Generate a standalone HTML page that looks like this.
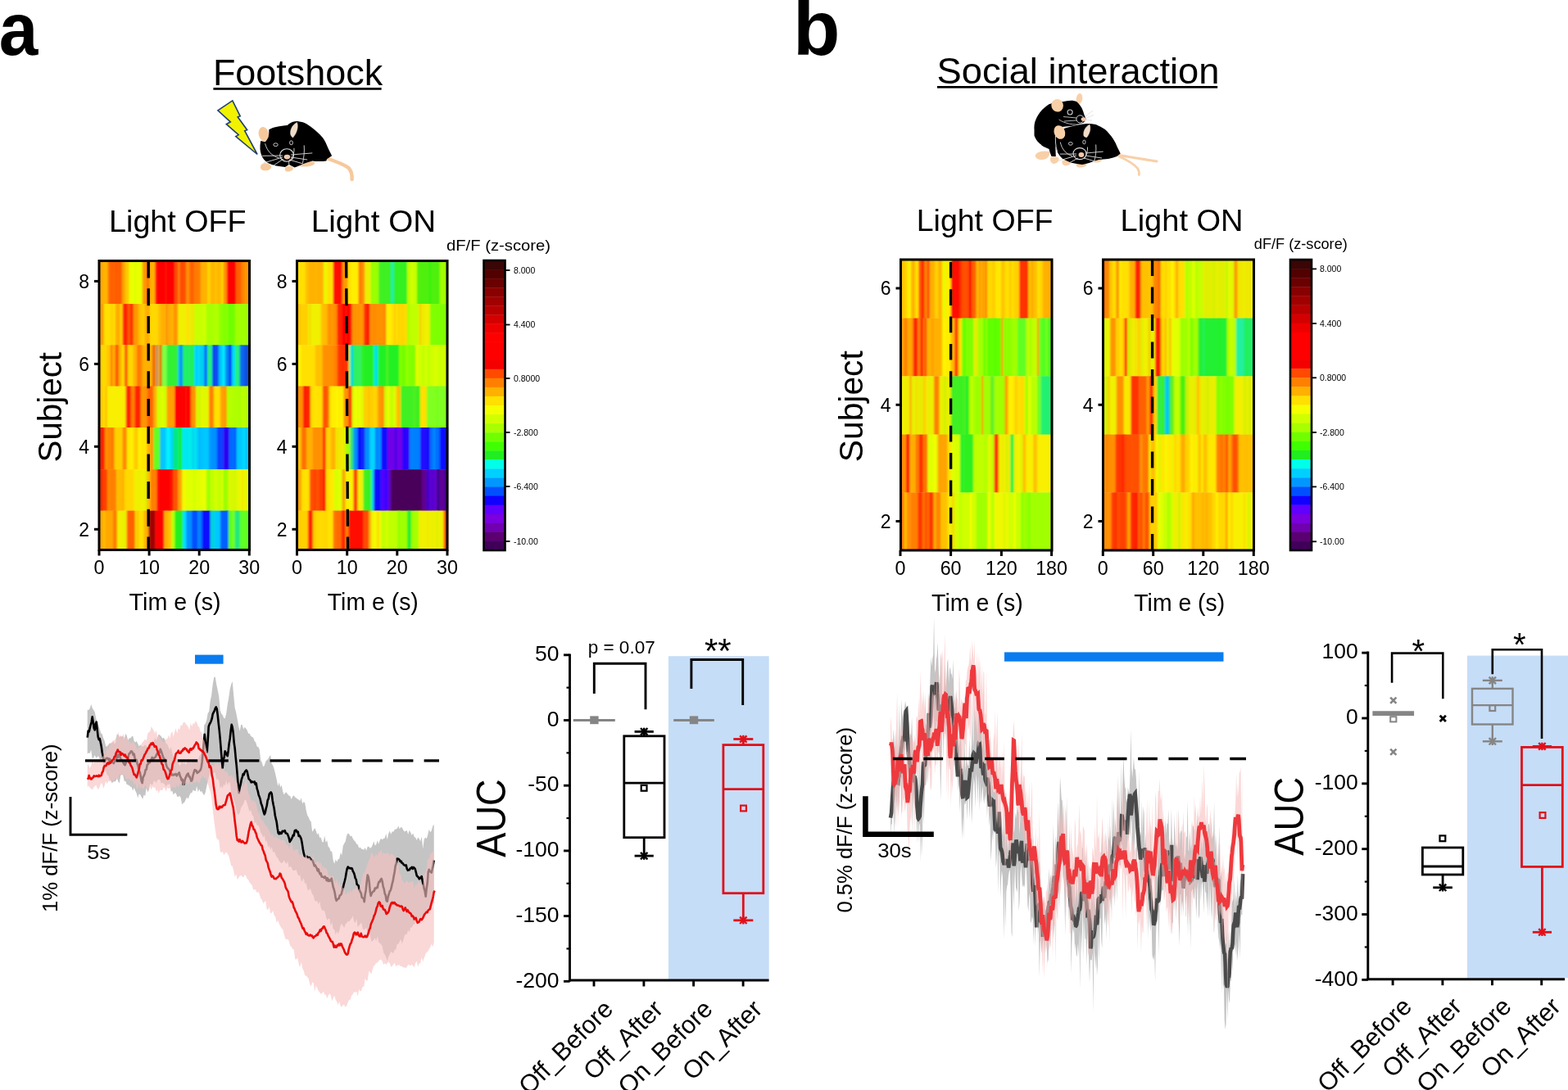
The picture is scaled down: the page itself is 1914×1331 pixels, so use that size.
<!DOCTYPE html><html><head><meta charset="utf-8"><title>Figure</title><style>html,body{margin:0;padding:0;background:#fff;overflow:hidden}svg{display:block}text{font-family:"Liberation Sans",Arial,Helvetica,sans-serif}</style></head><body>
<svg width="1914" height="1331" viewBox="0 0 1914 1331">
<defs><filter id="hb" x="-2%" y="-2%" width="104%" height="104%"><feGaussianBlur stdDeviation="0.9 0.4"/></filter></defs>
<rect width="1914" height="1331" fill="#fff"/>
<text x="-1.3" y="66.5" font-size="91" text-anchor="start" font-weight="bold" fill="#000" textLength="47.6" lengthAdjust="spacingAndGlyphs" >a</text>
<text x="968" y="67" font-size="94" text-anchor="start" font-weight="bold" fill="#000" >b</text>
<text x="259.9" y="103.6" font-size="45" text-anchor="start" font-weight="normal" fill="#000" textLength="207.3" lengthAdjust="spacingAndGlyphs" >Footshock</text>
<rect x="260.4" y="107.1" width="205.2" height="2.7" fill="#000"/>
<text x="1143.5" y="102" font-size="45" text-anchor="start" font-weight="normal" fill="#000" textLength="345" lengthAdjust="spacingAndGlyphs" >Social interaction</text>
<rect x="1144" y="105" width="342.2" height="2.7" fill="#000"/>
<polygon points="265.9,134.9 283.8,122.9 293.2,141.8 290.2,142.8 301.7,158.7 298.7,159.7 314.1,188.5 287.8,166.6 291.2,164.6 276.3,151.7 281.3,148.8" fill="#f2f200" stroke="#213f7a" stroke-width="1.6" stroke-linejoin="miter"/>
<path d="M398,193 C410,197 420,201 425.5,205 C429,209 430,214 429.6,219" fill="none" stroke="#f6c99c" stroke-width="4.4" stroke-linecap="round"/>
<path d="M319,201 C322,198 329,199 331,203 C332,207 326,209 321,208 C318,207 317,204 319,201 Z" fill="#f6c99c"/>
<path d="M348,205 C350,202 356,202 358,205 C358,208 354,210 350,209.5 C348,209 347,207 348,205 Z" fill="#f6c99c"/>
<path d="M362,200 C368,196.5 378,196 384,198 C385,201 380,203.5 372,203.5 C366,203.5 362,202.5 362,200 Z" fill="#f6c99c"/>
<ellipse cx="321.9" cy="163.8" rx="6.2" ry="8.9" fill="#f6c99c" transform="rotate(-12 321.9 163.8)"/>
<path d="M328.3,158.3 C331,156.6 334,155.6 337.2,154.9 C342,153.8 347,153.2 350.8,152.9 C353,151 355,149.6 357.6,148.8 C360,148.1 362,148 364.3,148.2 C368,148.6 371.5,149.6 374.5,151.5 C378,153.6 381.5,156.2 384.7,159 C388,162 391.5,165 394.2,168.5 C397,172.4 398.8,176.6 400.4,180.8 C402,184 403.8,187.5 405.1,190.3 L399,194.3 L398.3,196.4 C395,197 391.5,197.2 388.1,197.1 C385.8,197 383.5,196.6 381.3,196.4 C378,197.2 374.5,198.4 371.1,199.8 C367,201.5 363.5,203.5 359.6,204.5 L352.8,201.1 L348,203.9 C344.5,203.6 340.8,203.2 337.2,202.5 C333.5,201.6 330,200.6 327,199.1 C324.6,197.5 322.5,195.4 320.9,193 C319,189.8 317.8,185.9 317.5,182.1 C317.3,178.6 317.6,175.2 318.2,171.9 L323.6,173.3 C325.4,171.4 326.8,169.4 327.7,167.2 C328.3,164.3 328.5,161.3 328.3,158.3 Z" fill="#000"/>
<path d="M355,165 C353.5,160 356,153 362.5,149.5 C364,153.5 363.5,161 357.6,167.9 C356.5,167.4 355.6,166.4 355,165 Z" fill="#f3dcc4" stroke="#ddd" stroke-width="0.6"/>
<ellipse cx="336.5" cy="176.7" rx="2.7" ry="1.9" fill="none" stroke="#ccc" stroke-width="1"/>
<ellipse cx="355.5" cy="174.3" rx="1.9" ry="2.5" fill="none" stroke="#ccc" stroke-width="1"/>
<ellipse cx="350.1" cy="189.5" rx="8.4" ry="7.8" fill="none" stroke="#ddd" stroke-width="1.1"/>
<ellipse cx="350.4" cy="191.6" rx="3.8" ry="2.8" fill="#f1c8ae"/>
<g stroke="#ddd" stroke-width="0.9" fill="none"><path d="M345,190 L320.2,190.3"/><path d="M345,192 L321.5,199.1"/><path d="M346,194 L334,202"/><path d="M355,189 L381.3,186.9"/><path d="M355,192 L375.2,195"/><path d="M353,195 L370,200"/><path d="M323.6,175.3 C326,184 331,190 340.6,193"/><path d="M371.2,177.4 C371.8,185 371,192 369.5,199"/><path d="M358.9,180.8 C359.4,187 357.5,193 352.4,197"/><path d="M352.6,197.5 L352.8,201"/></g>
<path d="M1363,189 C1380,192 1396,194.5 1412,197" fill="none" stroke="#f8d0a8" stroke-width="3.2" stroke-linecap="round"/>
<path d="M1366,191 C1377,196 1385,201 1388.5,205.5 C1390.5,208.5 1390.8,211 1390.3,213.5" fill="none" stroke="#f8d0a8" stroke-width="2.8" stroke-linecap="round"/>
<path d="M1264,189 C1266,185 1274,183.5 1281,185 C1282,189 1280,194 1273,195 C1267,195.5 1263,193 1264,189 Z" fill="#f8d0a8"/>
<path d="M1282,193 C1284,190.5 1290,190.5 1292.6,193 C1293,197 1290,200 1286,200 C1283,199.5 1281.5,196 1282,193 Z" fill="#f8d0a8"/>
<path d="M1296.3,197 C1299,194.5 1305,194.5 1307.6,197.5 C1307.6,200.5 1304,202.4 1300,202.2 C1297.5,201.8 1296,199.5 1296.3,197 Z" fill="#f8d0a8"/>
<path d="M1313.6,200.5 C1317,198.5 1323,198.5 1326.4,201 C1326,203.5 1321,204.8 1317,204.6 C1314.5,204.2 1313.4,202.5 1313.6,200.5 Z" fill="#f8d0a8"/>
<path d="M1333.9,195 C1337,192.5 1342,192.5 1345.2,194.5 C1345,197.5 1341,198.8 1337.5,198.6 C1335,198.3 1333.7,197 1333.9,195 Z" fill="#f8d0a8"/>
<ellipse cx="1317.5" cy="120.5" rx="3.8" ry="6.5" fill="#f8d0a8" transform="rotate(8 1317.5 120.5)"/>
<path d="M1262.5,158.1 C1262.2,155 1262.5,152 1263.3,149.1 C1264.5,145.3 1266.3,141.7 1268.5,138.5 C1272,133.8 1276,130.2 1280.5,127.3 C1286,125.2 1291.5,124.5 1297.1,124.3 C1300.6,123.6 1304.1,123 1307.6,122.8 C1310,122.8 1312.3,123.3 1314.4,124.3 C1316.8,126.4 1318.8,128.9 1320.4,131.8 C1321.7,134.5 1322.7,137.3 1323.4,140.1 C1324.2,141.9 1325,143.6 1325.6,145.3 C1324.8,147 1323.8,148.5 1322.6,149.8 C1317.6,151.6 1312.6,153.1 1307.6,154.3 C1303.1,154.8 1298.6,155 1294.1,155.1 C1291.5,156.8 1289.5,158.8 1288.1,161.1 L1288.1,172.4 L1288.8,191.1 L1283.5,191.1 C1282.2,188.1 1281.2,185.1 1280.5,182.1 C1278.2,181.2 1276,180.2 1273.8,179.1 C1271.2,177 1268.7,174.8 1266.3,172.4 C1264.6,170.3 1263.3,168 1262.5,165.6 Z" fill="#000"/>
<ellipse cx="1290.6" cy="128.8" rx="7.3" ry="7.8" fill="#f8d0a8" transform="rotate(-20 1290.6 128.8)"/>
<circle cx="1306.1" cy="137" r="3" fill="none" stroke="#ccc" stroke-width="1.1"/>
<circle cx="1318.5" cy="145.4" r="4.6" fill="none" stroke="#ddd" stroke-width="1"/>
<ellipse cx="1322.6" cy="145.6" rx="3" ry="2.3" fill="#f1c8ae"/>
<g stroke="#ddd" stroke-width="0.8" fill="none"><path d="M1325,142 L1334,135"/><path d="M1326,144 L1335,140.5"/><path d="M1325.5,146.5 L1333,147"/><path d="M1314,144 L1298,142.5"/><path d="M1314,147 L1299,148"/><path d="M1292.6,146 C1300,151 1310,153 1322.6,151.5"/><path d="M1297,155.5 C1305,154.5 1314,153.5 1323,152.5"/></g>
<path d="M1288.1,172.4 C1288,169 1288.2,165.8 1288.8,162.6 C1292.2,160.3 1296,158.3 1300.1,156.6 C1305,155 1310,153.7 1315.1,152.8 C1318.8,151.9 1322.6,151.2 1326.4,150.9 C1330.2,150.8 1334,151.2 1337.6,152.1 C1341.6,153.7 1345.4,155.7 1348.9,158.1 C1352.5,161.5 1355.8,165.3 1358.7,169.4 C1360.8,172.7 1362.6,176.2 1364,179.9 C1365.3,182.4 1366.6,184.9 1367.7,187.4 L1363.2,191.1 C1359.7,192.3 1356.2,193.3 1352.7,194.1 C1348.9,194.5 1345.1,194.7 1341.4,194.9 C1337.6,196.1 1333.9,197.4 1330.1,198.7 C1327.1,199.6 1324.1,200.3 1321.1,200.9 C1316.6,200.4 1312.1,199.7 1307.6,198.7 C1304,197.4 1300.5,195.9 1297.1,194.1 C1294.8,191.8 1292.8,189.3 1291.1,186.6 C1289.8,183.7 1288.8,180.7 1288.1,177.6 Z" fill="#000"/>
<ellipse cx="1293.4" cy="161.5" rx="6.6" ry="8.6" fill="#f8d0a8" transform="rotate(-22 1293.4 161.5)"/>
<path d="M1323,166 C1322,161 1324,155.5 1330,152.2 C1331.5,156 1331,162 1326.5,167.8 C1325,167.5 1323.8,167 1323,166 Z" fill="#f3dcc4" stroke="#ddd" stroke-width="0.6"/>
<ellipse cx="1306.8" cy="175.4" rx="2.5" ry="1.8" fill="none" stroke="#ccc" stroke-width="1"/>
<ellipse cx="1323.4" cy="173.5" rx="1.6" ry="2.4" fill="none" stroke="#ccc" stroke-width="1"/>
<ellipse cx="1318" cy="187.6" rx="8" ry="7" fill="none" stroke="#ddd" stroke-width="1.1"/>
<ellipse cx="1319.9" cy="189" rx="3.4" ry="2.9" fill="#f1c8ae"/>
<g stroke="#ddd" stroke-width="0.9" fill="none"><path d="M1314,188 L1294,188.1"/><path d="M1314,190 L1291.8,196.4"/><path d="M1316,193 L1305,199"/><path d="M1325,187 L1346.7,185.1"/><path d="M1325,190 L1345,193"/><path d="M1323,193 L1340,198"/><path d="M1294.3,173.5 C1296,182 1301,188 1309,190.5"/><path d="M1337.7,176.5 C1338.3,184 1337.5,191 1335.5,197.5"/><path d="M1327.5,179.5 C1328,185 1326.5,190 1323.5,193.5"/><path d="M1288.8,163 C1287.8,170 1288.4,178 1290.5,185"/></g>
<g filter="url(#hb)">
<rect x="121.0" y="318.5" width="11.3" height="52.9" fill="#ffb000"/>
<rect x="122.9" y="318.5" width="1.2" height="52.9" fill="#ff9b00"/>
<rect x="127.6" y="318.5" width="1.1" height="52.9" fill="#ffbb00"/>
<rect x="131.9" y="318.5" width="17.3" height="52.9" fill="#ff6000"/>
<rect x="132.6" y="318.5" width="1.7" height="52.9" fill="#ff7100"/>
<rect x="141.6" y="318.5" width="1.2" height="52.9" fill="#ff5500"/>
<rect x="145.9" y="318.5" width="1.2" height="52.9" fill="#ff5200"/>
<rect x="148.8" y="318.5" width="4.4" height="52.9" fill="#ffa000"/>
<rect x="149.8" y="318.5" width="1.0" height="52.9" fill="#ffa600"/>
<rect x="152.7" y="318.5" width="5.4" height="52.9" fill="#ffd000"/>
<rect x="153.8" y="318.5" width="2.1" height="52.9" fill="#ffc200"/>
<rect x="157.7" y="318.5" width="16.3" height="52.9" fill="#e8ff00"/>
<rect x="160.0" y="318.5" width="1.0" height="52.9" fill="#f1ff00"/>
<rect x="164.3" y="318.5" width="1.7" height="52.9" fill="#dbff00"/>
<rect x="167.7" y="318.5" width="1.9" height="52.9" fill="#eaff00"/>
<rect x="172.3" y="318.5" width="1.2" height="52.9" fill="#eeff00"/>
<rect x="173.6" y="318.5" width="5.4" height="52.9" fill="#ffa000"/>
<rect x="175.2" y="318.5" width="1.4" height="52.9" fill="#ff8e00"/>
<rect x="178.6" y="318.5" width="4.4" height="52.9" fill="#ff8000"/>
<rect x="180.2" y="318.5" width="1.5" height="52.9" fill="#ff7000"/>
<rect x="182.5" y="318.5" width="7.3" height="52.9" fill="#ffb000"/>
<rect x="186.3" y="318.5" width="1.3" height="52.9" fill="#ffb300"/>
<rect x="189.5" y="318.5" width="24.2" height="52.9" fill="#ff0000"/>
<rect x="190.8" y="318.5" width="2.2" height="52.9" fill="#ff0b00"/>
<rect x="201.6" y="318.5" width="1.6" height="52.9" fill="#ff1a00"/>
<rect x="213.3" y="318.5" width="4.4" height="52.9" fill="#ff5000"/>
<rect x="215.0" y="318.5" width="1.2" height="52.9" fill="#ff3e00"/>
<rect x="217.3" y="318.5" width="2.4" height="52.9" fill="#ff8000"/>
<rect x="219.3" y="318.5" width="8.3" height="52.9" fill="#ff5000"/>
<rect x="221.0" y="318.5" width="1.7" height="52.9" fill="#ff4500"/>
<rect x="224.1" y="318.5" width="1.6" height="52.9" fill="#ff5100"/>
<rect x="227.2" y="318.5" width="4.4" height="52.9" fill="#ff9000"/>
<rect x="231.2" y="318.5" width="6.4" height="52.9" fill="#ff6000"/>
<rect x="233.5" y="318.5" width="1.7" height="52.9" fill="#ff6400"/>
<rect x="237.1" y="318.5" width="8.3" height="52.9" fill="#ff8000"/>
<rect x="239.2" y="318.5" width="1.1" height="52.9" fill="#ff6f00"/>
<rect x="242.6" y="318.5" width="1.2" height="52.9" fill="#ff8200"/>
<rect x="245.1" y="318.5" width="8.3" height="52.9" fill="#ffb000"/>
<rect x="246.7" y="318.5" width="1.0" height="52.9" fill="#ffb200"/>
<rect x="253.0" y="318.5" width="4.4" height="52.9" fill="#ffd000"/>
<rect x="253.8" y="318.5" width="1.1" height="52.9" fill="#ffd900"/>
<rect x="257.0" y="318.5" width="16.3" height="52.9" fill="#ffb800"/>
<rect x="259.4" y="318.5" width="2.2" height="52.9" fill="#ffb500"/>
<rect x="262.4" y="318.5" width="1.9" height="52.9" fill="#ffc800"/>
<rect x="270.5" y="318.5" width="2.1" height="52.9" fill="#ffe200"/>
<rect x="272.9" y="318.5" width="4.4" height="52.9" fill="#ff8000"/>
<rect x="274.6" y="318.5" width="2.2" height="52.9" fill="#ff9e00"/>
<rect x="276.8" y="318.5" width="11.3" height="52.9" fill="#ff0000"/>
<rect x="287.7" y="318.5" width="7.3" height="52.9" fill="#ff6000"/>
<rect x="290.0" y="318.5" width="1.6" height="52.9" fill="#ff5c00"/>
<rect x="294.7" y="318.5" width="10.2" height="52.9" fill="#ff9000"/>
<rect x="295.4" y="318.5" width="2.2" height="52.9" fill="#ff8000"/>
<rect x="300.2" y="318.5" width="1.7" height="52.9" fill="#ff9f00"/>
<rect x="303.4" y="318.5" width="1.1" height="52.9" fill="#ff9500"/>
<rect x="121.0" y="371.1" width="6.3" height="50.5" fill="#ffb000"/>
<rect x="123.1" y="371.1" width="2.4" height="50.5" fill="#ff9400"/>
<rect x="126.9" y="371.1" width="14.3" height="50.5" fill="#ffe000"/>
<rect x="135.6" y="371.1" width="2.2" height="50.5" fill="#ffce00"/>
<rect x="140.8" y="371.1" width="9.3" height="50.5" fill="#ffb000"/>
<rect x="142.5" y="371.1" width="2.2" height="50.5" fill="#ffa800"/>
<rect x="147.0" y="371.1" width="1.9" height="50.5" fill="#ffdf00"/>
<rect x="149.8" y="371.1" width="6.4" height="50.5" fill="#ff2000"/>
<rect x="155.7" y="371.1" width="3.4" height="50.5" fill="#ff6000"/>
<rect x="158.7" y="371.1" width="4.4" height="50.5" fill="#ff2000"/>
<rect x="160.0" y="371.1" width="1.7" height="50.5" fill="#ff3900"/>
<rect x="162.7" y="371.1" width="7.3" height="50.5" fill="#ffa000"/>
<rect x="164.5" y="371.1" width="2.2" height="50.5" fill="#ff9200"/>
<rect x="169.6" y="371.1" width="7.3" height="50.5" fill="#ffd000"/>
<rect x="170.7" y="371.1" width="2.0" height="50.5" fill="#ffbd00"/>
<rect x="174.8" y="371.1" width="1.4" height="50.5" fill="#ffc900"/>
<rect x="176.6" y="371.1" width="6.4" height="50.5" fill="#ffb000"/>
<rect x="178.7" y="371.1" width="1.4" height="50.5" fill="#ffb100"/>
<rect x="181.3" y="371.1" width="1.1" height="50.5" fill="#ff9600"/>
<rect x="182.5" y="371.1" width="13.3" height="50.5" fill="#ffd800"/>
<rect x="193.0" y="371.1" width="1.9" height="50.5" fill="#ffbe00"/>
<rect x="195.4" y="371.1" width="7.3" height="50.5" fill="#ffb000"/>
<rect x="201.2" y="371.1" width="1.2" height="50.5" fill="#ffb200"/>
<rect x="202.4" y="371.1" width="3.4" height="50.5" fill="#ff9000"/>
<rect x="205.4" y="371.1" width="6.4" height="50.5" fill="#ffb000"/>
<rect x="206.9" y="371.1" width="1.8" height="50.5" fill="#ffa900"/>
<rect x="209.6" y="371.1" width="1.6" height="50.5" fill="#ffc000"/>
<rect x="211.3" y="371.1" width="6.4" height="50.5" fill="#ff9800"/>
<rect x="213.1" y="371.1" width="1.0" height="50.5" fill="#ff8c00"/>
<rect x="217.3" y="371.1" width="10.3" height="50.5" fill="#f0f000"/>
<rect x="227.2" y="371.1" width="4.4" height="50.5" fill="#ffe000"/>
<rect x="231.2" y="371.1" width="6.4" height="50.5" fill="#f0f000"/>
<rect x="232.1" y="371.1" width="1.5" height="50.5" fill="#def000"/>
<rect x="234.8" y="371.1" width="1.7" height="50.5" fill="#f0df00"/>
<rect x="237.1" y="371.1" width="15.3" height="50.5" fill="#c8ff00"/>
<rect x="238.6" y="371.1" width="0.9" height="50.5" fill="#c0ff00"/>
<rect x="241.2" y="371.1" width="1.1" height="50.5" fill="#d2ff00"/>
<rect x="248.3" y="371.1" width="1.3" height="50.5" fill="#d6ff00"/>
<rect x="252.0" y="371.1" width="15.3" height="50.5" fill="#a8ff00"/>
<rect x="262.4" y="371.1" width="1.0" height="50.5" fill="#c7ff00"/>
<rect x="265.6" y="371.1" width="1.3" height="50.5" fill="#c2ff00"/>
<rect x="266.9" y="371.1" width="8.3" height="50.5" fill="#90ff00"/>
<rect x="272.2" y="371.1" width="1.2" height="50.5" fill="#79ff00"/>
<rect x="274.8" y="371.1" width="12.3" height="50.5" fill="#70ff00"/>
<rect x="276.0" y="371.1" width="2.1" height="50.5" fill="#91ff00"/>
<rect x="286.8" y="371.1" width="18.1" height="50.5" fill="#a0ff00"/>
<rect x="289.2" y="371.1" width="1.1" height="50.5" fill="#9dff00"/>
<rect x="121.0" y="421.3" width="14.3" height="50.6" fill="#ffc800"/>
<rect x="121.7" y="421.3" width="1.5" height="50.6" fill="#ffbf00"/>
<rect x="125.4" y="421.3" width="1.0" height="50.6" fill="#f4ff00"/>
<rect x="128.1" y="421.3" width="1.8" height="50.6" fill="#ffdf00"/>
<rect x="131.1" y="421.3" width="0.9" height="50.6" fill="#ffc400"/>
<rect x="134.9" y="421.3" width="2.4" height="50.6" fill="#ff7000"/>
<rect x="136.9" y="421.3" width="4.4" height="50.6" fill="#ffb000"/>
<rect x="138.7" y="421.3" width="2.1" height="50.6" fill="#ffab00"/>
<rect x="140.8" y="421.3" width="4.4" height="50.6" fill="#ff6000"/>
<rect x="141.6" y="421.3" width="1.3" height="50.6" fill="#ff4c00"/>
<rect x="144.8" y="421.3" width="3.4" height="50.6" fill="#ffb000"/>
<rect x="147.8" y="421.3" width="4.4" height="50.6" fill="#ffd000"/>
<rect x="150.0" y="421.3" width="1.8" height="50.6" fill="#ffea00"/>
<rect x="151.8" y="421.3" width="4.4" height="50.6" fill="#ff6000"/>
<rect x="154.1" y="421.3" width="1.7" height="50.6" fill="#ff4f00"/>
<rect x="155.7" y="421.3" width="7.3" height="50.6" fill="#ffd800"/>
<rect x="157.1" y="421.3" width="0.9" height="50.6" fill="#ffda00"/>
<rect x="162.7" y="421.3" width="5.4" height="50.6" fill="#ffb000"/>
<rect x="167.6" y="421.3" width="2.4" height="50.6" fill="#ff6000"/>
<rect x="169.6" y="421.3" width="4.4" height="50.6" fill="#ff9000"/>
<rect x="170.9" y="421.3" width="1.6" height="50.6" fill="#ff7800"/>
<rect x="173.6" y="421.3" width="13.3" height="50.6" fill="#ffb000"/>
<rect x="186.5" y="421.3" width="2.4" height="50.6" fill="#e04000"/>
<rect x="188.5" y="421.3" width="3.4" height="50.6" fill="#ff9000"/>
<rect x="191.5" y="421.3" width="1.4" height="50.6" fill="#0080ff"/>
<rect x="192.4" y="421.3" width="3.4" height="50.6" fill="#ffb000"/>
<rect x="195.4" y="421.3" width="2.4" height="50.6" fill="#d04000"/>
<rect x="197.4" y="421.3" width="6.4" height="50.6" fill="#80ff40"/>
<rect x="201.9" y="421.3" width="0.9" height="50.6" fill="#84ff40"/>
<rect x="203.4" y="421.3" width="14.3" height="50.6" fill="#30f030"/>
<rect x="204.4" y="421.3" width="1.5" height="50.6" fill="#30f046"/>
<rect x="211.9" y="421.3" width="1.7" height="50.6" fill="#3af030"/>
<rect x="217.3" y="421.3" width="2.4" height="50.6" fill="#00c0ff"/>
<rect x="219.3" y="421.3" width="4.4" height="50.6" fill="#0090f0"/>
<rect x="221.2" y="421.3" width="2.0" height="50.6" fill="#009ff0"/>
<rect x="223.2" y="421.3" width="14.3" height="50.6" fill="#20f060"/>
<rect x="227.7" y="421.3" width="1.6" height="50.6" fill="#20f068"/>
<rect x="234.9" y="421.3" width="2.0" height="50.6" fill="#20f04a"/>
<rect x="237.1" y="421.3" width="6.4" height="50.6" fill="#00e0ff"/>
<rect x="239.5" y="421.3" width="1.4" height="50.6" fill="#00b8ff"/>
<rect x="243.1" y="421.3" width="6.4" height="50.6" fill="#00d0f0"/>
<rect x="249.0" y="421.3" width="4.4" height="50.6" fill="#0080ff"/>
<rect x="250.8" y="421.3" width="2.2" height="50.6" fill="#0064ff"/>
<rect x="253.0" y="421.3" width="6.4" height="50.6" fill="#20f080"/>
<rect x="259.0" y="421.3" width="8.3" height="50.6" fill="#1050f0"/>
<rect x="259.6" y="421.3" width="2.2" height="50.6" fill="#103cf0"/>
<rect x="264.7" y="421.3" width="1.1" height="50.6" fill="#1048f0"/>
<rect x="266.9" y="421.3" width="4.4" height="50.6" fill="#00c0ff"/>
<rect x="270.9" y="421.3" width="4.4" height="50.6" fill="#00e8ff"/>
<rect x="274.8" y="421.3" width="4.4" height="50.6" fill="#0090f0"/>
<rect x="278.8" y="421.3" width="4.4" height="50.6" fill="#0050ff"/>
<rect x="280.5" y="421.3" width="1.8" height="50.6" fill="#003aff"/>
<rect x="282.8" y="421.3" width="4.4" height="50.6" fill="#00e0ff"/>
<rect x="283.7" y="421.3" width="1.3" height="50.6" fill="#00cbff"/>
<rect x="286.8" y="421.3" width="6.4" height="50.6" fill="#20f080"/>
<rect x="292.7" y="421.3" width="6.4" height="50.6" fill="#1060f0"/>
<rect x="293.9" y="421.3" width="1.7" height="50.6" fill="#1074f0"/>
<rect x="298.7" y="421.3" width="6.2" height="50.6" fill="#1050e0"/>
<rect x="121.0" y="471.6" width="10.3" height="50.7" fill="#ffc000"/>
<rect x="122.9" y="471.6" width="2.0" height="50.7" fill="#ffcd00"/>
<rect x="125.7" y="471.6" width="2.1" height="50.7" fill="#ffe600"/>
<rect x="130.9" y="471.6" width="23.2" height="50.7" fill="#f8f000"/>
<rect x="153.7" y="471.6" width="6.4" height="50.7" fill="#ff2000"/>
<rect x="159.7" y="471.6" width="5.4" height="50.7" fill="#ff8000"/>
<rect x="164.7" y="471.6" width="7.3" height="50.7" fill="#ff2000"/>
<rect x="171.6" y="471.6" width="8.3" height="50.7" fill="#ff9000"/>
<rect x="172.4" y="471.6" width="2.1" height="50.7" fill="#ff9c00"/>
<rect x="176.2" y="471.6" width="2.0" height="50.7" fill="#ff9500"/>
<rect x="179.5" y="471.6" width="8.3" height="50.7" fill="#ff7000"/>
<rect x="181.8" y="471.6" width="1.1" height="50.7" fill="#ff4900"/>
<rect x="184.0" y="471.6" width="2.1" height="50.7" fill="#ff6000"/>
<rect x="187.5" y="471.6" width="4.4" height="50.7" fill="#ffb000"/>
<rect x="191.5" y="471.6" width="12.3" height="50.7" fill="#d0ff00"/>
<rect x="197.5" y="471.6" width="1.3" height="50.7" fill="#f3ff00"/>
<rect x="203.4" y="471.6" width="10.3" height="50.7" fill="#ffa000"/>
<rect x="208.9" y="471.6" width="2.1" height="50.7" fill="#ff9f00"/>
<rect x="213.3" y="471.6" width="20.3" height="50.7" fill="#ff0000"/>
<rect x="226.0" y="471.6" width="2.1" height="50.7" fill="#ff0b00"/>
<rect x="233.1" y="471.6" width="6.4" height="50.7" fill="#ff9000"/>
<rect x="235.0" y="471.6" width="1.7" height="50.7" fill="#ff9200"/>
<rect x="239.1" y="471.6" width="16.3" height="50.7" fill="#e0f800"/>
<rect x="240.1" y="471.6" width="1.7" height="50.7" fill="#d2f800"/>
<rect x="242.9" y="471.6" width="1.5" height="50.7" fill="#bef800"/>
<rect x="246.0" y="471.6" width="1.9" height="50.7" fill="#e9f800"/>
<rect x="253.8" y="471.6" width="1.0" height="50.7" fill="#f8f300"/>
<rect x="255.0" y="471.6" width="6.4" height="50.7" fill="#ff8000"/>
<rect x="260.9" y="471.6" width="8.3" height="50.7" fill="#ffe000"/>
<rect x="268.9" y="471.6" width="8.3" height="50.7" fill="#ffa000"/>
<rect x="274.8" y="471.6" width="1.1" height="50.7" fill="#ff8400"/>
<rect x="276.8" y="471.6" width="28.1" height="50.7" fill="#b0ff00"/>
<rect x="278.3" y="471.6" width="1.4" height="50.7" fill="#bbff00"/>
<rect x="281.1" y="471.6" width="2.3" height="50.7" fill="#b8ff00"/>
<rect x="291.4" y="471.6" width="1.2" height="50.7" fill="#a5ff00"/>
<rect x="295.9" y="471.6" width="1.1" height="50.7" fill="#caff00"/>
<rect x="299.4" y="471.6" width="1.5" height="50.7" fill="#bbff00"/>
<rect x="301.8" y="471.6" width="2.4" height="50.7" fill="#bdff00"/>
<rect x="121.0" y="522.0" width="7.3" height="51.5" fill="#ff2000"/>
<rect x="127.9" y="522.0" width="12.3" height="51.5" fill="#ff9000"/>
<rect x="132.2" y="522.0" width="1.7" height="51.5" fill="#ff7b00"/>
<rect x="135.7" y="522.0" width="2.2" height="51.5" fill="#ff6d00"/>
<rect x="139.8" y="522.0" width="10.3" height="51.5" fill="#ffd000"/>
<rect x="149.8" y="522.0" width="5.4" height="51.5" fill="#ff8000"/>
<rect x="152.0" y="522.0" width="0.9" height="51.5" fill="#ff9c00"/>
<rect x="154.7" y="522.0" width="10.3" height="51.5" fill="#ffee00"/>
<rect x="156.9" y="522.0" width="2.4" height="51.5" fill="#ffe600"/>
<rect x="160.4" y="522.0" width="1.0" height="51.5" fill="#f9ff00"/>
<rect x="162.7" y="522.0" width="1.1" height="51.5" fill="#ffcc00"/>
<rect x="164.7" y="522.0" width="3.4" height="51.5" fill="#ffc000"/>
<rect x="167.6" y="522.0" width="12.3" height="51.5" fill="#ffe800"/>
<rect x="170.0" y="522.0" width="1.2" height="51.5" fill="#fffa00"/>
<rect x="179.5" y="522.0" width="8.3" height="51.5" fill="#ffa000"/>
<rect x="181.0" y="522.0" width="1.9" height="51.5" fill="#ffba00"/>
<rect x="185.5" y="522.0" width="1.0" height="51.5" fill="#ff7c00"/>
<rect x="187.5" y="522.0" width="8.3" height="51.5" fill="#60ff20"/>
<rect x="195.4" y="522.0" width="2.4" height="51.5" fill="#00b0ff"/>
<rect x="197.4" y="522.0" width="5.4" height="51.5" fill="#00c8ff"/>
<rect x="199.6" y="522.0" width="1.4" height="51.5" fill="#00c5ff"/>
<rect x="202.4" y="522.0" width="9.3" height="51.5" fill="#00e0ff"/>
<rect x="204.3" y="522.0" width="2.1" height="51.5" fill="#00fffd"/>
<rect x="209.8" y="522.0" width="1.5" height="51.5" fill="#00c2ff"/>
<rect x="211.3" y="522.0" width="6.4" height="51.5" fill="#00e880"/>
<rect x="215.6" y="522.0" width="1.0" height="51.5" fill="#00e89b"/>
<rect x="217.3" y="522.0" width="5.4" height="51.5" fill="#10f040"/>
<rect x="222.2" y="522.0" width="19.3" height="51.5" fill="#00e8f0"/>
<rect x="226.4" y="522.0" width="2.0" height="51.5" fill="#00e7f0"/>
<rect x="231.7" y="522.0" width="1.7" height="51.5" fill="#00f0e4"/>
<rect x="234.7" y="522.0" width="2.3" height="51.5" fill="#00d3f0"/>
<rect x="239.5" y="522.0" width="1.6" height="51.5" fill="#00d2f0"/>
<rect x="241.1" y="522.0" width="14.3" height="51.5" fill="#00c8ff"/>
<rect x="242.6" y="522.0" width="1.5" height="51.5" fill="#00afff"/>
<rect x="245.7" y="522.0" width="2.1" height="51.5" fill="#00c0ff"/>
<rect x="255.0" y="522.0" width="10.3" height="51.5" fill="#0090ff"/>
<rect x="255.5" y="522.0" width="2.2" height="51.5" fill="#009cff"/>
<rect x="259.5" y="522.0" width="1.3" height="51.5" fill="#0094ff"/>
<rect x="264.9" y="522.0" width="8.3" height="51.5" fill="#1040ff"/>
<rect x="272.9" y="522.0" width="7.3" height="51.5" fill="#3000f0"/>
<rect x="275.3" y="522.0" width="1.1" height="51.5" fill="#1b00f0"/>
<rect x="279.8" y="522.0" width="9.3" height="51.5" fill="#0070ff"/>
<rect x="281.6" y="522.0" width="1.8" height="51.5" fill="#0065ff"/>
<rect x="286.3" y="522.0" width="1.5" height="51.5" fill="#004fff"/>
<rect x="288.7" y="522.0" width="16.2" height="51.5" fill="#00c8ff"/>
<rect x="296.4" y="522.0" width="2.0" height="51.5" fill="#00e2ff"/>
<rect x="121.0" y="573.2" width="10.3" height="50.7" fill="#ff4000"/>
<rect x="122.8" y="573.2" width="2.2" height="50.7" fill="#ff1d00"/>
<rect x="130.9" y="573.2" width="11.3" height="50.7" fill="#ff8000"/>
<rect x="131.4" y="573.2" width="2.3" height="50.7" fill="#ff8d00"/>
<rect x="141.8" y="573.2" width="10.3" height="50.7" fill="#ffb000"/>
<rect x="142.3" y="573.2" width="2.2" height="50.7" fill="#ffc600"/>
<rect x="146.3" y="573.2" width="2.3" height="50.7" fill="#ffbf00"/>
<rect x="151.8" y="573.2" width="12.3" height="50.7" fill="#ffd800"/>
<rect x="161.1" y="573.2" width="1.5" height="50.7" fill="#ffdb00"/>
<rect x="163.7" y="573.2" width="16.3" height="50.7" fill="#f0f000"/>
<rect x="169.4" y="573.2" width="1.0" height="50.7" fill="#ecf000"/>
<rect x="177.9" y="573.2" width="1.7" height="50.7" fill="#cef000"/>
<rect x="179.5" y="573.2" width="4.4" height="50.7" fill="#ffc000"/>
<rect x="181.3" y="573.2" width="1.9" height="50.7" fill="#ffbf00"/>
<rect x="183.5" y="573.2" width="8.3" height="50.7" fill="#ff8000"/>
<rect x="185.6" y="573.2" width="0.9" height="50.7" fill="#ff7900"/>
<rect x="191.5" y="573.2" width="20.3" height="50.7" fill="#ff0000"/>
<rect x="193.4" y="573.2" width="1.7" height="50.7" fill="#ff0f00"/>
<rect x="208.0" y="573.2" width="1.4" height="50.7" fill="#ff1500"/>
<rect x="211.3" y="573.2" width="6.4" height="50.7" fill="#ff5000"/>
<rect x="212.8" y="573.2" width="1.0" height="50.7" fill="#ff5d00"/>
<rect x="217.3" y="573.2" width="5.4" height="50.7" fill="#ffa000"/>
<rect x="220.1" y="573.2" width="1.5" height="50.7" fill="#ffad00"/>
<rect x="222.2" y="573.2" width="30.2" height="50.7" fill="#e0ff00"/>
<rect x="224.1" y="573.2" width="2.3" height="50.7" fill="#fff600"/>
<rect x="236.4" y="573.2" width="1.9" height="50.7" fill="#cdff00"/>
<rect x="245.6" y="573.2" width="1.1" height="50.7" fill="#f4ff00"/>
<rect x="248.7" y="573.2" width="1.8" height="50.7" fill="#f2ff00"/>
<rect x="252.0" y="573.2" width="5.4" height="50.7" fill="#a0ff00"/>
<rect x="257.0" y="573.2" width="16.3" height="50.7" fill="#d0ff00"/>
<rect x="258.5" y="573.2" width="1.9" height="50.7" fill="#b5ff00"/>
<rect x="267.4" y="573.2" width="1.1" height="50.7" fill="#abff00"/>
<rect x="271.4" y="573.2" width="1.2" height="50.7" fill="#d8ff00"/>
<rect x="272.9" y="573.2" width="6.4" height="50.7" fill="#a0ff00"/>
<rect x="273.6" y="573.2" width="1.3" height="50.7" fill="#82ff00"/>
<rect x="278.8" y="573.2" width="26.1" height="50.7" fill="#e8f800"/>
<rect x="280.7" y="573.2" width="0.9" height="50.7" fill="#c5f800"/>
<rect x="282.8" y="573.2" width="1.9" height="50.7" fill="#d0f800"/>
<rect x="285.6" y="573.2" width="2.4" height="50.7" fill="#ccf800"/>
<rect x="289.2" y="573.2" width="1.9" height="50.7" fill="#ddf800"/>
<rect x="293.5" y="573.2" width="1.1" height="50.7" fill="#f8f800"/>
<rect x="295.4" y="573.2" width="1.7" height="50.7" fill="#f8e100"/>
<rect x="298.0" y="573.2" width="2.2" height="50.7" fill="#eaf800"/>
<rect x="303.5" y="573.2" width="1.0" height="50.7" fill="#f1f800"/>
<rect x="121.0" y="623.6" width="17.3" height="48.2" fill="#ffa800"/>
<rect x="126.0" y="623.6" width="2.1" height="48.2" fill="#ffc400"/>
<rect x="137.9" y="623.6" width="5.4" height="48.2" fill="#ff8000"/>
<rect x="140.1" y="623.6" width="1.6" height="48.2" fill="#ff7500"/>
<rect x="142.8" y="623.6" width="12.3" height="48.2" fill="#f0f000"/>
<rect x="149.7" y="623.6" width="2.3" height="48.2" fill="#e5f000"/>
<rect x="154.7" y="623.6" width="10.3" height="48.2" fill="#ff6000"/>
<rect x="164.7" y="623.6" width="11.3" height="48.2" fill="#ffe000"/>
<rect x="167.0" y="623.6" width="1.9" height="48.2" fill="#ffba00"/>
<rect x="175.6" y="623.6" width="6.4" height="48.2" fill="#ffb000"/>
<rect x="181.5" y="623.6" width="8.3" height="48.2" fill="#a00000"/>
<rect x="187.4" y="623.6" width="1.2" height="48.2" fill="#a00700"/>
<rect x="189.5" y="623.6" width="11.3" height="48.2" fill="#ff0000"/>
<rect x="200.4" y="623.6" width="9.3" height="48.2" fill="#ffc000"/>
<rect x="202.5" y="623.6" width="1.9" height="48.2" fill="#ffa400"/>
<rect x="209.3" y="623.6" width="4.4" height="48.2" fill="#c0ff00"/>
<rect x="209.9" y="623.6" width="1.0" height="48.2" fill="#c2ff00"/>
<rect x="211.9" y="623.6" width="1.4" height="48.2" fill="#b2ff00"/>
<rect x="213.3" y="623.6" width="10.3" height="48.2" fill="#20f020"/>
<rect x="214.2" y="623.6" width="1.0" height="48.2" fill="#31f020"/>
<rect x="223.2" y="623.6" width="4.4" height="48.2" fill="#00e0ff"/>
<rect x="227.2" y="623.6" width="7.3" height="48.2" fill="#0090ff"/>
<rect x="234.1" y="623.6" width="7.3" height="48.2" fill="#0050ff"/>
<rect x="241.1" y="623.6" width="6.4" height="48.2" fill="#0080ff"/>
<rect x="245.8" y="623.6" width="1.2" height="48.2" fill="#0056ff"/>
<rect x="247.0" y="623.6" width="10.3" height="48.2" fill="#1010ff"/>
<rect x="257.0" y="623.6" width="5.4" height="48.2" fill="#00e0e0"/>
<rect x="258.8" y="623.6" width="1.5" height="48.2" fill="#00bee0"/>
<rect x="261.9" y="623.6" width="7.3" height="48.2" fill="#00c8ff"/>
<rect x="268.9" y="623.6" width="10.3" height="48.2" fill="#0060ff"/>
<rect x="276.6" y="623.6" width="2.2" height="48.2" fill="#0058ff"/>
<rect x="278.8" y="623.6" width="8.3" height="48.2" fill="#60ff20"/>
<rect x="280.2" y="623.6" width="1.8" height="48.2" fill="#4eff20"/>
<rect x="283.6" y="623.6" width="1.8" height="48.2" fill="#84ff20"/>
<rect x="286.8" y="623.6" width="6.4" height="48.2" fill="#20e880"/>
<rect x="292.7" y="623.6" width="12.2" height="48.2" fill="#60ff20"/>
<rect x="294.0" y="623.6" width="2.1" height="48.2" fill="#5bff20"/>
<rect x="300.8" y="623.6" width="1.7" height="48.2" fill="#64ff20"/>
</g>
<line x1="181.2" y1="318.5" x2="181.2" y2="671.5" stroke="#000" stroke-width="3.4" stroke-dasharray="21 12.7" stroke-dashoffset="0"/>
<rect x="121" y="318.5" width="183.5" height="353.0" fill="none" stroke="#000" stroke-width="3"/>
<g filter="url(#hb)">
<rect x="362.5" y="318.5" width="10.8" height="52.9" fill="#ffe000"/>
<rect x="372.9" y="318.5" width="4.4" height="52.9" fill="#ffc000"/>
<rect x="376.9" y="318.5" width="18.3" height="52.9" fill="#ffb000"/>
<rect x="379.2" y="318.5" width="1.5" height="52.9" fill="#ffb700"/>
<rect x="385.4" y="318.5" width="1.1" height="52.9" fill="#ffbe00"/>
<rect x="394.7" y="318.5" width="12.3" height="52.9" fill="#ffe800"/>
<rect x="395.9" y="318.5" width="2.2" height="52.9" fill="#dcff00"/>
<rect x="401.1" y="318.5" width="2.1" height="52.9" fill="#ffd900"/>
<rect x="405.6" y="318.5" width="1.1" height="52.9" fill="#fffc00"/>
<rect x="406.6" y="318.5" width="11.3" height="52.9" fill="#ff1000"/>
<rect x="407.9" y="318.5" width="1.5" height="52.9" fill="#ff0000"/>
<rect x="410.6" y="318.5" width="2.2" height="52.9" fill="#ff0900"/>
<rect x="417.6" y="318.5" width="7.3" height="52.9" fill="#ff9000"/>
<rect x="420.3" y="318.5" width="1.8" height="52.9" fill="#ffa500"/>
<rect x="424.5" y="318.5" width="13.3" height="52.9" fill="#ffee00"/>
<rect x="426.1" y="318.5" width="1.8" height="52.9" fill="#ffdc00"/>
<rect x="437.4" y="318.5" width="8.3" height="52.9" fill="#ff9000"/>
<rect x="439.1" y="318.5" width="1.3" height="52.9" fill="#ff5e00"/>
<rect x="445.4" y="318.5" width="7.3" height="52.9" fill="#f0f000"/>
<rect x="447.4" y="318.5" width="1.1" height="52.9" fill="#d6f000"/>
<rect x="450.0" y="318.5" width="1.4" height="52.9" fill="#f0e700"/>
<rect x="452.3" y="318.5" width="10.3" height="52.9" fill="#a0ff00"/>
<rect x="454.2" y="318.5" width="0.9" height="52.9" fill="#7fff00"/>
<rect x="458.5" y="318.5" width="2.1" height="52.9" fill="#92ff00"/>
<rect x="462.2" y="318.5" width="15.3" height="52.9" fill="#40f020"/>
<rect x="468.1" y="318.5" width="1.9" height="52.9" fill="#3df020"/>
<rect x="475.6" y="318.5" width="1.5" height="52.9" fill="#33f020"/>
<rect x="477.1" y="318.5" width="4.4" height="52.9" fill="#20f0a0"/>
<rect x="478.6" y="318.5" width="2.3" height="52.9" fill="#20f096"/>
<rect x="481.1" y="318.5" width="16.3" height="52.9" fill="#30f020"/>
<rect x="488.1" y="318.5" width="2.2" height="52.9" fill="#3af020"/>
<rect x="497.0" y="318.5" width="12.3" height="52.9" fill="#c0ff00"/>
<rect x="502.4" y="318.5" width="1.6" height="52.9" fill="#e5ff00"/>
<rect x="506.7" y="318.5" width="1.5" height="52.9" fill="#d1ff00"/>
<rect x="508.9" y="318.5" width="28.2" height="52.9" fill="#50f010"/>
<rect x="510.2" y="318.5" width="2.0" height="52.9" fill="#56f010"/>
<rect x="524.4" y="318.5" width="1.3" height="52.9" fill="#23f010"/>
<rect x="534.1" y="318.5" width="1.9" height="52.9" fill="#46f010"/>
<rect x="536.7" y="318.5" width="9.7" height="52.9" fill="#a0ff00"/>
<rect x="538.9" y="318.5" width="2.1" height="52.9" fill="#a1ff00"/>
<rect x="362.5" y="371.1" width="13.8" height="50.5" fill="#ffd000"/>
<rect x="363.5" y="371.1" width="2.4" height="50.5" fill="#ffbb00"/>
<rect x="373.1" y="371.1" width="2.1" height="50.5" fill="#ffcc00"/>
<rect x="375.9" y="371.1" width="16.3" height="50.5" fill="#f0f000"/>
<rect x="378.0" y="371.1" width="0.9" height="50.5" fill="#f0c100"/>
<rect x="391.8" y="371.1" width="8.3" height="50.5" fill="#ffc000"/>
<rect x="392.9" y="371.1" width="2.2" height="50.5" fill="#ffbf00"/>
<rect x="396.4" y="371.1" width="1.8" height="50.5" fill="#ffb700"/>
<rect x="399.7" y="371.1" width="12.3" height="50.5" fill="#ff9000"/>
<rect x="404.8" y="371.1" width="1.9" height="50.5" fill="#ff9e00"/>
<rect x="408.8" y="371.1" width="1.0" height="50.5" fill="#ff8400"/>
<rect x="411.6" y="371.1" width="6.4" height="50.5" fill="#ff2000"/>
<rect x="417.6" y="371.1" width="12.3" height="50.5" fill="#ff1000"/>
<rect x="419.0" y="371.1" width="1.6" height="50.5" fill="#ff0000"/>
<rect x="423.9" y="371.1" width="2.2" height="50.5" fill="#ff0000"/>
<rect x="429.5" y="371.1" width="15.3" height="50.5" fill="#ff9000"/>
<rect x="430.1" y="371.1" width="2.1" height="50.5" fill="#ff9900"/>
<rect x="435.3" y="371.1" width="1.8" height="50.5" fill="#ff9a00"/>
<rect x="439.3" y="371.1" width="2.2" height="50.5" fill="#ff9b00"/>
<rect x="444.4" y="371.1" width="7.3" height="50.5" fill="#ff1000"/>
<rect x="446.0" y="371.1" width="1.4" height="50.5" fill="#ff3e00"/>
<rect x="451.3" y="371.1" width="20.3" height="50.5" fill="#ff9000"/>
<rect x="453.2" y="371.1" width="0.9" height="50.5" fill="#ff8e00"/>
<rect x="456.7" y="371.1" width="1.0" height="50.5" fill="#ff8000"/>
<rect x="469.6" y="371.1" width="1.5" height="50.5" fill="#ff6d00"/>
<rect x="471.2" y="371.1" width="9.3" height="50.5" fill="#ffee00"/>
<rect x="473.1" y="371.1" width="1.7" height="50.5" fill="#fff100"/>
<rect x="477.0" y="371.1" width="2.3" height="50.5" fill="#ffe300"/>
<rect x="480.1" y="371.1" width="17.3" height="50.5" fill="#ffd000"/>
<rect x="483.8" y="371.1" width="1.3" height="50.5" fill="#ffed00"/>
<rect x="487.4" y="371.1" width="1.3" height="50.5" fill="#ffe400"/>
<rect x="490.1" y="371.1" width="1.5" height="50.5" fill="#ffdd00"/>
<rect x="493.5" y="371.1" width="1.8" height="50.5" fill="#ffe400"/>
<rect x="497.0" y="371.1" width="14.3" height="50.5" fill="#c0ff00"/>
<rect x="497.8" y="371.1" width="2.3" height="50.5" fill="#a4ff00"/>
<rect x="510.9" y="371.1" width="14.3" height="50.5" fill="#f0f000"/>
<rect x="512.2" y="371.1" width="1.9" height="50.5" fill="#f0c900"/>
<rect x="515.7" y="371.1" width="2.0" height="50.5" fill="#f0e500"/>
<rect x="524.8" y="371.1" width="21.6" height="50.5" fill="#80ff00"/>
<rect x="533.9" y="371.1" width="1.3" height="50.5" fill="#77ff00"/>
<rect x="543.3" y="371.1" width="2.0" height="50.5" fill="#88ff00"/>
<rect x="362.5" y="421.3" width="22.7" height="50.6" fill="#ffe000"/>
<rect x="364.8" y="421.3" width="2.1" height="50.6" fill="#fffc00"/>
<rect x="368.1" y="421.3" width="1.7" height="50.6" fill="#ffe300"/>
<rect x="384.8" y="421.3" width="9.3" height="50.6" fill="#ffc000"/>
<rect x="389.4" y="421.3" width="2.2" height="50.6" fill="#ffc200"/>
<rect x="393.7" y="421.3" width="18.3" height="50.6" fill="#ff9000"/>
<rect x="404.0" y="421.3" width="1.2" height="50.6" fill="#ff8c00"/>
<rect x="408.3" y="421.3" width="1.7" height="50.6" fill="#ff7700"/>
<rect x="411.6" y="421.3" width="14.3" height="50.6" fill="#ff3000"/>
<rect x="413.0" y="421.3" width="1.1" height="50.6" fill="#ff4500"/>
<rect x="417.5" y="421.3" width="1.7" height="50.6" fill="#ff2e00"/>
<rect x="425.5" y="421.3" width="2.4" height="50.6" fill="#c0ff40"/>
<rect x="427.5" y="421.3" width="4.4" height="50.6" fill="#00d8e0"/>
<rect x="428.1" y="421.3" width="1.0" height="50.6" fill="#00e0d6"/>
<rect x="431.5" y="421.3" width="10.3" height="50.6" fill="#30f060"/>
<rect x="432.8" y="421.3" width="1.0" height="50.6" fill="#30f041"/>
<rect x="441.4" y="421.3" width="15.3" height="50.6" fill="#20f020"/>
<rect x="442.6" y="421.3" width="2.0" height="50.6" fill="#33f020"/>
<rect x="456.3" y="421.3" width="5.4" height="50.6" fill="#00f0e0"/>
<rect x="458.7" y="421.3" width="1.2" height="50.6" fill="#00cdf0"/>
<rect x="461.2" y="421.3" width="26.2" height="50.6" fill="#20f020"/>
<rect x="462.7" y="421.3" width="2.1" height="50.6" fill="#2af020"/>
<rect x="465.8" y="421.3" width="1.1" height="50.6" fill="#20f036"/>
<rect x="471.7" y="421.3" width="2.0" height="50.6" fill="#61f020"/>
<rect x="484.4" y="421.3" width="1.8" height="50.6" fill="#20f023"/>
<rect x="487.0" y="421.3" width="20.3" height="50.6" fill="#80ff00"/>
<rect x="491.8" y="421.3" width="1.3" height="50.6" fill="#53ff00"/>
<rect x="496.1" y="421.3" width="1.9" height="50.6" fill="#9dff00"/>
<rect x="500.2" y="421.3" width="1.3" height="50.6" fill="#8aff00"/>
<rect x="506.9" y="421.3" width="39.5" height="50.6" fill="#d0ff00"/>
<rect x="508.5" y="421.3" width="1.2" height="50.6" fill="#f7ff00"/>
<rect x="515.4" y="421.3" width="2.3" height="50.6" fill="#bdff00"/>
<rect x="522.4" y="421.3" width="1.6" height="50.6" fill="#b5ff00"/>
<rect x="524.9" y="421.3" width="1.3" height="50.6" fill="#caff00"/>
<rect x="530.6" y="421.3" width="1.7" height="50.6" fill="#e3ff00"/>
<rect x="537.1" y="421.3" width="1.7" height="50.6" fill="#c9ff00"/>
<rect x="544.6" y="421.3" width="1.4" height="50.6" fill="#d6ff00"/>
<rect x="362.5" y="471.6" width="7.8" height="50.7" fill="#ff9000"/>
<rect x="364.0" y="471.6" width="1.6" height="50.7" fill="#ff8900"/>
<rect x="369.9" y="471.6" width="9.3" height="50.7" fill="#ff2000"/>
<rect x="371.4" y="471.6" width="1.1" height="50.7" fill="#ff0400"/>
<rect x="378.8" y="471.6" width="15.3" height="50.7" fill="#ffe000"/>
<rect x="380.5" y="471.6" width="1.7" height="50.7" fill="#ffdb00"/>
<rect x="384.3" y="471.6" width="2.4" height="50.7" fill="#ffe600"/>
<rect x="393.7" y="471.6" width="8.3" height="50.7" fill="#ff6000"/>
<rect x="395.9" y="471.6" width="2.2" height="50.7" fill="#ff4c00"/>
<rect x="399.9" y="471.6" width="1.8" height="50.7" fill="#ff6600"/>
<rect x="401.7" y="471.6" width="18.3" height="50.7" fill="#ffee00"/>
<rect x="403.0" y="471.6" width="1.0" height="50.7" fill="#ffd200"/>
<rect x="405.3" y="471.6" width="1.9" height="50.7" fill="#fff100"/>
<rect x="410.7" y="471.6" width="1.1" height="50.7" fill="#fffe00"/>
<rect x="416.3" y="471.6" width="2.0" height="50.7" fill="#fff400"/>
<rect x="419.5" y="471.6" width="6.4" height="50.7" fill="#ff9000"/>
<rect x="421.7" y="471.6" width="2.3" height="50.7" fill="#ff9700"/>
<rect x="425.5" y="471.6" width="4.4" height="50.7" fill="#ff3000"/>
<rect x="429.5" y="471.6" width="14.3" height="50.7" fill="#d8ff00"/>
<rect x="433.1" y="471.6" width="2.4" height="50.7" fill="#f9ff00"/>
<rect x="438.3" y="471.6" width="1.8" height="50.7" fill="#fffc00"/>
<rect x="443.4" y="471.6" width="18.3" height="50.7" fill="#ffd000"/>
<rect x="449.3" y="471.6" width="2.3" height="50.7" fill="#ffc200"/>
<rect x="454.7" y="471.6" width="1.0" height="50.7" fill="#ffcb00"/>
<rect x="456.9" y="471.6" width="0.9" height="50.7" fill="#ffe600"/>
<rect x="461.2" y="471.6" width="8.3" height="50.7" fill="#ff9000"/>
<rect x="462.2" y="471.6" width="2.2" height="50.7" fill="#ff9d00"/>
<rect x="469.2" y="471.6" width="14.3" height="50.7" fill="#d0ff00"/>
<rect x="470.4" y="471.6" width="1.2" height="50.7" fill="#b0ff00"/>
<rect x="472.6" y="471.6" width="2.1" height="50.7" fill="#fff900"/>
<rect x="477.4" y="471.6" width="1.9" height="50.7" fill="#b8ff00"/>
<rect x="480.1" y="471.6" width="1.7" height="50.7" fill="#dfff00"/>
<rect x="483.1" y="471.6" width="6.4" height="50.7" fill="#ffd000"/>
<rect x="485.4" y="471.6" width="2.3" height="50.7" fill="#ffb300"/>
<rect x="489.0" y="471.6" width="24.2" height="50.7" fill="#40f020"/>
<rect x="504.6" y="471.6" width="2.3" height="50.7" fill="#51f020"/>
<rect x="510.2" y="471.6" width="1.0" height="50.7" fill="#26f020"/>
<rect x="512.9" y="471.6" width="8.3" height="50.7" fill="#ffe000"/>
<rect x="520.8" y="471.6" width="25.6" height="50.7" fill="#80ff20"/>
<rect x="529.9" y="471.6" width="1.4" height="50.7" fill="#82ff20"/>
<rect x="533.2" y="471.6" width="1.9" height="50.7" fill="#73ff20"/>
<rect x="538.1" y="471.6" width="1.9" height="50.7" fill="#81ff20"/>
<rect x="362.5" y="522.0" width="5.8" height="51.5" fill="#ffc000"/>
<rect x="367.9" y="522.0" width="6.4" height="51.5" fill="#ff7000"/>
<rect x="373.9" y="522.0" width="8.3" height="51.5" fill="#ffb000"/>
<rect x="381.8" y="522.0" width="12.3" height="51.5" fill="#ff9000"/>
<rect x="392.4" y="522.0" width="1.0" height="51.5" fill="#ffae00"/>
<rect x="393.7" y="522.0" width="4.4" height="51.5" fill="#ff3000"/>
<rect x="397.7" y="522.0" width="7.3" height="51.5" fill="#ffe000"/>
<rect x="399.1" y="522.0" width="2.2" height="51.5" fill="#ffc600"/>
<rect x="403.2" y="522.0" width="1.0" height="51.5" fill="#ffa700"/>
<rect x="404.7" y="522.0" width="5.4" height="51.5" fill="#ffb000"/>
<rect x="406.5" y="522.0" width="1.1" height="51.5" fill="#ffb200"/>
<rect x="409.6" y="522.0" width="12.3" height="51.5" fill="#f0f000"/>
<rect x="411.7" y="522.0" width="1.5" height="51.5" fill="#f0d700"/>
<rect x="415.4" y="522.0" width="1.3" height="51.5" fill="#f0dc00"/>
<rect x="419.2" y="522.0" width="1.6" height="51.5" fill="#f0df00"/>
<rect x="421.5" y="522.0" width="6.4" height="51.5" fill="#a0ff00"/>
<rect x="427.5" y="522.0" width="4.4" height="51.5" fill="#30e080"/>
<rect x="429.7" y="522.0" width="1.8" height="51.5" fill="#30e07b"/>
<rect x="431.5" y="522.0" width="5.4" height="51.5" fill="#0090ff"/>
<rect x="436.4" y="522.0" width="9.3" height="51.5" fill="#1010ff"/>
<rect x="441.4" y="522.0" width="1.9" height="51.5" fill="#1037ff"/>
<rect x="445.4" y="522.0" width="6.4" height="51.5" fill="#0090ff"/>
<rect x="451.3" y="522.0" width="6.4" height="51.5" fill="#00d0ff"/>
<rect x="452.8" y="522.0" width="1.6" height="51.5" fill="#00d8ff"/>
<rect x="456.2" y="522.0" width="1.0" height="51.5" fill="#00f3ff"/>
<rect x="457.3" y="522.0" width="8.3" height="51.5" fill="#0090ff"/>
<rect x="459.7" y="522.0" width="1.1" height="51.5" fill="#007aff"/>
<rect x="465.2" y="522.0" width="8.3" height="51.5" fill="#1010ff"/>
<rect x="466.4" y="522.0" width="1.8" height="51.5" fill="#1c10ff"/>
<rect x="473.1" y="522.0" width="18.3" height="51.5" fill="#7000e8"/>
<rect x="482.3" y="522.0" width="1.7" height="51.5" fill="#2e00e8"/>
<rect x="491.0" y="522.0" width="9.3" height="51.5" fill="#3000ff"/>
<rect x="492.6" y="522.0" width="1.2" height="51.5" fill="#1400ff"/>
<rect x="499.9" y="522.0" width="13.3" height="51.5" fill="#0080ff"/>
<rect x="501.6" y="522.0" width="2.4" height="51.5" fill="#0084ff"/>
<rect x="508.8" y="522.0" width="1.6" height="51.5" fill="#007fff"/>
<rect x="512.9" y="522.0" width="12.3" height="51.5" fill="#2010ff"/>
<rect x="520.9" y="522.0" width="1.5" height="51.5" fill="#1014ff"/>
<rect x="524.8" y="522.0" width="12.3" height="51.5" fill="#0070ff"/>
<rect x="526.0" y="522.0" width="0.9" height="51.5" fill="#0076ff"/>
<rect x="529.1" y="522.0" width="1.6" height="51.5" fill="#0098ff"/>
<rect x="536.7" y="522.0" width="9.7" height="51.5" fill="#1010ff"/>
<rect x="537.9" y="522.0" width="1.6" height="51.5" fill="#1013ff"/>
<rect x="362.5" y="573.2" width="5.8" height="50.7" fill="#ffa000"/>
<rect x="367.9" y="573.2" width="10.3" height="50.7" fill="#ffe000"/>
<rect x="372.6" y="573.2" width="1.6" height="50.7" fill="#ffe700"/>
<rect x="377.9" y="573.2" width="16.3" height="50.7" fill="#ff5000"/>
<rect x="383.7" y="573.2" width="0.9" height="50.7" fill="#ff2800"/>
<rect x="390.3" y="573.2" width="2.4" height="50.7" fill="#ff3100"/>
<rect x="393.7" y="573.2" width="4.4" height="50.7" fill="#ff2000"/>
<rect x="394.6" y="573.2" width="1.8" height="50.7" fill="#ff1200"/>
<rect x="397.7" y="573.2" width="10.3" height="50.7" fill="#ffe800"/>
<rect x="399.7" y="573.2" width="1.9" height="50.7" fill="#ffd700"/>
<rect x="406.1" y="573.2" width="1.4" height="50.7" fill="#ffee00"/>
<rect x="407.6" y="573.2" width="10.3" height="50.7" fill="#d8ff00"/>
<rect x="414.0" y="573.2" width="0.9" height="50.7" fill="#f9ff00"/>
<rect x="417.6" y="573.2" width="4.4" height="50.7" fill="#ffa000"/>
<rect x="419.7" y="573.2" width="1.7" height="50.7" fill="#ffa400"/>
<rect x="421.5" y="573.2" width="10.3" height="50.7" fill="#f8f000"/>
<rect x="423.6" y="573.2" width="1.9" height="50.7" fill="#f8f100"/>
<rect x="428.0" y="573.2" width="1.3" height="50.7" fill="#f8f700"/>
<rect x="430.1" y="573.2" width="1.4" height="50.7" fill="#f4f800"/>
<rect x="431.5" y="573.2" width="5.4" height="50.7" fill="#ff4000"/>
<rect x="436.4" y="573.2" width="7.3" height="50.7" fill="#f0f000"/>
<rect x="437.9" y="573.2" width="2.1" height="50.7" fill="#f0ee00"/>
<rect x="443.4" y="573.2" width="10.3" height="50.7" fill="#40f020"/>
<rect x="444.6" y="573.2" width="2.1" height="50.7" fill="#44f020"/>
<rect x="448.5" y="573.2" width="1.8" height="50.7" fill="#2df020"/>
<rect x="453.3" y="573.2" width="3.4" height="50.7" fill="#00e0e0"/>
<rect x="456.3" y="573.2" width="9.3" height="50.7" fill="#1010ff"/>
<rect x="457.6" y="573.2" width="2.1" height="50.7" fill="#1510ff"/>
<rect x="465.2" y="573.2" width="9.3" height="50.7" fill="#5000ff"/>
<rect x="470.0" y="573.2" width="2.1" height="50.7" fill="#3300ff"/>
<rect x="474.1" y="573.2" width="3.4" height="50.7" fill="#6000c0"/>
<rect x="477.1" y="573.2" width="38.1" height="50.7" fill="#48005a"/>
<rect x="514.8" y="573.2" width="6.4" height="50.7" fill="#600090"/>
<rect x="520.8" y="573.2" width="12.3" height="50.7" fill="#7000d0"/>
<rect x="521.3" y="573.2" width="2.3" height="50.7" fill="#2a00d0"/>
<rect x="525.7" y="573.2" width="1.1" height="50.7" fill="#2a00d0"/>
<rect x="528.8" y="573.2" width="1.3" height="50.7" fill="#2a00d0"/>
<rect x="532.7" y="573.2" width="13.7" height="50.7" fill="#600098"/>
<rect x="533.7" y="573.2" width="2.1" height="50.7" fill="#1e0098"/>
<rect x="542.9" y="573.2" width="1.2" height="50.7" fill="#1e0098"/>
<rect x="362.5" y="623.6" width="13.8" height="48.2" fill="#ffd000"/>
<rect x="363.3" y="623.6" width="1.8" height="48.2" fill="#ffc000"/>
<rect x="375.9" y="623.6" width="6.4" height="48.2" fill="#ff2000"/>
<rect x="381.8" y="623.6" width="25.2" height="48.2" fill="#ffd800"/>
<rect x="383.3" y="623.6" width="1.6" height="48.2" fill="#ffc400"/>
<rect x="391.5" y="623.6" width="1.7" height="48.2" fill="#ffdf00"/>
<rect x="401.0" y="623.6" width="1.9" height="48.2" fill="#ffe900"/>
<rect x="404.3" y="623.6" width="1.7" height="48.2" fill="#ffee00"/>
<rect x="406.6" y="623.6" width="10.3" height="48.2" fill="#ff7000"/>
<rect x="407.5" y="623.6" width="1.6" height="48.2" fill="#ff7b00"/>
<rect x="412.4" y="623.6" width="1.2" height="48.2" fill="#ff6100"/>
<rect x="416.6" y="623.6" width="5.4" height="48.2" fill="#ff2000"/>
<rect x="417.8" y="623.6" width="1.8" height="48.2" fill="#ff2900"/>
<rect x="420.5" y="623.6" width="1.0" height="48.2" fill="#ff0200"/>
<rect x="421.5" y="623.6" width="4.4" height="48.2" fill="#ff9000"/>
<rect x="423.1" y="623.6" width="2.3" height="48.2" fill="#ff7b00"/>
<rect x="425.5" y="623.6" width="18.3" height="48.2" fill="#ff1000"/>
<rect x="426.3" y="623.6" width="2.0" height="48.2" fill="#ff1500"/>
<rect x="437.2" y="623.6" width="1.3" height="48.2" fill="#ff0000"/>
<rect x="441.8" y="623.6" width="1.6" height="48.2" fill="#ff0500"/>
<rect x="443.4" y="623.6" width="7.3" height="48.2" fill="#ff5000"/>
<rect x="444.3" y="623.6" width="1.4" height="48.2" fill="#ff4900"/>
<rect x="447.0" y="623.6" width="2.0" height="48.2" fill="#ff4600"/>
<rect x="450.3" y="623.6" width="3.4" height="48.2" fill="#ffb000"/>
<rect x="453.3" y="623.6" width="12.3" height="48.2" fill="#f8f800"/>
<rect x="454.1" y="623.6" width="1.3" height="48.2" fill="#e4f800"/>
<rect x="457.5" y="623.6" width="1.2" height="48.2" fill="#f4f800"/>
<rect x="460.3" y="623.6" width="2.4" height="48.2" fill="#f8d900"/>
<rect x="465.2" y="623.6" width="20.3" height="48.2" fill="#c0ff00"/>
<rect x="470.4" y="623.6" width="1.0" height="48.2" fill="#dfff00"/>
<rect x="472.3" y="623.6" width="1.5" height="48.2" fill="#d7ff00"/>
<rect x="485.1" y="623.6" width="12.3" height="48.2" fill="#a0ff00"/>
<rect x="485.7" y="623.6" width="2.1" height="48.2" fill="#8bff00"/>
<rect x="497.0" y="623.6" width="5.4" height="48.2" fill="#20f020"/>
<rect x="498.7" y="623.6" width="2.3" height="48.2" fill="#20f03e"/>
<rect x="501.9" y="623.6" width="9.3" height="48.2" fill="#a0ff00"/>
<rect x="507.4" y="623.6" width="1.2" height="48.2" fill="#bbff00"/>
<rect x="510.9" y="623.6" width="31.2" height="48.2" fill="#f0f000"/>
<rect x="512.3" y="623.6" width="1.3" height="48.2" fill="#f0ef00"/>
<rect x="521.8" y="623.6" width="1.1" height="48.2" fill="#f0e300"/>
<rect x="527.5" y="623.6" width="1.6" height="48.2" fill="#e4f000"/>
<rect x="532.5" y="623.6" width="2.2" height="48.2" fill="#d8f000"/>
<rect x="538.1" y="623.6" width="1.2" height="48.2" fill="#ecf000"/>
<rect x="541.6" y="623.6" width="4.8" height="48.2" fill="#ff5000"/>
<rect x="542.4" y="623.6" width="1.4" height="48.2" fill="#ff3c00"/>
</g>
<line x1="422.6" y1="318.5" x2="424.6" y2="671.5" stroke="#000" stroke-width="3.4" stroke-dasharray="21 12.7" stroke-dashoffset="0"/>
<rect x="362.5" y="318.5" width="183.5" height="353.0" fill="none" stroke="#000" stroke-width="3"/>
<text x="133.1" y="283.1" font-size="36" text-anchor="start" font-weight="normal" fill="#000" textLength="167.5" lengthAdjust="spacingAndGlyphs" >Light OFF</text>
<text x="379.8" y="283.1" font-size="36" text-anchor="start" font-weight="normal" fill="#000" textLength="152.4" lengthAdjust="spacingAndGlyphs" >Light ON</text>
<line x1="121" y1="671.5" x2="121" y2="678.5" stroke="#000" stroke-width="3"/>
<text x="121" y="701.4" font-size="23.3" text-anchor="middle" font-weight="normal" fill="#000" >0</text>
<line x1="182.1" y1="671.5" x2="182.1" y2="678.5" stroke="#000" stroke-width="3"/>
<text x="182.1" y="701.4" font-size="23.3" text-anchor="middle" font-weight="normal" fill="#000" >10</text>
<line x1="243.2" y1="671.5" x2="243.2" y2="678.5" stroke="#000" stroke-width="3"/>
<text x="243.2" y="701.4" font-size="23.3" text-anchor="middle" font-weight="normal" fill="#000" >20</text>
<line x1="304.3" y1="671.5" x2="304.3" y2="678.5" stroke="#000" stroke-width="3"/>
<text x="304.3" y="701.4" font-size="23.3" text-anchor="middle" font-weight="normal" fill="#000" >30</text>
<line x1="362.5" y1="671.5" x2="362.5" y2="678.5" stroke="#000" stroke-width="3"/>
<text x="362.5" y="701.4" font-size="23.3" text-anchor="middle" font-weight="normal" fill="#000" >0</text>
<line x1="423.7" y1="671.5" x2="423.7" y2="678.5" stroke="#000" stroke-width="3"/>
<text x="423.7" y="701.4" font-size="23.3" text-anchor="middle" font-weight="normal" fill="#000" >10</text>
<line x1="484.8" y1="671.5" x2="484.8" y2="678.5" stroke="#000" stroke-width="3"/>
<text x="484.8" y="701.4" font-size="23.3" text-anchor="middle" font-weight="normal" fill="#000" >20</text>
<line x1="546" y1="671.5" x2="546" y2="678.5" stroke="#000" stroke-width="3"/>
<text x="546" y="701.4" font-size="23.3" text-anchor="middle" font-weight="normal" fill="#000" >30</text>
<line x1="115" y1="343.4" x2="121" y2="343.4" stroke="#000" stroke-width="3"/>
<text x="109" y="351.67999999999995" font-size="23" text-anchor="end" font-weight="normal" fill="#000" >8</text>
<line x1="115" y1="444.4" x2="121" y2="444.4" stroke="#000" stroke-width="3"/>
<text x="109" y="452.67999999999995" font-size="23" text-anchor="end" font-weight="normal" fill="#000" >6</text>
<line x1="115" y1="545.3" x2="121" y2="545.3" stroke="#000" stroke-width="3"/>
<text x="109" y="553.5799999999999" font-size="23" text-anchor="end" font-weight="normal" fill="#000" >4</text>
<line x1="115" y1="646.3" x2="121" y2="646.3" stroke="#000" stroke-width="3"/>
<text x="109" y="654.5799999999999" font-size="23" text-anchor="end" font-weight="normal" fill="#000" >2</text>
<line x1="356.5" y1="343.4" x2="362.5" y2="343.4" stroke="#000" stroke-width="3"/>
<text x="350.5" y="351.67999999999995" font-size="23" text-anchor="end" font-weight="normal" fill="#000" >8</text>
<line x1="356.5" y1="444.4" x2="362.5" y2="444.4" stroke="#000" stroke-width="3"/>
<text x="350.5" y="452.67999999999995" font-size="23" text-anchor="end" font-weight="normal" fill="#000" >6</text>
<line x1="356.5" y1="545.3" x2="362.5" y2="545.3" stroke="#000" stroke-width="3"/>
<text x="350.5" y="553.5799999999999" font-size="23" text-anchor="end" font-weight="normal" fill="#000" >4</text>
<line x1="356.5" y1="646.3" x2="362.5" y2="646.3" stroke="#000" stroke-width="3"/>
<text x="350.5" y="654.5799999999999" font-size="23" text-anchor="end" font-weight="normal" fill="#000" >2</text>
<text x="157.6" y="744.8" font-size="29.5" text-anchor="start" font-weight="normal" fill="#000" textLength="112" lengthAdjust="spacingAndGlyphs" >Tim e (s)</text>
<text x="399.8" y="744.8" font-size="29.5" text-anchor="start" font-weight="normal" fill="#000" textLength="111" lengthAdjust="spacingAndGlyphs" >Tim e (s)</text>
<text x="75.3" y="497.2" font-size="40" text-anchor="middle" transform="rotate(-90 75.3 497.2)" textLength="134.5" lengthAdjust="spacingAndGlyphs">Subject</text>
<text x="545" y="305.5" font-size="19" text-anchor="start" font-weight="normal" fill="#000" textLength="127" lengthAdjust="spacingAndGlyphs" >dF/F (z-score)</text>
<rect x="590.5" y="318.00" width="26.0" height="11.46" fill="#3a0606"/>
<rect x="590.5" y="329.06" width="26.0" height="11.46" fill="#520000"/>
<rect x="590.5" y="340.12" width="26.0" height="11.46" fill="#6a0000"/>
<rect x="590.5" y="351.19" width="26.0" height="11.46" fill="#880000"/>
<rect x="590.5" y="362.25" width="26.0" height="11.46" fill="#a00000"/>
<rect x="590.5" y="373.31" width="26.0" height="11.46" fill="#b80000"/>
<rect x="590.5" y="384.38" width="26.0" height="11.46" fill="#d40000"/>
<rect x="590.5" y="395.44" width="26.0" height="11.46" fill="#ee0000"/>
<rect x="590.5" y="406.50" width="26.0" height="11.46" fill="#ff0000"/>
<rect x="590.5" y="417.56" width="26.0" height="11.46" fill="#ff0000"/>
<rect x="590.5" y="428.62" width="26.0" height="11.46" fill="#ff0000"/>
<rect x="590.5" y="439.69" width="26.0" height="11.46" fill="#f40000"/>
<rect x="590.5" y="450.75" width="26.0" height="11.46" fill="#ff4a00"/>
<rect x="590.5" y="461.81" width="26.0" height="11.46" fill="#ff8000"/>
<rect x="590.5" y="472.88" width="26.0" height="11.46" fill="#ffb000"/>
<rect x="590.5" y="483.94" width="26.0" height="11.46" fill="#ffe000"/>
<rect x="590.5" y="495.00" width="26.0" height="11.46" fill="#f4ff00"/>
<rect x="590.5" y="506.06" width="26.0" height="11.46" fill="#d0ff00"/>
<rect x="590.5" y="517.12" width="26.0" height="11.46" fill="#a8ff00"/>
<rect x="590.5" y="528.19" width="26.0" height="11.46" fill="#70ff00"/>
<rect x="590.5" y="539.25" width="26.0" height="11.46" fill="#40ff00"/>
<rect x="590.5" y="550.31" width="26.0" height="11.46" fill="#20ee20"/>
<rect x="590.5" y="561.38" width="26.0" height="11.46" fill="#00ffe8"/>
<rect x="590.5" y="572.44" width="26.0" height="11.46" fill="#00d0ff"/>
<rect x="590.5" y="583.50" width="26.0" height="11.46" fill="#0098ff"/>
<rect x="590.5" y="594.56" width="26.0" height="11.46" fill="#0050ff"/>
<rect x="590.5" y="605.62" width="26.0" height="11.46" fill="#1000ff"/>
<rect x="590.5" y="616.69" width="26.0" height="11.46" fill="#6000ff"/>
<rect x="590.5" y="627.75" width="26.0" height="11.46" fill="#7a00e0"/>
<rect x="590.5" y="638.81" width="26.0" height="11.46" fill="#7000b0"/>
<rect x="590.5" y="649.88" width="26.0" height="11.46" fill="#5a0070"/>
<rect x="590.5" y="660.94" width="26.0" height="11.46" fill="#40005a"/>
<rect x="590.5" y="318" width="26.0" height="354" fill="none" stroke="#000" stroke-width="2.6"/>
<line x1="616.5" y1="330" x2="622.5" y2="330" stroke="#000" stroke-width="1.8"/>
<text x="627" y="333.6" font-size="10.5" text-anchor="start" font-weight="normal" fill="#000" >8.000</text>
<line x1="616.5" y1="396.5" x2="622.5" y2="396.5" stroke="#000" stroke-width="1.8"/>
<text x="627" y="400.1" font-size="10.5" text-anchor="start" font-weight="normal" fill="#000" >4.400</text>
<line x1="616.5" y1="462" x2="622.5" y2="462" stroke="#000" stroke-width="1.8"/>
<text x="627" y="465.6" font-size="10.5" text-anchor="start" font-weight="normal" fill="#000" >0.8000</text>
<line x1="616.5" y1="528" x2="622.5" y2="528" stroke="#000" stroke-width="1.8"/>
<text x="627" y="531.6" font-size="10.5" text-anchor="start" font-weight="normal" fill="#000" >-2.800</text>
<line x1="616.5" y1="594" x2="622.5" y2="594" stroke="#000" stroke-width="1.8"/>
<text x="627" y="597.6" font-size="10.5" text-anchor="start" font-weight="normal" fill="#000" >-6.400</text>
<line x1="616.5" y1="661" x2="622.5" y2="661" stroke="#000" stroke-width="1.8"/>
<text x="627" y="664.6" font-size="10.5" text-anchor="start" font-weight="normal" fill="#000" >-10.00</text>
<g filter="url(#hb)">
<rect x="1099.5" y="317.0" width="8.0" height="71.9" fill="#ffc800"/>
<rect x="1105.5" y="317.0" width="1.0" height="71.9" fill="#ffe100"/>
<rect x="1107.1" y="317.0" width="5.9" height="71.9" fill="#ffe000"/>
<rect x="1109.3" y="317.0" width="1.6" height="71.9" fill="#f8ff00"/>
<rect x="1112.5" y="317.0" width="4.8" height="71.9" fill="#ffb000"/>
<rect x="1116.9" y="317.0" width="4.8" height="71.9" fill="#ffe000"/>
<rect x="1121.3" y="317.0" width="3.7" height="71.9" fill="#ff7000"/>
<rect x="1122.0" y="317.0" width="1.0" height="71.9" fill="#ff1f00"/>
<rect x="1124.6" y="317.0" width="3.7" height="71.9" fill="#ff2000"/>
<rect x="1126.7" y="317.0" width="1.2" height="71.9" fill="#ff0000"/>
<rect x="1127.9" y="317.0" width="4.8" height="71.9" fill="#ff8000"/>
<rect x="1132.3" y="317.0" width="2.6" height="71.9" fill="#ff2000"/>
<rect x="1134.5" y="317.0" width="7.0" height="71.9" fill="#ffb000"/>
<rect x="1141.1" y="317.0" width="4.8" height="71.9" fill="#ffd000"/>
<rect x="1145.4" y="317.0" width="4.8" height="71.9" fill="#ffb000"/>
<rect x="1149.8" y="317.0" width="11.4" height="71.9" fill="#ffee00"/>
<rect x="1151.1" y="317.0" width="2.3" height="71.9" fill="#d7ff00"/>
<rect x="1160.8" y="317.0" width="11.4" height="71.9" fill="#ff1000"/>
<rect x="1168.0" y="317.0" width="0.9" height="71.9" fill="#ff1900"/>
<rect x="1171.8" y="317.0" width="11.4" height="71.9" fill="#ff5000"/>
<rect x="1172.7" y="317.0" width="1.2" height="71.9" fill="#ff2300"/>
<rect x="1182.7" y="317.0" width="3.7" height="71.9" fill="#ff1000"/>
<rect x="1186.0" y="317.0" width="5.9" height="71.9" fill="#ff6000"/>
<rect x="1191.5" y="317.0" width="11.4" height="71.9" fill="#ffc000"/>
<rect x="1192.3" y="317.0" width="1.9" height="71.9" fill="#ffb800"/>
<rect x="1195.4" y="317.0" width="1.6" height="71.9" fill="#ff7800"/>
<rect x="1199.1" y="317.0" width="1.7" height="71.9" fill="#ff8300"/>
<rect x="1202.5" y="317.0" width="2.6" height="71.9" fill="#ff7000"/>
<rect x="1204.7" y="317.0" width="11.4" height="71.9" fill="#ffd800"/>
<rect x="1212.2" y="317.0" width="1.0" height="71.9" fill="#ffb800"/>
<rect x="1215.6" y="317.0" width="7.0" height="71.9" fill="#ffe800"/>
<rect x="1222.2" y="317.0" width="4.8" height="71.9" fill="#ffc000"/>
<rect x="1224.6" y="317.0" width="2.1" height="71.9" fill="#ffc600"/>
<rect x="1226.6" y="317.0" width="11.4" height="71.9" fill="#ffe000"/>
<rect x="1232.6" y="317.0" width="1.4" height="71.9" fill="#ffb900"/>
<rect x="1237.6" y="317.0" width="7.0" height="71.9" fill="#ffd000"/>
<rect x="1239.2" y="317.0" width="1.1" height="71.9" fill="#ffcf00"/>
<rect x="1244.2" y="317.0" width="11.4" height="71.9" fill="#ff3000"/>
<rect x="1254.1" y="317.0" width="1.0" height="71.9" fill="#ff0d00"/>
<rect x="1255.1" y="317.0" width="11.4" height="71.9" fill="#ffc000"/>
<rect x="1259.5" y="317.0" width="1.1" height="71.9" fill="#ff8900"/>
<rect x="1266.1" y="317.0" width="7.0" height="71.9" fill="#ffe000"/>
<rect x="1270.2" y="317.0" width="1.0" height="71.9" fill="#ffbf00"/>
<rect x="1272.7" y="317.0" width="11.7" height="71.9" fill="#ffb000"/>
<rect x="1099.5" y="388.6" width="15.6" height="71.1" fill="#ffa000"/>
<rect x="1104.3" y="388.6" width="2.2" height="71.1" fill="#ff6d00"/>
<rect x="1109.6" y="388.6" width="1.3" height="71.1" fill="#ffb900"/>
<rect x="1112.5" y="388.6" width="1.7" height="71.1" fill="#ffa100"/>
<rect x="1114.7" y="388.6" width="5.9" height="71.1" fill="#ff2000"/>
<rect x="1120.2" y="388.6" width="3.7" height="71.1" fill="#ff8000"/>
<rect x="1123.5" y="388.6" width="3.7" height="71.1" fill="#ff2000"/>
<rect x="1126.8" y="388.6" width="2.6" height="71.1" fill="#ff8000"/>
<rect x="1129.0" y="388.6" width="2.6" height="71.1" fill="#ff3000"/>
<rect x="1131.2" y="388.6" width="19.0" height="71.1" fill="#ffb000"/>
<rect x="1137.6" y="388.6" width="1.7" height="71.1" fill="#ff9400"/>
<rect x="1149.8" y="388.6" width="11.4" height="71.1" fill="#ffee00"/>
<rect x="1151.7" y="388.6" width="1.7" height="71.1" fill="#fff700"/>
<rect x="1160.8" y="388.6" width="4.8" height="71.1" fill="#ffb000"/>
<rect x="1162.9" y="388.6" width="1.0" height="71.1" fill="#ffc800"/>
<rect x="1165.2" y="388.6" width="4.8" height="71.1" fill="#ff4000"/>
<rect x="1169.6" y="388.6" width="4.8" height="71.1" fill="#ffe000"/>
<rect x="1174.0" y="388.6" width="14.7" height="71.1" fill="#70ff00"/>
<rect x="1176.3" y="388.6" width="1.5" height="71.1" fill="#5cff00"/>
<rect x="1179.5" y="388.6" width="2.3" height="71.1" fill="#8aff00"/>
<rect x="1183.3" y="388.6" width="2.4" height="71.1" fill="#86ff00"/>
<rect x="1188.2" y="388.6" width="5.9" height="71.1" fill="#e0f000"/>
<rect x="1193.7" y="388.6" width="11.4" height="71.1" fill="#a0ff00"/>
<rect x="1198.3" y="388.6" width="1.7" height="71.1" fill="#a5ff00"/>
<rect x="1200.8" y="388.6" width="1.7" height="71.1" fill="#32ff00"/>
<rect x="1204.7" y="388.6" width="17.9" height="71.1" fill="#60ff00"/>
<rect x="1209.9" y="388.6" width="1.7" height="71.1" fill="#68ff00"/>
<rect x="1214.4" y="388.6" width="1.6" height="71.1" fill="#4dff00"/>
<rect x="1222.2" y="388.6" width="2.6" height="71.1" fill="#ff9000"/>
<rect x="1224.4" y="388.6" width="17.9" height="71.1" fill="#a0ff00"/>
<rect x="1226.3" y="388.6" width="1.8" height="71.1" fill="#75ff00"/>
<rect x="1230.3" y="388.6" width="1.3" height="71.1" fill="#64ff00"/>
<rect x="1233.4" y="388.6" width="1.4" height="71.1" fill="#80ff00"/>
<rect x="1242.0" y="388.6" width="11.4" height="71.1" fill="#60ff20"/>
<rect x="1251.5" y="388.6" width="1.4" height="71.1" fill="#7cff20"/>
<rect x="1252.9" y="388.6" width="13.6" height="71.1" fill="#c0ff00"/>
<rect x="1257.1" y="388.6" width="1.2" height="71.1" fill="#84ff00"/>
<rect x="1266.1" y="388.6" width="2.6" height="71.1" fill="#ff9000"/>
<rect x="1268.3" y="388.6" width="16.1" height="71.1" fill="#50ff20"/>
<rect x="1269.1" y="388.6" width="2.1" height="71.1" fill="#75ff20"/>
<rect x="1276.3" y="388.6" width="2.3" height="71.1" fill="#7eff20"/>
<rect x="1280.2" y="388.6" width="1.3" height="71.1" fill="#48ff20"/>
<rect x="1099.5" y="459.4" width="11.3" height="71.5" fill="#f0f000"/>
<rect x="1105.8" y="459.4" width="1.9" height="71.5" fill="#f0ec00"/>
<rect x="1110.4" y="459.4" width="2.6" height="71.5" fill="#ffa000"/>
<rect x="1112.5" y="459.4" width="15.8" height="71.5" fill="#e8f000"/>
<rect x="1118.0" y="459.4" width="1.9" height="71.5" fill="#f0dd00"/>
<rect x="1122.5" y="459.4" width="1.5" height="71.5" fill="#f0e100"/>
<rect x="1126.9" y="459.4" width="1.0" height="71.5" fill="#f0ce00"/>
<rect x="1127.9" y="459.4" width="3.7" height="71.5" fill="#ffd000"/>
<rect x="1129.9" y="459.4" width="1.3" height="71.5" fill="#ffe200"/>
<rect x="1131.2" y="459.4" width="9.2" height="71.5" fill="#e8f000"/>
<rect x="1136.4" y="459.4" width="2.3" height="71.5" fill="#f0ec00"/>
<rect x="1140.0" y="459.4" width="7.0" height="71.5" fill="#ff8000"/>
<rect x="1146.5" y="459.4" width="14.7" height="71.5" fill="#e8f000"/>
<rect x="1152.3" y="459.4" width="2.1" height="71.5" fill="#caf000"/>
<rect x="1160.8" y="459.4" width="17.9" height="71.5" fill="#40f020"/>
<rect x="1172.0" y="459.4" width="2.2" height="71.5" fill="#35f020"/>
<rect x="1176.1" y="459.4" width="1.7" height="71.5" fill="#4cf020"/>
<rect x="1178.4" y="459.4" width="4.8" height="71.5" fill="#20f020"/>
<rect x="1182.7" y="459.4" width="15.8" height="71.5" fill="#a0ff00"/>
<rect x="1184.9" y="459.4" width="1.8" height="71.5" fill="#d1ff00"/>
<rect x="1187.7" y="459.4" width="1.4" height="71.5" fill="#b8ff00"/>
<rect x="1192.2" y="459.4" width="2.3" height="71.5" fill="#95ff00"/>
<rect x="1198.1" y="459.4" width="2.6" height="71.5" fill="#ff9000"/>
<rect x="1200.3" y="459.4" width="9.2" height="71.5" fill="#a0ff00"/>
<rect x="1209.1" y="459.4" width="4.8" height="71.5" fill="#60f020"/>
<rect x="1213.4" y="459.4" width="13.6" height="71.5" fill="#a0ff00"/>
<rect x="1217.0" y="459.4" width="0.9" height="71.5" fill="#b6ff00"/>
<rect x="1226.6" y="459.4" width="3.7" height="71.5" fill="#ff9000"/>
<rect x="1227.2" y="459.4" width="2.3" height="71.5" fill="#ff9800"/>
<rect x="1229.9" y="459.4" width="21.2" height="71.5" fill="#ffe000"/>
<rect x="1232.4" y="459.4" width="2.3" height="71.5" fill="#fffa00"/>
<rect x="1235.7" y="459.4" width="1.6" height="71.5" fill="#fff200"/>
<rect x="1239.8" y="459.4" width="1.1" height="71.5" fill="#ffba00"/>
<rect x="1247.0" y="459.4" width="0.9" height="71.5" fill="#ffcd00"/>
<rect x="1250.7" y="459.4" width="15.8" height="71.5" fill="#c0ff00"/>
<rect x="1253.0" y="459.4" width="1.2" height="71.5" fill="#74ff00"/>
<rect x="1255.1" y="459.4" width="2.4" height="71.5" fill="#f2ff00"/>
<rect x="1260.3" y="459.4" width="1.3" height="71.5" fill="#aeff00"/>
<rect x="1266.1" y="459.4" width="4.8" height="71.5" fill="#60ff20"/>
<rect x="1268.3" y="459.4" width="2.2" height="71.5" fill="#80ff20"/>
<rect x="1270.5" y="459.4" width="13.9" height="71.5" fill="#20f070"/>
<rect x="1283.0" y="459.4" width="1.0" height="71.5" fill="#20f07a"/>
<rect x="1099.5" y="530.6" width="6.9" height="71.1" fill="#ff9000"/>
<rect x="1100.1" y="530.6" width="1.4" height="71.1" fill="#ff7900"/>
<rect x="1106.0" y="530.6" width="4.8" height="71.1" fill="#ff2000"/>
<rect x="1107.7" y="530.6" width="1.5" height="71.1" fill="#ff0000"/>
<rect x="1110.4" y="530.6" width="11.4" height="71.1" fill="#ffb000"/>
<rect x="1114.9" y="530.6" width="1.0" height="71.1" fill="#ffa300"/>
<rect x="1118.0" y="530.6" width="2.3" height="71.1" fill="#ff5e00"/>
<rect x="1121.3" y="530.6" width="5.9" height="71.1" fill="#ff3000"/>
<rect x="1126.8" y="530.6" width="5.9" height="71.1" fill="#ff8000"/>
<rect x="1129.1" y="530.6" width="1.9" height="71.1" fill="#ff6400"/>
<rect x="1132.3" y="530.6" width="12.5" height="71.1" fill="#e0ff00"/>
<rect x="1139.8" y="530.6" width="1.9" height="71.1" fill="#fffc00"/>
<rect x="1144.4" y="530.6" width="12.5" height="71.1" fill="#ffa000"/>
<rect x="1145.1" y="530.6" width="1.0" height="71.1" fill="#ffb100"/>
<rect x="1150.0" y="530.6" width="1.0" height="71.1" fill="#ffa900"/>
<rect x="1151.9" y="530.6" width="1.5" height="71.1" fill="#ffa900"/>
<rect x="1156.4" y="530.6" width="4.8" height="71.1" fill="#ffe000"/>
<rect x="1160.8" y="530.6" width="11.4" height="71.1" fill="#e0ff00"/>
<rect x="1162.5" y="530.6" width="2.3" height="71.1" fill="#deff00"/>
<rect x="1166.6" y="530.6" width="1.9" height="71.1" fill="#caff00"/>
<rect x="1171.8" y="530.6" width="16.9" height="71.1" fill="#30f020"/>
<rect x="1173.2" y="530.6" width="1.5" height="71.1" fill="#20f037"/>
<rect x="1178.7" y="530.6" width="2.2" height="71.1" fill="#2bf020"/>
<rect x="1182.8" y="530.6" width="2.4" height="71.1" fill="#2af020"/>
<rect x="1188.2" y="530.6" width="25.6" height="71.1" fill="#c0ff00"/>
<rect x="1190.1" y="530.6" width="2.1" height="71.1" fill="#beff00"/>
<rect x="1201.8" y="530.6" width="2.0" height="71.1" fill="#acff00"/>
<rect x="1207.0" y="530.6" width="1.8" height="71.1" fill="#fff200"/>
<rect x="1213.4" y="530.6" width="5.9" height="71.1" fill="#ff5000"/>
<rect x="1215.2" y="530.6" width="1.9" height="71.1" fill="#ff1700"/>
<rect x="1218.9" y="530.6" width="14.7" height="71.1" fill="#f0f000"/>
<rect x="1219.9" y="530.6" width="2.3" height="71.1" fill="#f0ef00"/>
<rect x="1223.5" y="530.6" width="1.5" height="71.1" fill="#f0e700"/>
<rect x="1228.1" y="530.6" width="1.5" height="71.1" fill="#c9f000"/>
<rect x="1230.9" y="530.6" width="1.8" height="71.1" fill="#f0ea00"/>
<rect x="1233.2" y="530.6" width="4.8" height="71.1" fill="#30f040"/>
<rect x="1237.6" y="530.6" width="11.4" height="71.1" fill="#f8f000"/>
<rect x="1239.9" y="530.6" width="0.9" height="71.1" fill="#dcf800"/>
<rect x="1243.5" y="530.6" width="1.0" height="71.1" fill="#e9f800"/>
<rect x="1245.8" y="530.6" width="2.1" height="71.1" fill="#d3f800"/>
<rect x="1248.5" y="530.6" width="4.8" height="71.1" fill="#ffc000"/>
<rect x="1249.4" y="530.6" width="1.5" height="71.1" fill="#ffbc00"/>
<rect x="1251.9" y="530.6" width="1.0" height="71.1" fill="#ffdb00"/>
<rect x="1252.9" y="530.6" width="9.2" height="71.1" fill="#f8f000"/>
<rect x="1261.7" y="530.6" width="4.8" height="71.1" fill="#ffb000"/>
<rect x="1263.9" y="530.6" width="0.9" height="71.1" fill="#ffe600"/>
<rect x="1266.1" y="530.6" width="18.3" height="71.1" fill="#f8f000"/>
<rect x="1099.5" y="601.4" width="12.2" height="70.9" fill="#ff9000"/>
<rect x="1100.2" y="601.4" width="1.2" height="70.9" fill="#ff4600"/>
<rect x="1104.6" y="601.4" width="1.7" height="70.9" fill="#ffdb00"/>
<rect x="1111.3" y="601.4" width="9.6" height="70.9" fill="#ff8000"/>
<rect x="1120.5" y="601.4" width="5.5" height="70.9" fill="#ff3000"/>
<rect x="1125.6" y="601.4" width="4.5" height="70.9" fill="#ff7000"/>
<rect x="1129.6" y="601.4" width="5.5" height="70.9" fill="#ff4000"/>
<rect x="1131.7" y="601.4" width="2.4" height="70.9" fill="#ff7100"/>
<rect x="1134.7" y="601.4" width="4.5" height="70.9" fill="#ff3000"/>
<rect x="1138.8" y="601.4" width="9.6" height="70.9" fill="#ff8000"/>
<rect x="1140.7" y="601.4" width="1.2" height="70.9" fill="#ffd700"/>
<rect x="1143.7" y="601.4" width="1.0" height="70.9" fill="#ff9500"/>
<rect x="1148.0" y="601.4" width="10.6" height="70.9" fill="#ffc000"/>
<rect x="1156.1" y="601.4" width="1.6" height="70.9" fill="#ffdf00"/>
<rect x="1158.2" y="601.4" width="8.6" height="70.9" fill="#f0f000"/>
<rect x="1162.5" y="601.4" width="1.7" height="70.9" fill="#f0d100"/>
<rect x="1165.2" y="601.4" width="1.1" height="70.9" fill="#e2f000"/>
<rect x="1166.3" y="601.4" width="25.9" height="70.9" fill="#d0ff00"/>
<rect x="1167.2" y="601.4" width="1.4" height="70.9" fill="#dbff00"/>
<rect x="1171.8" y="601.4" width="1.5" height="70.9" fill="#b1ff00"/>
<rect x="1183.9" y="601.4" width="2.0" height="70.9" fill="#fbff00"/>
<rect x="1191.8" y="601.4" width="13.6" height="70.9" fill="#a0ff00"/>
<rect x="1205.0" y="601.4" width="10.6" height="70.9" fill="#d0ff00"/>
<rect x="1206.2" y="601.4" width="1.8" height="70.9" fill="#fffd00"/>
<rect x="1210.9" y="601.4" width="2.0" height="70.9" fill="#abff00"/>
<rect x="1213.9" y="601.4" width="1.3" height="70.9" fill="#efff00"/>
<rect x="1215.2" y="601.4" width="16.7" height="70.9" fill="#f0f800"/>
<rect x="1225.6" y="601.4" width="1.0" height="70.9" fill="#b3f800"/>
<rect x="1230.1" y="601.4" width="1.1" height="70.9" fill="#dff800"/>
<rect x="1231.5" y="601.4" width="14.7" height="70.9" fill="#d0ff00"/>
<rect x="1237.7" y="601.4" width="1.7" height="70.9" fill="#fffe00"/>
<rect x="1240.8" y="601.4" width="2.2" height="70.9" fill="#c0ff00"/>
<rect x="1245.8" y="601.4" width="38.6" height="70.9" fill="#a0ff00"/>
<rect x="1247.2" y="601.4" width="1.2" height="70.9" fill="#75ff00"/>
<rect x="1251.3" y="601.4" width="2.3" height="70.9" fill="#99ff00"/>
<rect x="1255.1" y="601.4" width="1.9" height="70.9" fill="#75ff00"/>
<rect x="1281.4" y="601.4" width="1.2" height="70.9" fill="#c9ff00"/>
</g>
<line x1="1160.6" y1="317" x2="1160.6" y2="672" stroke="#000" stroke-width="3.4" stroke-dasharray="19.6 13.7" stroke-dashoffset="30.3"/>
<rect x="1099.5" y="317" width="184.5" height="355" fill="none" stroke="#000" stroke-width="3"/>
<g filter="url(#hb)">
<rect x="1346.5" y="317.0" width="8.0" height="71.9" fill="#ff7000"/>
<rect x="1350.1" y="317.0" width="1.6" height="71.9" fill="#ffa000"/>
<rect x="1354.1" y="317.0" width="8.1" height="71.9" fill="#ffd800"/>
<rect x="1355.4" y="317.0" width="1.9" height="71.9" fill="#ffbb00"/>
<rect x="1359.5" y="317.0" width="2.1" height="71.9" fill="#ffe700"/>
<rect x="1361.7" y="317.0" width="4.8" height="71.9" fill="#ffb000"/>
<rect x="1364.0" y="317.0" width="1.1" height="71.9" fill="#ff6300"/>
<rect x="1366.1" y="317.0" width="12.5" height="71.9" fill="#ffe000"/>
<rect x="1366.8" y="317.0" width="1.0" height="71.9" fill="#feff00"/>
<rect x="1378.2" y="317.0" width="3.7" height="71.9" fill="#ffb000"/>
<rect x="1379.6" y="317.0" width="1.9" height="71.9" fill="#ffbe00"/>
<rect x="1381.5" y="317.0" width="4.8" height="71.9" fill="#ff9000"/>
<rect x="1382.6" y="317.0" width="2.2" height="71.9" fill="#ffbc00"/>
<rect x="1385.9" y="317.0" width="7.0" height="71.9" fill="#ff2000"/>
<rect x="1386.4" y="317.0" width="1.9" height="71.9" fill="#ff1200"/>
<rect x="1392.4" y="317.0" width="15.8" height="71.9" fill="#ffc000"/>
<rect x="1402.0" y="317.0" width="1.6" height="71.9" fill="#ffc900"/>
<rect x="1407.8" y="317.0" width="7.0" height="71.9" fill="#ff8000"/>
<rect x="1409.2" y="317.0" width="1.2" height="71.9" fill="#ff8e00"/>
<rect x="1414.4" y="317.0" width="2.6" height="71.9" fill="#ff5000"/>
<rect x="1416.6" y="317.0" width="19.0" height="71.9" fill="#ffe000"/>
<rect x="1418.5" y="317.0" width="1.4" height="71.9" fill="#ffda00"/>
<rect x="1422.4" y="317.0" width="1.1" height="71.9" fill="#ffbb00"/>
<rect x="1429.9" y="317.0" width="1.9" height="71.9" fill="#feff00"/>
<rect x="1435.2" y="317.0" width="3.7" height="71.9" fill="#ffc000"/>
<rect x="1435.8" y="317.0" width="1.0" height="71.9" fill="#ff9000"/>
<rect x="1438.5" y="317.0" width="8.1" height="71.9" fill="#ffe000"/>
<rect x="1439.9" y="317.0" width="1.2" height="71.9" fill="#ffe100"/>
<rect x="1446.2" y="317.0" width="22.3" height="71.9" fill="#c0ff00"/>
<rect x="1447.9" y="317.0" width="1.8" height="71.9" fill="#abff00"/>
<rect x="1453.1" y="317.0" width="1.4" height="71.9" fill="#c5ff00"/>
<rect x="1455.9" y="317.0" width="2.0" height="71.9" fill="#f0ff00"/>
<rect x="1460.3" y="317.0" width="1.4" height="71.9" fill="#b9ff00"/>
<rect x="1464.0" y="317.0" width="1.2" height="71.9" fill="#d0ff00"/>
<rect x="1468.1" y="317.0" width="27.8" height="71.9" fill="#e0f000"/>
<rect x="1469.0" y="317.0" width="1.0" height="71.9" fill="#eaf000"/>
<rect x="1471.6" y="317.0" width="1.4" height="71.9" fill="#dcf000"/>
<rect x="1480.7" y="317.0" width="2.1" height="71.9" fill="#d5f000"/>
<rect x="1484.8" y="317.0" width="2.0" height="71.9" fill="#eaf000"/>
<rect x="1489.9" y="317.0" width="1.9" height="71.9" fill="#e1f000"/>
<rect x="1495.5" y="317.0" width="11.4" height="71.9" fill="#e0f800"/>
<rect x="1496.6" y="317.0" width="1.9" height="71.9" fill="#b8f800"/>
<rect x="1499.9" y="317.0" width="1.4" height="71.9" fill="#f6f800"/>
<rect x="1506.5" y="317.0" width="4.8" height="71.9" fill="#ff9000"/>
<rect x="1509.7" y="317.0" width="1.2" height="71.9" fill="#ffbd00"/>
<rect x="1510.9" y="317.0" width="20.0" height="71.9" fill="#f0e800"/>
<rect x="1517.2" y="317.0" width="2.1" height="71.9" fill="#ecf000"/>
<rect x="1528.6" y="317.0" width="1.7" height="71.9" fill="#ecf000"/>
<rect x="1346.5" y="388.6" width="9.1" height="71.1" fill="#e8f800"/>
<rect x="1347.6" y="388.6" width="1.1" height="71.1" fill="#bff800"/>
<rect x="1355.2" y="388.6" width="7.0" height="71.1" fill="#ff9000"/>
<rect x="1357.3" y="388.6" width="2.1" height="71.1" fill="#ff9800"/>
<rect x="1361.7" y="388.6" width="11.4" height="71.1" fill="#ffd000"/>
<rect x="1367.4" y="388.6" width="1.1" height="71.1" fill="#fffb00"/>
<rect x="1372.7" y="388.6" width="3.7" height="71.1" fill="#ff2000"/>
<rect x="1376.0" y="388.6" width="12.5" height="71.1" fill="#f0f000"/>
<rect x="1377.5" y="388.6" width="1.6" height="71.1" fill="#aef000"/>
<rect x="1380.5" y="388.6" width="1.3" height="71.1" fill="#f0dd00"/>
<rect x="1385.2" y="388.6" width="1.2" height="71.1" fill="#f0d600"/>
<rect x="1388.1" y="388.6" width="4.8" height="71.1" fill="#ffd000"/>
<rect x="1392.4" y="388.6" width="17.9" height="71.1" fill="#f0f000"/>
<rect x="1393.1" y="388.6" width="1.4" height="71.1" fill="#c7f000"/>
<rect x="1401.9" y="388.6" width="2.2" height="71.1" fill="#f0c600"/>
<rect x="1406.3" y="388.6" width="1.9" height="71.1" fill="#e6f000"/>
<rect x="1410.0" y="388.6" width="7.0" height="71.1" fill="#ff1000"/>
<rect x="1412.1" y="388.6" width="1.4" height="71.1" fill="#ff3300"/>
<rect x="1416.6" y="388.6" width="13.6" height="71.1" fill="#ffc000"/>
<rect x="1419.0" y="388.6" width="1.5" height="71.1" fill="#ffee00"/>
<rect x="1424.5" y="388.6" width="2.2" height="71.1" fill="#e0ff00"/>
<rect x="1429.7" y="388.6" width="11.4" height="71.1" fill="#e0ff00"/>
<rect x="1431.2" y="388.6" width="1.9" height="71.1" fill="#e9ff00"/>
<rect x="1440.7" y="388.6" width="22.3" height="71.1" fill="#a0ff00"/>
<rect x="1441.5" y="388.6" width="1.7" height="71.1" fill="#95ff00"/>
<rect x="1450.2" y="388.6" width="1.5" height="71.1" fill="#c6ff00"/>
<rect x="1453.6" y="388.6" width="1.9" height="71.1" fill="#61ff00"/>
<rect x="1462.6" y="388.6" width="35.5" height="71.1" fill="#20f030"/>
<rect x="1468.6" y="388.6" width="1.4" height="71.1" fill="#20f076"/>
<rect x="1488.3" y="388.6" width="0.9" height="71.1" fill="#2ff020"/>
<rect x="1497.7" y="388.6" width="11.4" height="71.1" fill="#c0ff00"/>
<rect x="1498.4" y="388.6" width="1.9" height="71.1" fill="#adff00"/>
<rect x="1501.8" y="388.6" width="2.0" height="71.1" fill="#c9ff00"/>
<rect x="1506.8" y="388.6" width="1.9" height="71.1" fill="#b8ff00"/>
<rect x="1508.7" y="388.6" width="9.2" height="71.1" fill="#20f0a0"/>
<rect x="1517.5" y="388.6" width="13.4" height="71.1" fill="#20f060"/>
<rect x="1518.2" y="388.6" width="1.6" height="71.1" fill="#20f09a"/>
<rect x="1520.6" y="388.6" width="1.4" height="71.1" fill="#20f038"/>
<rect x="1527.6" y="388.6" width="1.3" height="71.1" fill="#20f080"/>
<rect x="1346.5" y="459.4" width="16.7" height="71.5" fill="#f0f000"/>
<rect x="1347.9" y="459.4" width="2.4" height="71.5" fill="#bcf000"/>
<rect x="1352.1" y="459.4" width="2.3" height="71.5" fill="#f0cc00"/>
<rect x="1362.8" y="459.4" width="9.2" height="71.5" fill="#ff9000"/>
<rect x="1371.6" y="459.4" width="9.2" height="71.5" fill="#f8e800"/>
<rect x="1373.7" y="459.4" width="2.0" height="71.5" fill="#f8ea00"/>
<rect x="1377.6" y="459.4" width="1.3" height="71.5" fill="#f8e600"/>
<rect x="1380.4" y="459.4" width="10.3" height="71.5" fill="#ff3000"/>
<rect x="1381.9" y="459.4" width="0.9" height="71.5" fill="#ff3900"/>
<rect x="1390.3" y="459.4" width="9.2" height="71.5" fill="#ff6000"/>
<rect x="1399.0" y="459.4" width="4.8" height="71.5" fill="#ff8000"/>
<rect x="1400.4" y="459.4" width="1.7" height="71.5" fill="#ffa900"/>
<rect x="1403.4" y="459.4" width="4.8" height="71.5" fill="#ff3000"/>
<rect x="1407.8" y="459.4" width="4.8" height="71.5" fill="#ffd000"/>
<rect x="1412.2" y="459.4" width="10.3" height="71.5" fill="#30f030"/>
<rect x="1415.5" y="459.4" width="1.6" height="71.5" fill="#30f05c"/>
<rect x="1418.1" y="459.4" width="1.4" height="71.5" fill="#3bf030"/>
<rect x="1422.1" y="459.4" width="5.9" height="71.5" fill="#00c8f0"/>
<rect x="1427.5" y="459.4" width="5.9" height="71.5" fill="#40f020"/>
<rect x="1429.8" y="459.4" width="2.1" height="71.5" fill="#7af020"/>
<rect x="1433.0" y="459.4" width="8.1" height="71.5" fill="#c0ff00"/>
<rect x="1440.7" y="459.4" width="7.0" height="71.5" fill="#50f010"/>
<rect x="1441.8" y="459.4" width="2.2" height="71.5" fill="#42f010"/>
<rect x="1447.3" y="459.4" width="13.6" height="71.5" fill="#e8f000"/>
<rect x="1448.7" y="459.4" width="1.6" height="71.5" fill="#abf000"/>
<rect x="1458.3" y="459.4" width="1.0" height="71.5" fill="#d8f000"/>
<rect x="1460.4" y="459.4" width="4.8" height="71.5" fill="#ffd000"/>
<rect x="1461.2" y="459.4" width="2.2" height="71.5" fill="#ffbd00"/>
<rect x="1464.8" y="459.4" width="20.1" height="71.5" fill="#e8f000"/>
<rect x="1466.8" y="459.4" width="1.1" height="71.5" fill="#e1f000"/>
<rect x="1470.4" y="459.4" width="2.3" height="71.5" fill="#dff000"/>
<rect x="1473.9" y="459.4" width="1.0" height="71.5" fill="#b6f000"/>
<rect x="1481.8" y="459.4" width="1.6" height="71.5" fill="#edf000"/>
<rect x="1484.6" y="459.4" width="22.3" height="71.5" fill="#80ff00"/>
<rect x="1485.1" y="459.4" width="2.3" height="71.5" fill="#7eff00"/>
<rect x="1488.9" y="459.4" width="2.2" height="71.5" fill="#91ff00"/>
<rect x="1497.6" y="459.4" width="2.2" height="71.5" fill="#73ff00"/>
<rect x="1506.5" y="459.4" width="24.4" height="71.5" fill="#f0f000"/>
<rect x="1518.5" y="459.4" width="1.9" height="71.5" fill="#c7f000"/>
<rect x="1521.9" y="459.4" width="1.0" height="71.5" fill="#dff000"/>
<rect x="1524.5" y="459.4" width="1.7" height="71.5" fill="#c4f000"/>
<rect x="1528.6" y="459.4" width="1.9" height="71.5" fill="#d2f000"/>
<rect x="1346.5" y="530.6" width="15.6" height="71.1" fill="#ff9000"/>
<rect x="1350.8" y="530.6" width="1.4" height="71.1" fill="#ff7800"/>
<rect x="1354.6" y="530.6" width="1.0" height="71.1" fill="#ff8900"/>
<rect x="1361.7" y="530.6" width="10.3" height="71.1" fill="#ff3000"/>
<rect x="1363.2" y="530.6" width="2.4" height="71.1" fill="#ff3f00"/>
<rect x="1367.4" y="530.6" width="1.1" height="71.1" fill="#ff3a00"/>
<rect x="1370.5" y="530.6" width="1.1" height="71.1" fill="#ff0000"/>
<rect x="1371.6" y="530.6" width="20.1" height="71.1" fill="#ff5000"/>
<rect x="1372.2" y="530.6" width="2.1" height="71.1" fill="#ff4600"/>
<rect x="1381.0" y="530.6" width="2.0" height="71.1" fill="#ff5700"/>
<rect x="1391.4" y="530.6" width="11.4" height="71.1" fill="#ff9000"/>
<rect x="1395.5" y="530.6" width="1.9" height="71.1" fill="#ff6200"/>
<rect x="1398.9" y="530.6" width="1.3" height="71.1" fill="#ff4600"/>
<rect x="1402.3" y="530.6" width="8.1" height="71.1" fill="#ffc000"/>
<rect x="1403.0" y="530.6" width="1.5" height="71.1" fill="#e6ff00"/>
<rect x="1410.0" y="530.6" width="31.1" height="71.1" fill="#ffe800"/>
<rect x="1411.8" y="530.6" width="1.2" height="71.1" fill="#faff00"/>
<rect x="1414.6" y="530.6" width="1.6" height="71.1" fill="#c0ff00"/>
<rect x="1422.6" y="530.6" width="1.8" height="71.1" fill="#f4ff00"/>
<rect x="1425.3" y="530.6" width="2.0" height="71.1" fill="#ffeb00"/>
<rect x="1428.3" y="530.6" width="1.1" height="71.1" fill="#ffea00"/>
<rect x="1430.3" y="530.6" width="1.3" height="71.1" fill="#d7ff00"/>
<rect x="1433.7" y="530.6" width="1.6" height="71.1" fill="#ffc900"/>
<rect x="1437.2" y="530.6" width="2.1" height="71.1" fill="#ffdf00"/>
<rect x="1440.7" y="530.6" width="11.4" height="71.1" fill="#ffd000"/>
<rect x="1441.7" y="530.6" width="1.5" height="71.1" fill="#ff9300"/>
<rect x="1444.1" y="530.6" width="2.0" height="71.1" fill="#ff9b00"/>
<rect x="1451.7" y="530.6" width="11.4" height="71.1" fill="#ffe800"/>
<rect x="1454.0" y="530.6" width="1.8" height="71.1" fill="#fff500"/>
<rect x="1459.3" y="530.6" width="1.1" height="71.1" fill="#e7ff00"/>
<rect x="1462.6" y="530.6" width="11.4" height="71.1" fill="#ffc000"/>
<rect x="1466.4" y="530.6" width="2.0" height="71.1" fill="#fff800"/>
<rect x="1473.6" y="530.6" width="11.4" height="71.1" fill="#ffe800"/>
<rect x="1484.6" y="530.6" width="20.1" height="71.1" fill="#ff8000"/>
<rect x="1485.4" y="530.6" width="2.1" height="71.1" fill="#ff7e00"/>
<rect x="1490.2" y="530.6" width="1.6" height="71.1" fill="#ff6900"/>
<rect x="1496.6" y="530.6" width="2.0" height="71.1" fill="#ff4900"/>
<rect x="1499.7" y="530.6" width="2.4" height="71.1" fill="#ffad00"/>
<rect x="1504.3" y="530.6" width="8.1" height="71.1" fill="#ff5000"/>
<rect x="1510.2" y="530.6" width="1.7" height="71.1" fill="#ff7000"/>
<rect x="1512.0" y="530.6" width="18.9" height="71.1" fill="#ffc000"/>
<rect x="1521.2" y="530.6" width="0.9" height="71.1" fill="#ffb500"/>
<rect x="1528.6" y="530.6" width="1.6" height="71.1" fill="#ffc900"/>
<rect x="1346.5" y="601.4" width="10.2" height="70.9" fill="#ff9000"/>
<rect x="1348.7" y="601.4" width="1.2" height="70.9" fill="#ff8700"/>
<rect x="1356.3" y="601.4" width="18.7" height="70.9" fill="#ff4000"/>
<rect x="1360.4" y="601.4" width="2.2" height="70.9" fill="#ff2700"/>
<rect x="1364.4" y="601.4" width="2.0" height="70.9" fill="#ff5600"/>
<rect x="1374.6" y="601.4" width="6.5" height="70.9" fill="#ff7000"/>
<rect x="1376.9" y="601.4" width="1.9" height="70.9" fill="#ffb600"/>
<rect x="1380.7" y="601.4" width="8.6" height="70.9" fill="#ff2000"/>
<rect x="1382.7" y="601.4" width="1.4" height="70.9" fill="#ff2a00"/>
<rect x="1387.3" y="601.4" width="1.3" height="70.9" fill="#ff0f00"/>
<rect x="1388.9" y="601.4" width="14.7" height="70.9" fill="#ff5000"/>
<rect x="1389.8" y="601.4" width="1.0" height="70.9" fill="#ff7c00"/>
<rect x="1395.1" y="601.4" width="2.3" height="70.9" fill="#ff8500"/>
<rect x="1401.3" y="601.4" width="1.3" height="70.9" fill="#ff6c00"/>
<rect x="1403.1" y="601.4" width="10.6" height="70.9" fill="#ffd000"/>
<rect x="1409.6" y="601.4" width="2.0" height="70.9" fill="#ffcb00"/>
<rect x="1413.3" y="601.4" width="10.6" height="70.9" fill="#e8ff00"/>
<rect x="1417.4" y="601.4" width="2.2" height="70.9" fill="#d6ff00"/>
<rect x="1420.9" y="601.4" width="1.1" height="70.9" fill="#9fff00"/>
<rect x="1423.5" y="601.4" width="8.6" height="70.9" fill="#b0ff00"/>
<rect x="1429.3" y="601.4" width="2.0" height="70.9" fill="#daff00"/>
<rect x="1431.7" y="601.4" width="12.6" height="70.9" fill="#f0f000"/>
<rect x="1434.0" y="601.4" width="2.0" height="70.9" fill="#ebf000"/>
<rect x="1438.7" y="601.4" width="1.7" height="70.9" fill="#bbf000"/>
<rect x="1443.9" y="601.4" width="10.6" height="70.9" fill="#ffe000"/>
<rect x="1445.9" y="601.4" width="1.2" height="70.9" fill="#ffef00"/>
<rect x="1448.0" y="601.4" width="1.5" height="70.9" fill="#e1ff00"/>
<rect x="1454.1" y="601.4" width="25.9" height="70.9" fill="#ffc000"/>
<rect x="1455.8" y="601.4" width="1.5" height="70.9" fill="#ff9600"/>
<rect x="1467.4" y="601.4" width="2.3" height="70.9" fill="#ffb400"/>
<rect x="1472.1" y="601.4" width="1.5" height="70.9" fill="#ffa600"/>
<rect x="1479.5" y="601.4" width="25.9" height="70.9" fill="#ffd800"/>
<rect x="1484.2" y="601.4" width="2.3" height="70.9" fill="#fff700"/>
<rect x="1496.4" y="601.4" width="1.7" height="70.9" fill="#ff8800"/>
<rect x="1499.5" y="601.4" width="1.9" height="70.9" fill="#fffa00"/>
<rect x="1505.0" y="601.4" width="25.9" height="70.9" fill="#f8f000"/>
<rect x="1518.2" y="601.4" width="1.9" height="70.9" fill="#f8df00"/>
<rect x="1523.0" y="601.4" width="2.4" height="70.9" fill="#caf800"/>
</g>
<line x1="1406.6" y1="317" x2="1406.6" y2="672" stroke="#000" stroke-width="3.4" stroke-dasharray="20 13.5" stroke-dashoffset="0"/>
<rect x="1346.5" y="317" width="184.0" height="355" fill="none" stroke="#000" stroke-width="3"/>
<text x="1118.7" y="282.2" font-size="36" text-anchor="start" font-weight="normal" fill="#000" textLength="166.8" lengthAdjust="spacingAndGlyphs" >Light OFF</text>
<text x="1367.5" y="282.2" font-size="36" text-anchor="start" font-weight="normal" fill="#000" textLength="150.1" lengthAdjust="spacingAndGlyphs" >Light ON</text>
<line x1="1099" y1="672" x2="1099" y2="679" stroke="#000" stroke-width="3"/>
<text x="1099" y="701.8" font-size="23.3" text-anchor="middle" font-weight="normal" fill="#000" >0</text>
<line x1="1160.6" y1="672" x2="1160.6" y2="679" stroke="#000" stroke-width="3"/>
<text x="1160.6" y="701.8" font-size="23.3" text-anchor="middle" font-weight="normal" fill="#000" >60</text>
<line x1="1222.4" y1="672" x2="1222.4" y2="679" stroke="#000" stroke-width="3"/>
<text x="1222.4" y="701.8" font-size="23.3" text-anchor="middle" font-weight="normal" fill="#000" >120</text>
<line x1="1283.6" y1="672" x2="1283.6" y2="679" stroke="#000" stroke-width="3"/>
<text x="1283.6" y="701.8" font-size="23.3" text-anchor="middle" font-weight="normal" fill="#000" >180</text>
<line x1="1346.3" y1="672" x2="1346.3" y2="679" stroke="#000" stroke-width="3"/>
<text x="1346.3" y="701.8" font-size="23.3" text-anchor="middle" font-weight="normal" fill="#000" >0</text>
<line x1="1407.7" y1="672" x2="1407.7" y2="679" stroke="#000" stroke-width="3"/>
<text x="1407.7" y="701.8" font-size="23.3" text-anchor="middle" font-weight="normal" fill="#000" >60</text>
<line x1="1468.8" y1="672" x2="1468.8" y2="679" stroke="#000" stroke-width="3"/>
<text x="1468.8" y="701.8" font-size="23.3" text-anchor="middle" font-weight="normal" fill="#000" >120</text>
<line x1="1530.3" y1="672" x2="1530.3" y2="679" stroke="#000" stroke-width="3"/>
<text x="1530.3" y="701.8" font-size="23.3" text-anchor="middle" font-weight="normal" fill="#000" >180</text>
<line x1="1093.5" y1="352" x2="1099.5" y2="352" stroke="#000" stroke-width="3"/>
<text x="1087.5" y="360.28" font-size="23" text-anchor="end" font-weight="normal" fill="#000" >6</text>
<line x1="1093.5" y1="494.3" x2="1099.5" y2="494.3" stroke="#000" stroke-width="3"/>
<text x="1087.5" y="502.58" font-size="23" text-anchor="end" font-weight="normal" fill="#000" >4</text>
<line x1="1093.5" y1="636.5" x2="1099.5" y2="636.5" stroke="#000" stroke-width="3"/>
<text x="1087.5" y="644.78" font-size="23" text-anchor="end" font-weight="normal" fill="#000" >2</text>
<line x1="1340.5" y1="352" x2="1346.5" y2="352" stroke="#000" stroke-width="3"/>
<text x="1334.5" y="360.28" font-size="23" text-anchor="end" font-weight="normal" fill="#000" >6</text>
<line x1="1340.5" y1="494.3" x2="1346.5" y2="494.3" stroke="#000" stroke-width="3"/>
<text x="1334.5" y="502.58" font-size="23" text-anchor="end" font-weight="normal" fill="#000" >4</text>
<line x1="1340.5" y1="636.5" x2="1346.5" y2="636.5" stroke="#000" stroke-width="3"/>
<text x="1334.5" y="644.78" font-size="23" text-anchor="end" font-weight="normal" fill="#000" >2</text>
<text x="1137" y="745.5" font-size="29.5" text-anchor="start" font-weight="normal" fill="#000" textLength="111.7" lengthAdjust="spacingAndGlyphs" >Tim e (s)</text>
<text x="1384.3" y="745.5" font-size="29.5" text-anchor="start" font-weight="normal" fill="#000" textLength="110.9" lengthAdjust="spacingAndGlyphs" >Tim e (s)</text>
<text x="1052.7" y="496.2" font-size="40" text-anchor="middle" transform="rotate(-90 1052.7 496.2)" textLength="136" lengthAdjust="spacingAndGlyphs">Subject</text>
<text x="1530.8" y="303.5" font-size="19" text-anchor="start" font-weight="normal" fill="#000" textLength="114" lengthAdjust="spacingAndGlyphs" >dF/F (z-score)</text>
<rect x="1575" y="317.00" width="26" height="11.49" fill="#3a0606"/>
<rect x="1575" y="328.09" width="26" height="11.49" fill="#520000"/>
<rect x="1575" y="339.19" width="26" height="11.49" fill="#6a0000"/>
<rect x="1575" y="350.28" width="26" height="11.49" fill="#880000"/>
<rect x="1575" y="361.38" width="26" height="11.49" fill="#a00000"/>
<rect x="1575" y="372.47" width="26" height="11.49" fill="#b80000"/>
<rect x="1575" y="383.56" width="26" height="11.49" fill="#d40000"/>
<rect x="1575" y="394.66" width="26" height="11.49" fill="#ee0000"/>
<rect x="1575" y="405.75" width="26" height="11.49" fill="#ff0000"/>
<rect x="1575" y="416.84" width="26" height="11.49" fill="#ff0000"/>
<rect x="1575" y="427.94" width="26" height="11.49" fill="#ff0000"/>
<rect x="1575" y="439.03" width="26" height="11.49" fill="#f40000"/>
<rect x="1575" y="450.12" width="26" height="11.49" fill="#ff4a00"/>
<rect x="1575" y="461.22" width="26" height="11.49" fill="#ff8000"/>
<rect x="1575" y="472.31" width="26" height="11.49" fill="#ffb000"/>
<rect x="1575" y="483.41" width="26" height="11.49" fill="#ffe000"/>
<rect x="1575" y="494.50" width="26" height="11.49" fill="#f4ff00"/>
<rect x="1575" y="505.59" width="26" height="11.49" fill="#d0ff00"/>
<rect x="1575" y="516.69" width="26" height="11.49" fill="#a8ff00"/>
<rect x="1575" y="527.78" width="26" height="11.49" fill="#70ff00"/>
<rect x="1575" y="538.88" width="26" height="11.49" fill="#40ff00"/>
<rect x="1575" y="549.97" width="26" height="11.49" fill="#20ee20"/>
<rect x="1575" y="561.06" width="26" height="11.49" fill="#00ffe8"/>
<rect x="1575" y="572.16" width="26" height="11.49" fill="#00d0ff"/>
<rect x="1575" y="583.25" width="26" height="11.49" fill="#0098ff"/>
<rect x="1575" y="594.34" width="26" height="11.49" fill="#0050ff"/>
<rect x="1575" y="605.44" width="26" height="11.49" fill="#1000ff"/>
<rect x="1575" y="616.53" width="26" height="11.49" fill="#6000ff"/>
<rect x="1575" y="627.62" width="26" height="11.49" fill="#7a00e0"/>
<rect x="1575" y="638.72" width="26" height="11.49" fill="#7000b0"/>
<rect x="1575" y="649.81" width="26" height="11.49" fill="#5a0070"/>
<rect x="1575" y="660.91" width="26" height="11.49" fill="#40005a"/>
<rect x="1575" y="317" width="26" height="355" fill="none" stroke="#000" stroke-width="2.6"/>
<line x1="1601" y1="328.4" x2="1607" y2="328.4" stroke="#000" stroke-width="1.8"/>
<text x="1611" y="332.0" font-size="10.5" text-anchor="start" font-weight="normal" fill="#000" >8.000</text>
<line x1="1601" y1="395" x2="1607" y2="395" stroke="#000" stroke-width="1.8"/>
<text x="1611" y="398.6" font-size="10.5" text-anchor="start" font-weight="normal" fill="#000" >4.400</text>
<line x1="1601" y1="461.3" x2="1607" y2="461.3" stroke="#000" stroke-width="1.8"/>
<text x="1611" y="464.90000000000003" font-size="10.5" text-anchor="start" font-weight="normal" fill="#000" >0.8000</text>
<line x1="1601" y1="528" x2="1607" y2="528" stroke="#000" stroke-width="1.8"/>
<text x="1611" y="531.6" font-size="10.5" text-anchor="start" font-weight="normal" fill="#000" >-2.800</text>
<line x1="1601" y1="594.4" x2="1607" y2="594.4" stroke="#000" stroke-width="1.8"/>
<text x="1611" y="598.0" font-size="10.5" text-anchor="start" font-weight="normal" fill="#000" >-6.400</text>
<line x1="1601" y1="661.3" x2="1607" y2="661.3" stroke="#000" stroke-width="1.8"/>
<text x="1611" y="664.9" font-size="10.5" text-anchor="start" font-weight="normal" fill="#000" >-10.00</text>
<polygon points="106.7,866.9 108.2,867.1 109.7,864.9 111.2,859.9 112.7,864.5 114.2,867.0 115.7,869.4 117.2,877.0 118.7,881.3 120.2,885.9 121.7,890.1 123.2,895.5 124.7,896.2 126.2,901.6 127.7,904.8 129.2,911.4 130.7,911.6 132.2,909.7 133.7,907.5 135.2,907.7 136.7,907.3 138.2,905.6 139.7,908.4 141.2,906.7 142.7,896.3 144.2,897.3 145.7,900.6 147.2,898.9 148.7,899.4 150.2,898.6 151.7,903.6 153.2,895.9 154.7,898.0 156.2,904.3 157.7,901.2 159.2,901.5 160.7,899.6 162.2,898.5 163.7,904.9 165.2,906.5 166.7,905.0 168.2,908.1 169.7,911.5 171.2,909.4 172.7,911.2 174.2,911.4 175.7,910.9 177.2,909.3 178.7,911.7 180.2,912.1 181.7,909.5 183.2,905.6 184.7,908.3 186.2,904.1 187.7,906.4 189.2,900.4 190.7,904.3 192.2,900.8 193.7,896.6 195.2,897.8 196.7,899.1 198.2,901.8 199.7,900.8 201.2,902.7 202.7,908.1 204.2,908.5 205.7,912.4 207.2,915.9 208.7,912.0 210.2,919.0 211.7,923.9 213.2,922.6 214.7,923.8 216.2,930.2 217.7,931.4 219.2,935.5 220.7,933.5 222.2,930.0 223.7,932.8 225.2,931.4 226.7,933.9 228.2,931.8 229.7,926.6 231.2,927.1 232.7,931.7 234.2,930.6 235.7,926.7 237.2,927.7 238.7,928.2 240.2,927.7 241.7,927.5 243.2,923.9 244.7,921.0 246.2,918.6 247.7,914.8 249.2,885.5 250.7,883.8 252.2,879.5 253.7,871.1 255.2,868.8 256.7,855.7 258.2,848.8 259.7,835.6 261.2,827.0 262.7,826.4 264.2,835.5 265.7,842.8 267.2,850.1 268.7,867.3 270.2,871.5 271.7,873.1 273.2,876.7 274.7,877.3 276.2,871.3 277.7,860.6 279.2,851.9 280.7,841.4 282.2,835.8 283.7,832.0 285.2,849.3 286.7,864.5 288.2,869.9 289.7,878.1 291.2,886.8 292.7,892.7 294.2,884.8 295.7,885.2 297.2,890.5 298.7,887.7 300.2,889.5 301.7,891.8 303.2,895.9 304.7,895.4 306.2,899.0 307.7,899.8 309.2,900.7 310.7,905.0 312.2,906.4 313.7,911.8 315.2,912.0 316.7,915.1 318.2,928.0 319.7,930.9 321.2,936.2 322.7,935.0 324.2,930.0 325.7,927.9 327.2,926.9 328.7,923.9 330.2,922.1 331.7,932.7 333.2,934.8 334.7,939.2 336.2,945.2 337.7,952.1 339.2,960.0 340.7,955.6 342.2,961.6 343.7,958.5 345.2,966.4 346.7,970.6 348.2,968.1 349.7,967.5 351.2,970.0 352.7,971.6 354.2,971.9 355.7,975.9 357.2,972.4 358.7,971.3 360.2,973.4 361.7,974.4 363.2,975.8 364.7,976.4 366.2,977.9 367.7,974.3 369.2,981.5 370.7,979.0 372.2,980.4 373.7,989.4 375.2,995.6 376.7,998.0 378.2,1001.7 379.7,1003.5 381.2,1015.7 382.7,1013.4 384.2,1011.0 385.7,1014.5 387.2,1019.3 388.7,1017.3 390.2,1022.9 391.7,1022.5 393.2,1028.0 394.7,1028.6 396.2,1020.6 397.7,1028.8 399.2,1025.9 400.7,1033.9 402.2,1035.0 403.7,1039.7 405.2,1039.4 406.7,1050.4 408.2,1054.7 409.7,1049.6 411.2,1052.5 412.7,1049.2 414.2,1048.7 415.7,1041.1 417.2,1044.4 418.7,1032.9 420.2,1030.1 421.7,1027.6 423.2,1020.3 424.7,1017.6 426.2,1018.5 427.7,1021.3 429.2,1020.4 430.7,1024.0 432.2,1026.3 433.7,1027.7 435.2,1030.4 436.7,1031.2 438.2,1035.5 439.7,1034.6 441.2,1036.7 442.7,1037.1 444.2,1037.8 445.7,1035.1 447.2,1038.7 448.7,1033.7 450.2,1033.8 451.7,1035.8 453.2,1035.0 454.7,1032.1 456.2,1027.2 457.7,1032.5 459.2,1031.2 460.7,1026.2 462.2,1030.8 463.7,1026.0 465.2,1023.7 466.7,1025.6 468.2,1023.8 469.7,1023.6 471.2,1017.9 472.7,1025.3 474.2,1018.1 475.7,1014.6 477.2,1018.8 478.7,1015.2 480.2,1015.7 481.7,1012.9 483.2,1012.5 484.7,1012.1 486.2,1008.4 487.7,1012.2 489.2,1010.3 490.7,1010.3 492.2,1013.6 493.7,1015.5 495.2,1014.7 496.7,1014.1 498.2,1018.7 499.7,1013.7 501.2,1016.5 502.7,1020.1 504.2,1017.6 505.7,1022.0 507.2,1022.8 508.7,1026.1 510.2,1022.5 511.7,1024.2 513.2,1027.5 514.7,1021.5 516.2,1036.4 517.7,1025.1 519.2,1022.6 520.7,1024.2 522.2,1019.5 523.7,1012.7 525.2,1016.3 526.7,1014.5 528.2,1008.8 529.7,1006.8 529.7,1102.4 528.2,1104.1 526.7,1100.7 525.2,1107.4 523.7,1111.5 522.2,1108.0 520.7,1113.4 519.2,1112.9 517.7,1117.4 516.2,1121.1 514.7,1119.3 513.2,1120.3 511.7,1121.2 510.2,1122.3 508.7,1122.6 507.2,1125.0 505.7,1128.9 504.2,1129.3 502.7,1132.8 501.2,1132.2 499.7,1138.4 498.2,1135.4 496.7,1140.7 495.2,1140.7 493.7,1142.5 492.2,1148.3 490.7,1152.6 489.2,1146.6 487.7,1149.9 486.2,1152.7 484.7,1153.0 483.2,1159.6 481.7,1159.7 480.2,1164.0 478.7,1163.3 477.2,1161.8 475.7,1165.2 474.2,1168.2 472.7,1173.5 471.2,1168.8 469.7,1165.6 468.2,1163.7 466.7,1155.4 465.2,1153.2 463.7,1151.5 462.2,1150.7 460.7,1143.2 459.2,1149.3 457.7,1145.3 456.2,1147.6 454.7,1149.2 453.2,1149.8 451.7,1140.2 450.2,1138.7 448.7,1141.5 447.2,1132.7 445.7,1134.2 444.2,1135.6 442.7,1134.3 441.2,1126.4 439.7,1128.5 438.2,1130.0 436.7,1132.5 435.2,1121.9 433.7,1127.1 432.2,1125.2 430.7,1118.2 429.2,1121.5 427.7,1123.2 426.2,1125.6 424.7,1124.7 423.2,1127.0 421.7,1128.6 420.2,1133.0 418.7,1130.5 417.2,1127.9 415.7,1130.0 414.2,1136.6 412.7,1140.6 411.2,1136.7 409.7,1141.7 408.2,1134.9 406.7,1134.7 405.2,1125.7 403.7,1131.0 402.2,1121.6 400.7,1121.9 399.2,1123.7 397.7,1118.0 396.2,1112.5 394.7,1111.6 393.2,1112.0 391.7,1108.3 390.2,1100.2 388.7,1104.5 387.2,1100.1 385.7,1100.4 384.2,1100.1 382.7,1093.5 381.2,1092.1 379.7,1087.4 378.2,1084.7 376.7,1087.4 375.2,1086.1 373.7,1078.0 372.2,1079.4 370.7,1072.1 369.2,1076.1 367.7,1075.4 366.2,1068.5 364.7,1069.4 363.2,1067.3 361.7,1061.9 360.2,1062.8 358.7,1062.9 357.2,1062.7 355.7,1058.8 354.2,1057.9 352.7,1059.5 351.2,1051.4 349.7,1055.3 348.2,1052.9 346.7,1050.6 345.2,1052.9 343.7,1053.9 342.2,1053.2 340.7,1051.1 339.2,1048.0 337.7,1046.6 336.2,1043.1 334.7,1039.8 333.2,1040.9 331.7,1034.1 330.2,1038.0 328.7,1032.3 327.2,1035.1 325.7,1026.3 324.2,1028.0 322.7,1020.1 321.2,1022.7 319.7,1018.4 318.2,1016.7 316.7,1011.0 315.2,1007.6 313.7,1008.0 312.2,1003.5 310.7,1005.7 309.2,996.2 307.7,995.5 306.2,989.0 304.7,991.2 303.2,986.4 301.7,981.3 300.2,976.9 298.7,976.8 297.2,981.4 295.7,983.9 294.2,986.2 292.7,992.4 291.2,994.8 289.7,993.4 288.2,987.7 286.7,979.9 285.2,975.9 283.7,971.7 282.2,968.0 280.7,955.4 279.2,955.2 277.7,958.9 276.2,952.7 274.7,959.6 273.2,957.4 271.7,963.2 270.2,959.2 268.7,963.1 267.2,953.2 265.7,951.0 264.2,952.2 262.7,943.5 261.2,943.4 259.7,944.3 258.2,944.8 256.7,943.6 255.2,947.7 253.7,954.0 252.2,960.6 250.7,967.8 249.2,971.3 247.7,969.1 246.2,966.1 244.7,967.1 243.2,963.5 241.7,967.3 240.2,960.1 238.7,966.3 237.2,965.6 235.7,964.6 234.2,968.2 232.7,968.3 231.2,971.6 229.7,975.8 228.2,973.6 226.7,976.3 225.2,979.7 223.7,980.6 222.2,982.5 220.7,974.3 219.2,971.7 217.7,973.1 216.2,972.8 214.7,968.2 213.2,968.4 211.7,970.6 210.2,965.4 208.7,967.0 207.2,956.8 205.7,958.0 204.2,958.0 202.7,961.1 201.2,958.1 199.7,956.8 198.2,955.7 196.7,956.6 195.2,952.0 193.7,952.1 192.2,952.3 190.7,956.5 189.2,953.7 187.7,953.6 186.2,958.6 184.7,958.2 183.2,956.5 181.7,964.8 180.2,967.2 178.7,961.9 177.2,972.1 175.7,970.4 174.2,975.7 172.7,973.3 171.2,970.3 169.7,969.5 168.2,974.3 166.7,968.8 165.2,965.5 163.7,962.1 162.2,965.4 160.7,961.2 159.2,960.7 157.7,958.9 156.2,958.5 154.7,957.8 153.2,953.8 151.7,954.0 150.2,946.5 148.7,946.1 147.2,946.8 145.7,956.6 144.2,953.9 142.7,949.9 141.2,954.0 139.7,954.3 138.2,954.4 136.7,956.5 135.2,952.7 133.7,952.3 132.2,947.0 130.7,946.4 129.2,941.4 127.7,939.3 126.2,932.7 124.7,930.4 123.2,927.0 121.7,927.3 120.2,923.0 118.7,924.6 117.2,925.4 115.7,922.1 114.2,925.3 112.7,926.5 111.2,915.4 109.7,919.9 108.2,919.2 106.7,920.5" fill="#c4c4c4"/>
<polyline points="106.7,900.6 107.7,892.5 108.7,893.4 109.7,889.1 110.7,885.2 111.7,881.5 112.7,875.3 113.7,881.9 114.7,889.2 115.7,891.4 116.7,883.7 117.7,881.6 118.7,891.1 119.7,899.9 120.7,903.1 121.7,901.9 122.7,906.5 123.7,911.5 124.7,918.8 125.7,923.3 126.7,928.8 127.7,929.9 128.7,928.0 129.7,926.0 130.7,925.7 131.7,925.9 132.7,928.1 133.7,926.7 134.7,927.9 135.7,930.5 136.7,929.4 137.7,931.3 138.7,932.1 139.7,930.3 140.7,928.3 141.7,927.5 142.7,921.9 143.7,925.1 144.7,921.3 145.7,921.2 146.7,925.2 147.7,927.5 148.7,927.8 149.7,928.8 150.7,931.8 151.7,933.4 152.7,934.1 153.7,931.1 154.7,928.2 155.7,927.1 156.7,923.3 157.7,920.2 158.7,919.8 159.7,917.6 160.7,917.4 161.7,918.7 162.7,922.0 163.7,920.7 164.7,926.6 165.7,928.4 166.7,927.8 167.7,933.1 168.7,935.9 169.7,941.9 170.7,942.6 171.7,948.0 172.7,953.9 173.7,956.2 174.7,948.7 175.7,947.2 176.7,944.7 177.7,940.0 178.7,939.8 179.7,933.9 180.7,933.1 181.7,929.2 182.7,931.3 183.7,928.7 184.7,927.4 185.7,924.9 186.7,928.1 187.7,926.2 188.7,925.1 189.7,924.5 190.7,922.4 191.7,920.2 192.7,918.9 193.7,917.8 194.7,919.3 195.7,914.8 196.7,917.2 197.7,920.1 198.7,923.2 199.7,926.1 200.7,926.5 201.7,928.4 202.7,932.9 203.7,936.5 204.7,937.8 205.7,938.9 206.7,940.0 207.7,942.5 208.7,943.6 209.7,946.6 210.7,945.8 211.7,946.4 212.7,945.6 213.7,945.9 214.7,945.0 215.7,947.3 216.7,945.5 217.7,945.3 218.7,943.3 219.7,947.5 220.7,949.3 221.7,952.9 222.7,951.7 223.7,958.0 224.7,957.6 225.7,952.0 226.7,949.6 227.7,947.0 228.7,945.3 229.7,944.3 230.7,948.5 231.7,948.3 232.7,951.9 233.7,953.7 234.7,951.6 235.7,946.3 236.7,943.0 237.7,940.0 238.7,941.4 239.7,940.9 240.7,944.0 241.7,943.3 242.7,942.5 243.7,941.3 244.7,940.4 245.7,937.0 246.7,930.2 247.7,918.3 248.7,907.1 249.7,896.9 250.7,905.1 251.7,912.9 252.7,918.7 253.7,903.9 254.7,887.2 255.7,884.3 256.7,882.7 257.7,880.5 258.7,877.4 259.7,872.0 260.7,869.9 261.7,868.1 262.7,865.1 263.7,863.4 264.7,865.5 265.7,873.2 266.7,882.9 267.7,891.6 268.7,902.1 269.7,914.3 270.7,927.1 271.7,937.6 272.7,927.1 273.7,924.7 274.7,917.2 275.7,919.3 276.7,921.5 277.7,923.2 278.7,916.5 279.7,907.8 280.7,902.0 281.7,892.2 282.7,884.8 283.7,888.1 284.7,895.0 285.7,906.8 286.7,913.9 287.7,925.2 288.7,934.6 289.7,946.1 290.7,958.8 291.7,968.1 292.7,961.5 293.7,957.7 294.7,952.2 295.7,949.1 296.7,945.2 297.7,946.1 298.7,942.9 299.7,941.4 300.7,940.5 301.7,941.9 302.7,946.9 303.7,951.3 304.7,952.0 305.7,953.3 306.7,955.3 307.7,954.4 308.7,955.1 309.7,955.3 310.7,954.4 311.7,958.0 312.7,956.3 313.7,962.9 314.7,965.8 315.7,970.8 316.7,973.1 317.7,975.9 318.7,981.0 319.7,983.4 320.7,987.3 321.7,991.1 322.7,994.4 323.7,992.4 324.7,987.3 325.7,983.8 326.7,977.2 327.7,975.3 328.7,969.8 329.7,968.3 330.7,967.3 331.7,969.1 332.7,977.4 333.7,982.8 334.7,987.5 335.7,995.2 336.7,999.7 337.7,1003.9 338.7,1011.5 339.7,1017.4 340.7,1018.4 341.7,1016.3 342.7,1018.0 343.7,1017.7 344.7,1014.9 345.7,1015.0 346.7,1015.2 347.7,1014.1 348.7,1017.4 349.7,1017.6 350.7,1018.1 351.7,1020.4 352.7,1023.2 353.7,1028.1 354.7,1026.7 355.7,1024.7 356.7,1022.8 357.7,1019.8 358.7,1020.3 359.7,1014.6 360.7,1013.8 361.7,1013.9 362.7,1016.2 363.7,1015.7 364.7,1020.9 365.7,1020.3 366.7,1022.2 367.7,1024.4 368.7,1029.6 369.7,1036.2 370.7,1041.7 371.7,1045.1 372.7,1046.1 373.7,1046.0 374.7,1045.7 375.7,1047.2 376.7,1047.4 377.7,1047.0 378.7,1048.5 379.7,1049.7 380.7,1050.1 381.7,1051.1 382.7,1054.1 383.7,1057.3 384.7,1056.5 385.7,1058.4 386.7,1060.1 387.7,1063.5 388.7,1061.4 389.7,1065.3 390.7,1067.6 391.7,1066.5 392.7,1070.6 393.7,1070.8 394.7,1070.7 395.7,1072.0 396.7,1070.3 397.7,1071.9 398.7,1075.1 399.7,1072.3 400.7,1076.0 401.7,1074.1 402.7,1075.8 403.7,1075.0 404.7,1072.7 405.7,1077.9 406.7,1083.2 407.7,1086.0 408.7,1090.2 409.7,1096.6 410.7,1099.8 411.7,1098.4 412.7,1097.5 413.7,1097.2 414.7,1093.5 415.7,1093.1 416.7,1091.7 417.7,1087.8 418.7,1084.3 419.7,1079.7 420.7,1076.0 421.7,1071.8 422.7,1065.8 423.7,1060.8 424.7,1058.5 425.7,1060.1 426.7,1059.8 427.7,1060.6 428.7,1060.1 429.7,1060.4 430.7,1063.6 431.7,1065.3 432.7,1068.0 433.7,1072.4 434.7,1073.9 435.7,1080.0 436.7,1080.6 437.7,1081.7 438.7,1086.4 439.7,1088.9 440.7,1090.6 441.7,1095.8 442.7,1096.5 443.7,1096.7 444.7,1101.2 445.7,1091.9 446.7,1086.9 447.7,1076.7 448.7,1068.5 449.7,1071.0 450.7,1077.3 451.7,1088.3 452.7,1093.9 453.7,1091.0 454.7,1089.5 455.7,1088.4 456.7,1088.0 457.7,1084.7 458.7,1085.1 459.7,1083.5 460.7,1083.9 461.7,1079.0 462.7,1076.6 463.7,1076.9 464.7,1073.9 465.7,1073.0 466.7,1076.4 467.7,1082.6 468.7,1085.4 469.7,1091.1 470.7,1093.1 471.7,1100.0 472.7,1100.7 473.7,1095.0 474.7,1092.0 475.7,1088.3 476.7,1087.5 477.7,1083.9 478.7,1079.0 479.7,1075.6 480.7,1069.5 481.7,1064.5 482.7,1057.2 483.7,1054.5 484.7,1048.5 485.7,1048.7 486.7,1049.0 487.7,1050.1 488.7,1052.2 489.7,1051.6 490.7,1054.0 491.7,1054.2 492.7,1055.9 493.7,1056.5 494.7,1057.0 495.7,1056.4 496.7,1060.6 497.7,1062.8 498.7,1062.4 499.7,1062.3 500.7,1060.5 501.7,1060.0 502.7,1058.8 503.7,1061.0 504.7,1059.0 505.7,1059.7 506.7,1061.0 507.7,1064.8 508.7,1069.1 509.7,1070.3 510.7,1071.2 511.7,1073.3 512.7,1072.6 513.7,1071.2 514.7,1070.2 515.7,1075.7 516.7,1080.0 517.7,1085.2 518.7,1088.4 519.7,1094.7 520.7,1084.7 521.7,1078.3 522.7,1064.9 523.7,1061.8 524.7,1064.1 525.7,1064.6 526.7,1065.6 527.7,1061.3 528.7,1056.5 529.7,1050.5" fill="none" stroke="#000" stroke-width="2.6" stroke-linejoin="round"/>
<polygon points="106.7,933.4 108.2,934.0 109.7,938.0 111.2,935.0 112.7,928.6 114.2,932.2 115.7,930.1 117.2,931.4 118.7,926.5 120.2,930.3 121.7,928.3 123.2,929.6 124.7,924.4 126.2,922.9 127.7,915.9 129.2,923.2 130.7,910.8 132.2,916.3 133.7,910.7 135.2,907.3 136.7,905.8 138.2,903.7 139.7,904.4 141.2,901.1 142.7,903.1 144.2,893.6 145.7,898.9 147.2,897.3 148.7,902.1 150.2,895.5 151.7,900.6 153.2,902.6 154.7,899.0 156.2,905.8 157.7,904.5 159.2,907.2 160.7,908.1 162.2,904.8 163.7,906.7 165.2,909.7 166.7,913.6 168.2,915.3 169.7,912.9 171.2,911.4 172.7,908.3 174.2,906.3 175.7,904.5 177.2,902.2 178.7,905.1 180.2,896.1 181.7,894.0 183.2,893.3 184.7,887.1 186.2,889.4 187.7,891.9 189.2,895.4 190.7,891.8 192.2,900.1 193.7,897.4 195.2,900.3 196.7,903.6 198.2,904.7 199.7,907.3 201.2,904.4 202.7,902.6 204.2,902.2 205.7,897.6 207.2,901.9 208.7,895.6 210.2,893.1 211.7,900.1 213.2,893.3 214.7,889.5 216.2,895.7 217.7,889.0 219.2,891.2 220.7,885.2 222.2,886.2 223.7,882.3 225.2,881.5 226.7,883.6 228.2,885.6 229.7,887.5 231.2,891.4 232.7,882.5 234.2,887.3 235.7,883.0 237.2,883.9 238.7,880.3 240.2,882.3 241.7,886.4 243.2,887.8 244.7,893.3 246.2,893.9 247.7,902.3 249.2,904.3 250.7,909.1 252.2,916.2 253.7,919.6 255.2,926.1 256.7,933.8 258.2,933.4 259.7,935.4 261.2,933.7 262.7,931.7 264.2,932.2 265.7,930.4 267.2,934.5 268.7,931.2 270.2,939.6 271.7,938.0 273.2,939.8 274.7,942.3 276.2,942.3 277.7,943.2 279.2,948.4 280.7,947.2 282.2,945.7 283.7,950.1 285.2,945.7 286.7,955.1 288.2,952.8 289.7,956.3 291.2,964.8 292.7,967.6 294.2,963.0 295.7,961.0 297.2,958.9 298.7,957.0 300.2,950.7 301.7,958.8 303.2,968.9 304.7,972.1 306.2,976.0 307.7,978.3 309.2,976.7 310.7,980.1 312.2,978.4 313.7,987.0 315.2,993.8 316.7,990.7 318.2,999.5 319.7,1001.9 321.2,1002.2 322.7,1005.3 324.2,1008.5 325.7,1008.8 327.2,1012.1 328.7,1014.6 330.2,1018.1 331.7,1020.4 333.2,1018.4 334.7,1023.4 336.2,1020.2 337.7,1022.4 339.2,1024.5 340.7,1024.3 342.2,1024.8 343.7,1026.5 345.2,1025.2 346.7,1025.8 348.2,1028.0 349.7,1032.0 351.2,1030.4 352.7,1036.4 354.2,1033.3 355.7,1026.4 357.2,1033.8 358.7,1040.1 360.2,1037.0 361.7,1036.9 363.2,1036.9 364.7,1043.4 366.2,1043.7 367.7,1043.8 369.2,1044.0 370.7,1047.3 372.2,1046.5 373.7,1042.1 375.2,1047.9 376.7,1047.2 378.2,1047.2 379.7,1050.2 381.2,1049.1 382.7,1042.5 384.2,1054.4 385.7,1053.9 387.2,1051.8 388.7,1051.9 390.2,1054.8 391.7,1052.6 393.2,1058.2 394.7,1058.4 396.2,1059.7 397.7,1059.8 399.2,1062.0 400.7,1068.0 402.2,1070.2 403.7,1069.7 405.2,1069.9 406.7,1069.3 408.2,1074.9 409.7,1078.7 411.2,1072.6 412.7,1081.6 414.2,1075.3 415.7,1081.9 417.2,1085.8 418.7,1083.5 420.2,1085.2 421.7,1091.5 423.2,1092.3 424.7,1088.0 426.2,1091.7 427.7,1085.4 429.2,1090.9 430.7,1085.9 432.2,1085.3 433.7,1085.3 435.2,1083.7 436.7,1086.6 438.2,1086.6 439.7,1081.5 441.2,1076.1 442.7,1069.2 444.2,1065.9 445.7,1063.4 447.2,1058.7 448.7,1054.5 450.2,1050.3 451.7,1047.1 453.2,1041.3 454.7,1041.7 456.2,1046.6 457.7,1045.5 459.2,1041.7 460.7,1045.8 462.2,1040.5 463.7,1041.1 465.2,1036.8 466.7,1043.0 468.2,1040.5 469.7,1042.8 471.2,1042.2 472.7,1041.2 474.2,1041.9 475.7,1045.0 477.2,1042.2 478.7,1042.8 480.2,1043.8 481.7,1046.2 483.2,1047.1 484.7,1053.2 486.2,1055.5 487.7,1066.1 489.2,1068.6 490.7,1075.8 492.2,1075.0 493.7,1079.4 495.2,1077.0 496.7,1074.8 498.2,1077.7 499.7,1077.6 501.2,1076.3 502.7,1076.8 504.2,1075.5 505.7,1085.1 507.2,1078.9 508.7,1081.2 510.2,1076.2 511.7,1076.6 513.2,1079.2 514.7,1079.5 516.2,1081.1 517.7,1069.1 519.2,1065.5 520.7,1060.4 522.2,1047.5 523.7,1049.2 525.2,1041.7 526.7,1042.2 528.2,1039.4 529.7,1040.0 529.7,1150.9 528.2,1156.3 526.7,1152.5 525.2,1156.7 523.7,1159.1 522.2,1162.0 520.7,1162.9 519.2,1165.6 517.7,1169.9 516.2,1174.5 514.7,1169.0 513.2,1176.2 511.7,1176.6 510.2,1180.6 508.7,1173.4 507.2,1175.9 505.7,1180.9 504.2,1179.5 502.7,1177.5 501.2,1179.6 499.7,1178.3 498.2,1177.8 496.7,1180.7 495.2,1182.2 493.7,1181.3 492.2,1181.5 490.7,1179.9 489.2,1180.0 487.7,1178.6 486.2,1178.6 484.7,1178.8 483.2,1180.0 481.7,1175.8 480.2,1177.7 478.7,1179.7 477.2,1180.4 475.7,1176.3 474.2,1174.2 472.7,1176.4 471.2,1177.7 469.7,1176.3 468.2,1178.1 466.7,1174.0 465.2,1171.8 463.7,1172.1 462.2,1173.2 460.7,1176.0 459.2,1175.5 457.7,1178.5 456.2,1179.2 454.7,1183.9 453.2,1189.8 451.7,1186.8 450.2,1186.3 448.7,1197.0 447.2,1197.7 445.7,1194.6 444.2,1205.6 442.7,1204.5 441.2,1209.4 439.7,1210.5 438.2,1208.0 436.7,1216.6 435.2,1210.7 433.7,1212.1 432.2,1211.1 430.7,1214.2 429.2,1215.7 427.7,1220.8 426.2,1220.7 424.7,1223.9 423.2,1228.0 421.7,1230.0 420.2,1227.0 418.7,1227.0 417.2,1229.7 415.7,1228.2 414.2,1222.9 412.7,1227.3 411.2,1223.3 409.7,1220.7 408.2,1215.8 406.7,1218.6 405.2,1222.5 403.7,1215.1 402.2,1213.3 400.7,1215.5 399.2,1219.3 397.7,1214.6 396.2,1214.5 394.7,1210.4 393.2,1212.9 391.7,1213.8 390.2,1211.8 388.7,1209.7 387.2,1206.4 385.7,1203.6 384.2,1211.0 382.7,1200.2 381.2,1199.4 379.7,1204.4 378.2,1201.8 376.7,1195.2 375.2,1193.0 373.7,1191.5 372.2,1191.1 370.7,1185.6 369.2,1182.3 367.7,1174.8 366.2,1181.2 364.7,1177.3 363.2,1169.7 361.7,1171.5 360.2,1171.2 358.7,1159.2 357.2,1159.0 355.7,1155.9 354.2,1155.0 352.7,1149.0 351.2,1146.6 349.7,1147.6 348.2,1145.9 346.7,1140.8 345.2,1135.1 343.7,1133.5 342.2,1130.9 340.7,1128.1 339.2,1123.8 337.7,1127.0 336.2,1119.6 334.7,1117.7 333.2,1112.1 331.7,1114.5 330.2,1115.8 328.7,1107.5 327.2,1110.7 325.7,1110.7 324.2,1100.1 322.7,1101.6 321.2,1103.3 319.7,1098.8 318.2,1097.1 316.7,1092.1 315.2,1088.5 313.7,1090.4 312.2,1086.8 310.7,1085.9 309.2,1086.8 307.7,1081.3 306.2,1079.0 304.7,1077.9 303.2,1074.3 301.7,1073.2 300.2,1069.4 298.7,1068.2 297.2,1071.2 295.7,1070.7 294.2,1068.8 292.7,1069.4 291.2,1071.9 289.7,1073.9 288.2,1067.2 286.7,1070.9 285.2,1063.3 283.7,1057.4 282.2,1057.2 280.7,1051.1 279.2,1045.0 277.7,1042.4 276.2,1040.4 274.7,1041.9 273.2,1044.2 271.7,1039.5 270.2,1041.6 268.7,1039.5 267.2,1025.5 265.7,1025.0 264.2,1023.0 262.7,1012.8 261.2,1001.2 259.7,989.0 258.2,973.8 256.7,966.4 255.2,961.8 253.7,956.5 252.2,953.1 250.7,949.5 249.2,950.6 247.7,947.2 246.2,949.4 244.7,951.9 243.2,957.3 241.7,954.5 240.2,954.1 238.7,955.5 237.2,955.1 235.7,953.3 234.2,958.2 232.7,953.8 231.2,954.7 229.7,958.7 228.2,955.2 226.7,956.0 225.2,957.9 223.7,961.5 222.2,956.3 220.7,956.8 219.2,956.9 217.7,962.6 216.2,958.5 214.7,961.2 213.2,961.8 211.7,961.1 210.2,960.8 208.7,963.5 207.2,962.2 205.7,963.0 204.2,961.8 202.7,966.4 201.2,962.8 199.7,961.5 198.2,965.1 196.7,965.1 195.2,964.6 193.7,969.1 192.2,964.4 190.7,966.6 189.2,960.9 187.7,962.2 186.2,960.3 184.7,964.8 183.2,960.0 181.7,965.4 180.2,962.4 178.7,962.4 177.2,958.0 175.7,963.1 174.2,963.1 172.7,960.2 171.2,963.7 169.7,957.3 168.2,962.9 166.7,963.0 165.2,956.2 163.7,958.4 162.2,953.3 160.7,952.9 159.2,953.5 157.7,950.8 156.2,951.5 154.7,951.1 153.2,950.1 151.7,945.8 150.2,947.5 148.7,944.7 147.2,947.4 145.7,944.8 144.2,951.9 142.7,951.7 141.2,950.0 139.7,952.2 138.2,954.6 136.7,952.3 135.2,953.8 133.7,954.3 132.2,953.8 130.7,957.4 129.2,953.8 127.7,959.0 126.2,962.8 124.7,956.7 123.2,956.4 121.7,960.5 120.2,964.2 118.7,962.3 117.2,958.8 115.7,959.7 114.2,961.7 112.7,964.6 111.2,963.1 109.7,961.7 108.2,959.4 106.7,961.0" fill="#f7c0c0" fill-opacity="0.62"/>
<polyline points="106.7,949.8 107.7,950.9 108.7,946.9 109.7,949.8 110.7,951.3 111.7,951.4 112.7,949.7 113.7,949.5 114.7,947.3 115.7,947.9 116.7,948.0 117.7,947.3 118.7,947.7 119.7,948.2 120.7,946.6 121.7,947.8 122.7,947.2 123.7,947.0 124.7,943.1 125.7,941.9 126.7,937.1 127.7,935.1 128.7,935.3 129.7,934.8 130.7,932.3 131.7,931.5 132.7,932.9 133.7,930.7 134.7,931.8 135.7,930.0 136.7,928.9 137.7,927.8 138.7,927.1 139.7,924.0 140.7,923.3 141.7,919.7 142.7,918.0 143.7,915.5 144.7,917.8 145.7,918.2 146.7,918.3 147.7,921.9 148.7,919.9 149.7,920.5 150.7,921.3 151.7,923.0 152.7,921.5 153.7,924.0 154.7,925.0 155.7,925.1 156.7,929.1 157.7,931.0 158.7,932.0 159.7,934.9 160.7,936.1 161.7,938.7 162.7,942.6 163.7,945.9 164.7,945.8 165.7,947.6 166.7,949.3 167.7,946.4 168.7,942.8 169.7,939.7 170.7,933.0 171.7,932.9 172.7,928.3 173.7,928.6 174.7,926.4 175.7,923.7 176.7,921.1 177.7,920.1 178.7,917.8 179.7,916.3 180.7,913.7 181.7,913.5 182.7,910.3 183.7,909.4 184.7,907.6 185.7,909.0 186.7,907.2 187.7,909.3 188.7,911.9 189.7,911.0 190.7,911.6 191.7,915.8 192.7,917.9 193.7,921.7 194.7,922.6 195.7,926.4 196.7,929.8 197.7,933.2 198.7,934.0 199.7,939.6 200.7,940.3 201.7,942.5 202.7,945.6 203.7,949.2 204.7,951.2 205.7,950.6 206.7,947.7 207.7,944.5 208.7,940.9 209.7,939.9 210.7,932.9 211.7,930.4 212.7,928.6 213.7,924.8 214.7,920.5 215.7,919.3 216.7,918.8 217.7,916.7 218.7,919.7 219.7,919.8 220.7,919.4 221.7,917.1 222.7,916.9 223.7,914.7 224.7,915.2 225.7,913.4 226.7,914.4 227.7,914.7 228.7,917.0 229.7,917.8 230.7,918.9 231.7,915.2 232.7,914.2 233.7,915.7 234.7,913.9 235.7,914.1 236.7,912.1 237.7,910.0 238.7,908.7 239.7,906.4 240.7,907.6 241.7,908.9 242.7,914.2 243.7,914.2 244.7,916.0 245.7,916.0 246.7,917.7 247.7,917.4 248.7,918.7 249.7,921.1 250.7,922.7 251.7,925.2 252.7,928.1 253.7,930.5 254.7,931.6 255.7,936.9 256.7,935.5 257.7,938.1 258.7,946.8 259.7,950.7 260.7,959.2 261.7,966.1 262.7,974.0 263.7,982.8 264.7,987.4 265.7,988.3 266.7,988.0 267.7,984.8 268.7,986.4 269.7,984.9 270.7,985.8 271.7,984.6 272.7,983.2 273.7,983.1 274.7,983.0 275.7,979.3 276.7,976.0 277.7,971.9 278.7,970.6 279.7,970.2 280.7,968.5 281.7,972.4 282.7,977.2 283.7,981.9 284.7,986.1 285.7,993.8 286.7,1003.0 287.7,1010.7 288.7,1020.7 289.7,1026.1 290.7,1025.4 291.7,1027.6 292.7,1025.1 293.7,1027.7 294.7,1028.7 295.7,1026.9 296.7,1027.5 297.7,1028.9 298.7,1029.8 299.7,1029.2 300.7,1029.4 301.7,1026.8 302.7,1021.3 303.7,1015.0 304.7,1011.2 305.7,1006.5 306.7,1003.8 307.7,1008.0 308.7,1009.2 309.7,1013.0 310.7,1013.1 311.7,1016.0 312.7,1017.8 313.7,1022.5 314.7,1024.5 315.7,1026.7 316.7,1028.7 317.7,1030.1 318.7,1032.1 319.7,1032.4 320.7,1037.4 321.7,1039.5 322.7,1042.7 323.7,1044.7 324.7,1050.2 325.7,1052.2 326.7,1053.9 327.7,1059.3 328.7,1062.0 329.7,1064.4 330.7,1068.4 331.7,1070.7 332.7,1069.5 333.7,1070.6 334.7,1072.9 335.7,1073.1 336.7,1073.3 337.7,1072.2 338.7,1071.4 339.7,1070.6 340.7,1069.7 341.7,1066.6 342.7,1067.5 343.7,1071.8 344.7,1072.9 345.7,1074.6 346.7,1076.4 347.7,1078.7 348.7,1083.5 349.7,1085.6 350.7,1087.0 351.7,1088.9 352.7,1094.6 353.7,1097.2 354.7,1099.4 355.7,1101.4 356.7,1101.1 357.7,1104.0 358.7,1108.3 359.7,1109.8 360.7,1112.8 361.7,1114.4 362.7,1116.6 363.7,1120.1 364.7,1121.3 365.7,1123.9 366.7,1126.3 367.7,1128.4 368.7,1131.5 369.7,1133.9 370.7,1133.3 371.7,1136.6 372.7,1138.4 373.7,1140.8 374.7,1139.5 375.7,1141.8 376.7,1142.2 377.7,1142.6 378.7,1141.5 379.7,1142.7 380.7,1142.4 381.7,1144.3 382.7,1145.4 383.7,1143.4 384.7,1143.2 385.7,1142.6 386.7,1141.0 387.7,1141.8 388.7,1138.9 389.7,1138.1 390.7,1135.4 391.7,1136.9 392.7,1134.2 393.7,1133.6 394.7,1131.7 395.7,1131.3 396.7,1133.6 397.7,1135.7 398.7,1139.3 399.7,1140.1 400.7,1142.9 401.7,1144.5 402.7,1146.3 403.7,1148.8 404.7,1149.9 405.7,1149.8 406.7,1152.6 407.7,1156.8 408.7,1154.7 409.7,1156.8 410.7,1156.7 411.7,1154.1 412.7,1154.7 413.7,1152.6 414.7,1154.4 415.7,1152.4 416.7,1152.5 417.7,1155.5 418.7,1157.5 419.7,1159.4 420.7,1162.3 421.7,1164.0 422.7,1165.5 423.7,1165.8 424.7,1164.4 425.7,1159.2 426.7,1155.7 427.7,1152.5 428.7,1151.3 429.7,1147.6 430.7,1145.1 431.7,1140.2 432.7,1138.6 433.7,1138.9 434.7,1141.4 435.7,1140.5 436.7,1138.7 437.7,1142.0 438.7,1143.0 439.7,1143.5 440.7,1139.8 441.7,1143.1 442.7,1144.1 443.7,1144.3 444.7,1143.8 445.7,1142.6 446.7,1144.3 447.7,1144.1 448.7,1142.1 449.7,1139.2 450.7,1135.4 451.7,1133.6 452.7,1128.8 453.7,1126.3 454.7,1124.0 455.7,1121.7 456.7,1117.9 457.7,1116.5 458.7,1112.8 459.7,1108.5 460.7,1106.6 461.7,1102.8 462.7,1101.4 463.7,1102.2 464.7,1106.3 465.7,1107.1 466.7,1105.9 467.7,1109.8 468.7,1110.9 469.7,1110.9 470.7,1113.0 471.7,1116.0 472.7,1115.3 473.7,1114.1 474.7,1112.4 475.7,1107.9 476.7,1105.2 477.7,1102.7 478.7,1101.9 479.7,1103.3 480.7,1102.1 481.7,1102.1 482.7,1104.2 483.7,1104.1 484.7,1105.6 485.7,1105.4 486.7,1105.8 487.7,1106.4 488.7,1107.0 489.7,1106.5 490.7,1106.9 491.7,1110.1 492.7,1112.1 493.7,1110.6 494.7,1108.4 495.7,1111.0 496.7,1113.1 497.7,1111.3 498.7,1113.4 499.7,1114.5 500.7,1115.0 501.7,1116.0 502.7,1118.9 503.7,1118.4 504.7,1119.6 505.7,1122.5 506.7,1121.0 507.7,1120.9 508.7,1124.4 509.7,1126.8 510.7,1126.0 511.7,1125.5 512.7,1122.8 513.7,1121.9 514.7,1123.2 515.7,1121.8 516.7,1119.9 517.7,1117.5 518.7,1115.8 519.7,1114.8 520.7,1113.5 521.7,1114.1 522.7,1111.5 523.7,1110.6 524.7,1110.4 525.7,1106.7 526.7,1102.4 527.7,1099.2 528.7,1095.1 529.7,1089.5 530.7,1087.7" fill="none" stroke="#ec0a0a" stroke-width="2.6" stroke-linejoin="round"/>
<line x1="104" y1="928.8" x2="536" y2="928.8" stroke="#000" stroke-width="3.3" stroke-dasharray="24.4 13.2"/>
<rect x="238" y="799.6" width="34.6" height="11.1" fill="#0a7cf0"/>
<polyline points="86,972.9 86,1019.2 155.3,1019.2" fill="none" stroke="#000" stroke-width="2.9"/>
<text x="106.2" y="1048.6" font-size="24.5" text-anchor="start" font-weight="normal" fill="#000" textLength="28.5" lengthAdjust="spacingAndGlyphs" >5s</text>
<text x="69.8" y="1011.2" font-size="26" text-anchor="middle" transform="rotate(-90 69.8 1011.2)" textLength="205.5" lengthAdjust="spacingAndGlyphs">1% dF/F (z-score)</text>
<polygon points="1087.0,980.7 1087.9,936.3 1088.8,937.7 1089.7,929.3 1090.6,889.9 1091.5,900.3 1092.4,917.4 1093.3,891.3 1094.2,930.0 1095.1,897.2 1096.0,927.9 1096.9,909.3 1097.8,858.7 1098.7,916.1 1099.6,887.7 1100.5,853.9 1101.4,876.9 1102.3,867.6 1103.2,890.7 1104.1,864.6 1105.0,855.9 1105.9,861.3 1106.8,863.9 1107.7,884.7 1108.6,875.8 1109.5,884.0 1110.4,902.3 1111.3,895.0 1112.2,898.7 1113.1,874.9 1114.0,905.7 1114.9,916.9 1115.8,924.2 1116.7,901.3 1117.6,946.8 1118.5,947.8 1119.4,954.2 1120.3,947.1 1121.2,966.5 1122.1,912.3 1123.0,960.3 1123.9,946.1 1124.8,924.7 1125.7,944.2 1126.6,919.8 1127.5,910.6 1128.4,909.6 1129.3,848.7 1130.2,894.0 1131.1,880.1 1132.0,879.1 1132.9,870.2 1133.8,844.9 1134.7,852.8 1135.6,822.5 1136.5,802.3 1137.4,813.9 1138.3,804.1 1139.2,799.5 1140.1,753.2 1141.0,816.7 1141.9,821.7 1142.8,806.2 1143.7,800.8 1144.6,783.8 1145.5,811.5 1146.4,833.8 1147.3,835.4 1148.2,804.2 1149.1,796.4 1150.0,847.9 1150.9,850.5 1151.8,853.4 1152.7,830.4 1153.6,809.7 1154.5,841.8 1155.4,827.0 1156.3,808.8 1157.2,804.3 1158.1,834.4 1159.0,818.1 1159.9,814.2 1160.8,822.4 1161.7,823.1 1162.6,829.4 1163.5,804.6 1164.4,846.4 1165.3,863.1 1166.2,865.4 1167.1,841.5 1168.0,860.2 1168.9,892.4 1169.8,906.6 1170.7,912.4 1171.6,903.4 1172.5,887.4 1173.4,909.7 1174.3,947.9 1175.2,931.5 1176.1,946.5 1177.0,878.9 1177.9,928.5 1178.8,941.6 1179.7,921.0 1180.6,931.3 1181.5,934.7 1182.4,935.4 1183.3,899.8 1184.2,931.2 1185.1,920.8 1186.0,909.0 1186.9,854.3 1187.8,910.8 1188.7,902.6 1189.6,864.0 1190.5,869.5 1191.4,890.5 1192.3,865.2 1193.2,906.1 1194.1,870.4 1195.0,878.5 1195.9,885.7 1196.8,884.5 1197.7,866.6 1198.6,904.1 1199.5,916.3 1200.4,836.0 1201.3,906.6 1202.2,912.8 1203.1,930.6 1204.0,881.4 1204.9,911.4 1205.8,889.3 1206.7,944.3 1207.6,931.7 1208.5,912.8 1209.4,940.1 1210.3,941.6 1211.2,959.5 1212.1,959.2 1213.0,966.2 1213.9,967.8 1214.8,961.9 1215.7,968.1 1216.6,921.5 1217.5,953.8 1218.4,991.5 1219.3,1002.3 1220.2,970.6 1221.1,1003.5 1222.0,983.3 1222.9,1008.3 1223.8,1020.5 1224.7,1004.5 1225.6,1023.4 1226.5,1002.8 1227.4,1039.3 1228.3,1003.5 1229.2,1006.5 1230.1,1040.8 1231.0,1027.5 1231.9,1007.9 1232.8,1001.8 1233.7,1030.5 1234.6,1021.0 1235.5,1019.1 1236.4,979.1 1237.3,1017.1 1238.2,1013.8 1239.1,992.0 1240.0,1000.0 1240.9,993.2 1241.8,982.8 1242.7,990.8 1243.6,991.7 1244.5,1018.6 1245.4,997.6 1246.3,942.0 1247.2,967.1 1248.1,954.4 1249.0,988.6 1249.9,951.6 1250.8,1009.1 1251.7,978.5 1252.6,1029.9 1253.5,1018.7 1254.4,1025.4 1255.3,1036.0 1256.2,999.9 1257.1,1020.1 1258.0,1048.5 1258.9,1025.3 1259.8,1023.3 1260.7,1056.5 1261.6,1059.0 1262.5,1063.7 1263.4,1053.9 1264.3,1041.7 1265.2,1079.3 1266.1,1068.3 1267.0,1036.9 1267.9,1055.4 1268.8,1051.0 1269.7,1068.6 1270.6,1097.3 1271.5,1103.9 1272.4,1103.5 1273.3,1102.3 1274.2,1094.1 1275.1,1108.4 1276.0,1112.7 1276.9,1109.9 1277.8,1110.6 1278.7,1098.6 1279.6,1085.6 1280.5,1059.8 1281.4,1080.2 1282.3,1067.3 1283.2,1072.9 1284.1,1078.3 1285.0,1058.6 1285.9,1005.5 1286.8,1054.8 1287.7,1055.6 1288.6,1019.8 1289.5,1034.1 1290.4,1018.5 1291.3,977.3 1292.2,1015.3 1293.1,1000.1 1294.0,947.9 1294.9,962.3 1295.8,976.4 1296.7,977.8 1297.6,999.4 1298.5,1016.6 1299.4,1027.7 1300.3,1027.0 1301.2,1018.6 1302.1,972.7 1303.0,1041.1 1303.9,1060.0 1304.8,1052.0 1305.7,1016.5 1306.6,1076.7 1307.5,1064.1 1308.4,1067.1 1309.3,1051.3 1310.2,1100.9 1311.1,1042.0 1312.0,1105.6 1312.9,1085.4 1313.8,1098.1 1314.7,1063.4 1315.6,1104.2 1316.5,1040.0 1317.4,1051.8 1318.3,1073.8 1319.2,1062.4 1320.1,1078.7 1321.0,1034.4 1321.9,1036.3 1322.8,1072.5 1323.7,1034.7 1324.6,1076.5 1325.5,1034.5 1326.4,1074.2 1327.3,1069.5 1328.2,1049.7 1329.1,1088.2 1330.0,1095.0 1330.9,1119.3 1331.8,1100.7 1332.7,1094.8 1333.6,1103.8 1334.5,1039.4 1335.4,1111.2 1336.3,1093.8 1337.2,1108.8 1338.1,1112.2 1339.0,1064.4 1339.9,1072.2 1340.8,1073.4 1341.7,1094.2 1342.6,1085.9 1343.5,1072.0 1344.4,1038.0 1345.3,1008.5 1346.2,1064.6 1347.1,1034.4 1348.0,1060.3 1348.9,1064.6 1349.8,1060.2 1350.7,1015.9 1351.6,1056.2 1352.5,1037.9 1353.4,1020.0 1354.3,1028.7 1355.2,1008.1 1356.1,1030.1 1357.0,1037.7 1357.9,974.0 1358.8,1019.9 1359.7,976.7 1360.6,1022.7 1361.5,997.1 1362.4,1020.0 1363.3,1001.6 1364.2,946.5 1365.1,1001.2 1366.0,959.9 1366.9,989.9 1367.8,1000.7 1368.7,931.4 1369.6,995.9 1370.5,948.4 1371.4,923.1 1372.3,947.9 1373.2,962.5 1374.1,962.2 1375.0,979.4 1375.9,979.3 1376.8,960.7 1377.7,966.8 1378.6,967.8 1379.5,944.1 1380.4,890.2 1381.3,937.2 1382.2,950.4 1383.1,936.8 1384.0,925.1 1384.9,940.3 1385.8,938.2 1386.7,948.4 1387.6,964.4 1388.5,979.7 1389.4,1000.9 1390.3,940.6 1391.2,1010.6 1392.1,1021.0 1393.0,1015.4 1393.9,978.3 1394.8,1021.5 1395.7,984.6 1396.6,993.3 1397.5,1037.2 1398.4,1015.9 1399.3,1044.9 1400.2,1046.7 1401.1,1030.1 1402.0,1051.2 1402.9,1050.5 1403.8,1049.4 1404.7,1008.0 1405.6,1066.8 1406.5,1104.9 1407.4,1079.9 1408.3,1125.8 1409.2,1102.7 1410.1,1053.3 1411.0,999.8 1411.9,1037.9 1412.8,1077.0 1413.7,1013.1 1414.6,975.9 1415.5,1047.2 1416.4,1018.7 1417.3,1016.2 1418.2,1039.9 1419.1,1039.7 1420.0,1007.1 1420.9,1031.2 1421.8,1009.4 1422.7,1003.1 1423.6,1019.4 1424.5,1004.9 1425.4,1006.5 1426.3,988.4 1427.2,1027.2 1428.1,1033.8 1429.0,1026.6 1429.9,986.9 1430.8,1023.1 1431.7,1032.3 1432.6,1038.8 1433.5,995.0 1434.4,1027.8 1435.3,1034.3 1436.2,1029.9 1437.1,1039.1 1438.0,1029.8 1438.9,987.1 1439.8,1039.4 1440.7,1018.0 1441.6,1014.0 1442.5,1015.6 1443.4,1046.4 1444.3,990.5 1445.2,1050.2 1446.1,1042.5 1447.0,1049.6 1447.9,1021.0 1448.8,1022.7 1449.7,976.7 1450.6,1038.3 1451.5,1039.4 1452.4,1012.9 1453.3,1039.6 1454.2,1029.1 1455.1,1041.2 1456.0,1007.1 1456.9,1009.7 1457.8,1014.7 1458.7,1040.6 1459.6,1006.5 1460.5,1036.9 1461.4,991.8 1462.3,1019.9 1463.2,1034.9 1464.1,1044.6 1465.0,1036.8 1465.9,1031.7 1466.8,1023.9 1467.7,1039.0 1468.6,1024.6 1469.5,1016.1 1470.4,1002.0 1471.3,1010.4 1472.2,1017.7 1473.1,1019.7 1474.0,1023.0 1474.9,1007.5 1475.8,1005.4 1476.7,1013.8 1477.6,1023.8 1478.5,997.7 1479.4,1025.1 1480.3,1019.9 1481.2,1021.6 1482.1,977.6 1483.0,1045.0 1483.9,1016.9 1484.8,1034.3 1485.7,1058.0 1486.6,1065.0 1487.5,1038.6 1488.4,1008.0 1489.3,1070.1 1490.2,1070.6 1491.1,1062.2 1492.0,1091.6 1492.9,1107.5 1493.8,1124.3 1494.7,1138.2 1495.6,1150.1 1496.5,1154.2 1497.4,1134.9 1498.3,1173.8 1499.2,1160.8 1500.1,1134.3 1501.0,1158.6 1501.9,1147.0 1502.8,1133.5 1503.7,1103.7 1504.6,1099.7 1505.5,1097.9 1506.4,1071.9 1507.3,1110.2 1508.2,1085.2 1509.1,1101.9 1510.0,1093.5 1510.9,1068.1 1511.8,1099.8 1512.7,1093.1 1513.6,1078.0 1514.5,1073.4 1515.4,1075.8 1516.3,1001.2 1516.3,1117.4 1515.4,1116.3 1514.5,1121.0 1513.6,1171.2 1512.7,1138.2 1511.8,1155.7 1510.9,1165.1 1510.0,1173.2 1509.1,1148.9 1508.2,1165.7 1507.3,1152.8 1506.4,1159.4 1505.5,1146.7 1504.6,1190.4 1503.7,1160.8 1502.8,1198.0 1501.9,1196.7 1501.0,1225.6 1500.1,1220.9 1499.2,1208.3 1498.3,1245.7 1497.4,1203.5 1496.5,1250.9 1495.6,1257.1 1494.7,1245.3 1493.8,1201.1 1492.9,1207.6 1492.0,1158.9 1491.1,1215.1 1490.2,1148.0 1489.3,1160.1 1488.4,1149.7 1487.5,1145.2 1486.6,1133.6 1485.7,1102.2 1484.8,1100.2 1483.9,1122.0 1483.0,1097.8 1482.1,1139.5 1481.2,1080.6 1480.3,1084.1 1479.4,1122.5 1478.5,1111.8 1477.6,1079.6 1476.7,1120.1 1475.8,1065.7 1474.9,1120.7 1474.0,1089.4 1473.1,1110.6 1472.2,1089.8 1471.3,1089.8 1470.4,1074.0 1469.5,1116.0 1468.6,1087.7 1467.7,1077.1 1466.8,1079.5 1465.9,1101.0 1465.0,1073.4 1464.1,1117.2 1463.2,1122.3 1462.3,1075.9 1461.4,1087.6 1460.5,1122.2 1459.6,1087.4 1458.7,1082.3 1457.8,1098.9 1456.9,1095.7 1456.0,1085.3 1455.1,1086.0 1454.2,1090.0 1453.3,1160.0 1452.4,1078.7 1451.5,1142.8 1450.6,1090.6 1449.7,1132.0 1448.8,1092.9 1447.9,1095.6 1447.0,1106.2 1446.1,1082.4 1445.2,1082.3 1444.3,1114.1 1443.4,1099.7 1442.5,1106.5 1441.6,1091.9 1440.7,1092.4 1439.8,1155.6 1438.9,1127.1 1438.0,1082.9 1437.1,1097.9 1436.2,1091.8 1435.3,1124.1 1434.4,1086.1 1433.5,1115.5 1432.6,1071.9 1431.7,1128.0 1430.8,1125.5 1429.9,1139.5 1429.0,1068.8 1428.1,1065.2 1427.2,1115.9 1426.3,1063.0 1425.4,1058.0 1424.5,1069.8 1423.6,1068.8 1422.7,1089.7 1421.8,1069.5 1420.9,1067.4 1420.0,1085.5 1419.1,1087.9 1418.2,1087.1 1417.3,1092.7 1416.4,1106.6 1415.5,1089.1 1414.6,1168.6 1413.7,1108.9 1412.8,1129.8 1411.9,1120.8 1411.0,1141.8 1410.1,1198.4 1409.2,1164.5 1408.3,1172.3 1407.4,1170.1 1406.5,1166.5 1405.6,1124.5 1404.7,1138.3 1403.8,1118.9 1402.9,1134.8 1402.0,1095.3 1401.1,1147.3 1400.2,1074.4 1399.3,1101.6 1398.4,1082.3 1397.5,1081.4 1396.6,1064.3 1395.7,1080.4 1394.8,1074.3 1393.9,1074.6 1393.0,1086.1 1392.1,1071.7 1391.2,1068.9 1390.3,1047.3 1389.4,1041.6 1388.5,1024.0 1387.6,1078.4 1386.7,1017.4 1385.8,1001.4 1384.9,1046.8 1384.0,1022.2 1383.1,1059.9 1382.2,1030.7 1381.3,997.8 1380.4,1004.4 1379.5,1024.5 1378.6,1006.3 1377.7,1028.6 1376.8,1018.6 1375.9,1034.2 1375.0,1039.4 1374.1,1043.2 1373.2,1036.5 1372.3,1044.9 1371.4,1040.7 1370.5,1049.2 1369.6,1032.1 1368.7,1029.4 1367.8,1057.2 1366.9,1055.5 1366.0,1056.8 1365.1,1046.4 1364.2,1048.7 1363.3,1101.4 1362.4,1071.7 1361.5,1078.9 1360.6,1107.9 1359.7,1056.5 1358.8,1063.3 1357.9,1082.7 1357.0,1095.3 1356.1,1111.2 1355.2,1095.9 1354.3,1101.9 1353.4,1083.8 1352.5,1130.6 1351.6,1097.1 1350.7,1147.7 1349.8,1115.0 1348.9,1129.8 1348.0,1120.5 1347.1,1099.1 1346.2,1105.2 1345.3,1158.3 1344.4,1149.0 1343.5,1120.3 1342.6,1122.8 1341.7,1176.3 1340.8,1130.1 1339.9,1178.9 1339.0,1191.6 1338.1,1165.2 1337.2,1182.7 1336.3,1166.7 1335.4,1152.8 1334.5,1235.8 1333.6,1162.8 1332.7,1173.2 1331.8,1171.9 1330.9,1171.7 1330.0,1200.3 1329.1,1170.3 1328.2,1157.1 1327.3,1136.8 1326.4,1179.4 1325.5,1146.4 1324.6,1146.3 1323.7,1122.7 1322.8,1172.0 1321.9,1102.6 1321.0,1137.0 1320.1,1165.4 1319.2,1135.9 1318.3,1208.0 1317.4,1135.1 1316.5,1168.3 1315.6,1151.5 1314.7,1168.0 1313.8,1166.5 1312.9,1151.7 1312.0,1159.8 1311.1,1132.8 1310.2,1139.9 1309.3,1132.6 1308.4,1151.4 1307.5,1189.3 1306.6,1109.7 1305.7,1111.8 1304.8,1124.3 1303.9,1091.8 1303.0,1101.6 1302.1,1077.3 1301.2,1069.8 1300.3,1142.9 1299.4,1098.6 1298.5,1067.1 1297.6,1075.1 1296.7,1047.0 1295.8,1040.7 1294.9,1041.8 1294.0,1063.1 1293.1,1112.2 1292.2,1087.2 1291.3,1094.6 1290.4,1077.1 1289.5,1115.8 1288.6,1084.8 1287.7,1099.2 1286.8,1133.3 1285.9,1146.9 1285.0,1116.4 1284.1,1109.9 1283.2,1120.6 1282.3,1158.3 1281.4,1144.6 1280.5,1140.3 1279.6,1172.3 1278.7,1175.0 1277.8,1158.8 1276.9,1144.1 1276.0,1143.6 1275.1,1164.5 1274.2,1148.9 1273.3,1147.7 1272.4,1154.8 1271.5,1164.9 1270.6,1143.3 1269.7,1151.0 1268.8,1193.0 1267.9,1140.0 1267.0,1130.5 1266.1,1122.5 1265.2,1113.6 1264.3,1125.4 1263.4,1155.7 1262.5,1108.2 1261.6,1153.5 1260.7,1122.3 1259.8,1118.9 1258.9,1124.9 1258.0,1127.5 1257.1,1089.7 1256.2,1096.3 1255.3,1113.5 1254.4,1105.7 1253.5,1075.2 1252.6,1057.4 1251.7,1058.6 1250.8,1084.4 1249.9,1079.5 1249.0,1083.4 1248.1,1081.2 1247.2,1070.0 1246.3,1054.1 1245.4,1069.9 1244.5,1101.7 1243.6,1112.4 1242.7,1052.7 1241.8,1090.1 1240.9,1086.4 1240.0,1083.6 1239.1,1057.6 1238.2,1079.2 1237.3,1109.8 1236.4,1061.0 1235.5,1144.2 1234.6,1138.8 1233.7,1089.4 1232.8,1062.3 1231.9,1064.0 1231.0,1069.3 1230.1,1079.5 1229.2,1082.3 1228.3,1088.6 1227.4,1134.6 1226.5,1076.1 1225.6,1147.3 1224.7,1098.8 1223.8,1069.7 1222.9,1063.2 1222.0,1073.3 1221.1,1095.9 1220.2,1046.7 1219.3,1040.9 1218.4,1091.6 1217.5,1026.0 1216.6,1048.9 1215.7,1059.8 1214.8,1017.4 1213.9,1016.5 1213.0,1003.0 1212.1,1028.0 1211.2,1016.6 1210.3,1038.5 1209.4,1051.8 1208.5,995.2 1207.6,1009.2 1206.7,984.7 1205.8,977.5 1204.9,998.7 1204.0,964.9 1203.1,978.6 1202.2,970.4 1201.3,981.7 1200.4,975.5 1199.5,958.5 1198.6,969.6 1197.7,981.6 1196.8,953.9 1195.9,990.3 1195.0,966.5 1194.1,946.9 1193.2,981.8 1192.3,953.0 1191.4,944.4 1190.5,987.8 1189.6,956.8 1188.7,949.3 1187.8,964.3 1186.9,987.4 1186.0,1006.9 1185.1,959.1 1184.2,976.8 1183.3,1000.3 1182.4,965.6 1181.5,966.4 1180.6,1002.1 1179.7,975.9 1178.8,980.6 1177.9,983.3 1177.0,979.0 1176.1,1024.3 1175.2,996.9 1174.3,1025.5 1173.4,985.3 1172.5,961.9 1171.6,993.0 1170.7,958.0 1169.8,964.8 1168.9,950.8 1168.0,924.2 1167.1,947.5 1166.2,911.6 1165.3,922.5 1164.4,938.5 1163.5,913.9 1162.6,892.5 1161.7,925.1 1160.8,882.7 1159.9,912.1 1159.0,942.8 1158.1,883.6 1157.2,869.4 1156.3,940.7 1155.4,878.9 1154.5,902.6 1153.6,885.8 1152.7,879.6 1151.8,931.4 1150.9,885.3 1150.0,900.0 1149.1,938.8 1148.2,977.7 1147.3,926.4 1146.4,917.6 1145.5,871.9 1144.6,940.1 1143.7,882.3 1142.8,879.5 1141.9,912.2 1141.0,899.2 1140.1,879.4 1139.2,862.9 1138.3,876.0 1137.4,876.7 1136.5,915.4 1135.6,939.8 1134.7,931.7 1133.8,911.0 1132.9,953.9 1132.0,922.9 1131.1,950.1 1130.2,959.0 1129.3,958.4 1128.4,979.0 1127.5,1007.3 1126.6,968.7 1125.7,1045.6 1124.8,1012.2 1123.9,1052.2 1123.0,1007.8 1122.1,1004.4 1121.2,1029.3 1120.3,994.4 1119.4,1030.9 1118.5,988.6 1117.6,986.5 1116.7,985.0 1115.8,981.1 1114.9,965.9 1114.0,1019.0 1113.1,960.6 1112.2,966.5 1111.3,954.4 1110.4,948.7 1109.5,942.0 1108.6,931.3 1107.7,959.4 1106.8,925.3 1105.9,905.4 1105.0,917.7 1104.1,914.5 1103.2,964.4 1102.3,930.4 1101.4,957.8 1100.5,1000.7 1099.6,948.2 1098.7,946.2 1097.8,977.0 1096.9,995.5 1096.0,961.3 1095.1,991.0 1094.2,979.3 1093.3,970.2 1092.4,982.6 1091.5,1021.4 1090.6,987.9 1089.7,978.8 1088.8,1007.4 1087.9,1005.4 1087.0,1023.6" fill="#c4c4c4"/>
<polyline points="1087.0,998.6 1087.6,995.3 1088.1,992.5 1088.7,982.1 1089.2,973.6 1089.8,966.5 1090.3,959.7 1090.9,954.7 1091.4,953.5 1092.0,948.9 1092.5,953.3 1093.1,955.8 1093.6,957.9 1094.2,955.8 1094.7,953.1 1095.3,954.4 1095.8,955.8 1096.4,956.1 1096.9,950.3 1097.5,948.5 1098.0,936.3 1098.6,927.0 1099.1,921.1 1099.7,918.3 1100.2,913.9 1100.8,911.4 1101.3,905.5 1101.9,903.8 1102.4,901.3 1103.0,901.5 1103.5,904.9 1104.1,903.0 1104.6,890.1 1105.2,874.4 1105.7,868.6 1106.3,867.8 1106.8,875.6 1107.4,887.5 1107.9,900.3 1108.5,910.8 1109.0,920.6 1109.6,926.3 1110.1,928.3 1110.7,935.0 1111.2,944.4 1111.8,950.6 1112.3,946.2 1112.9,939.8 1113.4,940.5 1114.0,941.8 1114.5,943.2 1115.1,946.6 1115.6,949.8 1116.2,948.8 1116.7,948.9 1117.3,950.7 1117.8,956.9 1118.4,964.5 1118.9,972.8 1119.5,985.6 1120.0,992.0 1120.6,999.1 1121.1,999.9 1121.7,999.2 1122.2,997.8 1122.8,996.4 1123.3,986.6 1123.9,978.8 1124.4,971.8 1125.0,965.6 1125.5,961.8 1126.1,958.2 1126.6,943.8 1127.2,930.5 1127.7,931.2 1128.3,934.8 1128.8,934.5 1129.4,933.1 1129.9,928.1 1130.5,918.6 1131.0,911.2 1131.6,908.1 1132.1,901.1 1132.7,895.7 1133.2,885.3 1133.8,870.8 1134.3,878.1 1134.9,885.9 1135.4,886.0 1136.0,881.6 1136.5,874.0 1137.1,854.8 1137.6,838.5 1138.2,836.6 1138.7,842.7 1139.3,842.7 1139.8,844.0 1140.4,844.0 1140.9,845.1 1141.5,844.2 1142.0,842.4 1142.6,836.6 1143.1,833.2 1143.7,838.3 1144.2,846.5 1144.8,853.2 1145.3,865.1 1145.9,867.5 1146.4,865.4 1147.0,864.1 1147.5,863.6 1148.1,865.1 1148.6,868.9 1149.2,868.9 1149.7,868.0 1150.3,869.4 1150.8,867.8 1151.4,864.4 1151.9,856.3 1152.5,863.3 1153.0,869.9 1153.6,869.8 1154.1,860.6 1154.7,853.5 1155.2,857.3 1155.8,863.9 1156.3,864.4 1156.9,866.0 1157.4,865.6 1158.0,866.5 1158.5,866.2 1159.1,859.4 1159.6,854.6 1160.2,850.1 1160.7,854.4 1161.3,859.3 1161.8,864.4 1162.4,870.3 1162.9,875.1 1163.5,878.7 1164.0,885.2 1164.6,891.9 1165.1,899.1 1165.7,899.7 1166.2,899.1 1166.8,906.9 1167.3,923.7 1167.9,933.7 1168.4,939.4 1169.0,948.3 1169.5,936.5 1170.1,926.6 1170.6,929.4 1171.2,938.4 1171.7,943.7 1172.3,941.9 1172.8,938.5 1173.4,952.0 1173.9,963.9 1174.5,970.5 1175.0,973.1 1175.6,973.0 1176.1,970.9 1176.7,963.4 1177.2,958.6 1177.8,954.6 1178.3,953.4 1178.9,955.8 1179.4,960.8 1180.0,966.0 1180.5,973.9 1181.1,973.4 1181.6,969.6 1182.2,963.8 1182.7,957.3 1183.3,950.8 1183.8,945.5 1184.4,938.2 1184.9,939.7 1185.5,940.2 1186.0,940.2 1186.6,934.4 1187.1,929.8 1187.7,922.0 1188.2,920.7 1188.8,921.8 1189.3,920.5 1189.9,921.3 1190.4,927.6 1191.0,932.1 1191.5,930.4 1192.1,926.5 1192.6,925.4 1193.2,924.4 1193.7,920.2 1194.3,914.5 1194.8,909.6 1195.4,910.3 1195.9,909.8 1196.5,914.4 1197.0,927.3 1197.6,938.0 1198.1,934.6 1198.7,930.8 1199.2,934.5 1199.8,942.5 1200.3,946.4 1200.9,938.3 1201.4,932.3 1202.0,941.7 1202.5,951.3 1203.1,953.7 1203.6,955.0 1204.2,953.5 1204.7,951.7 1205.3,949.8 1205.8,952.7 1206.4,956.0 1206.9,961.1 1207.5,977.7 1208.0,984.7 1208.6,982.8 1209.1,981.5 1209.7,977.0 1210.2,976.0 1210.8,976.6 1211.3,981.7 1211.9,983.6 1212.4,980.5 1213.0,976.3 1213.5,986.1 1214.1,1001.7 1214.6,1012.3 1215.2,1012.6 1215.7,1015.0 1216.3,1011.0 1216.8,1006.9 1217.4,1008.5 1217.9,1014.9 1218.5,1014.7 1219.0,1003.7 1219.6,991.4 1220.1,1008.0 1220.7,1026.1 1221.2,1035.8 1221.8,1037.4 1222.3,1037.4 1222.9,1039.1 1223.4,1041.9 1224.0,1047.3 1224.5,1052.0 1225.1,1052.3 1225.6,1056.2 1226.2,1054.2 1226.7,1050.5 1227.3,1049.0 1227.8,1052.4 1228.4,1049.1 1228.9,1053.2 1229.5,1052.9 1230.0,1054.1 1230.6,1055.3 1231.1,1059.4 1231.7,1056.7 1232.2,1053.9 1232.8,1047.0 1233.3,1043.8 1233.9,1038.5 1234.4,1039.8 1235.0,1045.3 1235.5,1042.7 1236.1,1035.4 1236.6,1029.5 1237.2,1043.4 1237.7,1057.3 1238.3,1052.5 1238.8,1044.0 1239.4,1038.6 1239.9,1029.6 1240.5,1025.5 1241.0,1028.2 1241.6,1034.2 1242.1,1035.8 1242.7,1038.2 1243.2,1041.6 1243.8,1039.3 1244.3,1037.3 1244.9,1044.6 1245.4,1051.3 1246.0,1046.1 1246.5,1032.0 1247.1,1026.8 1247.6,1038.0 1248.2,1053.7 1248.7,1048.4 1249.3,1040.3 1249.8,1043.0 1250.4,1044.3 1250.9,1051.1 1251.5,1053.0 1252.0,1059.4 1252.6,1050.0 1253.1,1038.5 1253.7,1030.4 1254.2,1031.5 1254.8,1035.5 1255.3,1041.9 1255.9,1048.2 1256.4,1047.9 1257.0,1044.6 1257.5,1045.2 1258.1,1044.8 1258.6,1047.0 1259.2,1055.9 1259.7,1067.4 1260.3,1079.0 1260.8,1084.0 1261.4,1088.7 1261.9,1084.9 1262.5,1080.9 1263.0,1086.4 1263.6,1093.1 1264.1,1106.0 1264.7,1120.7 1265.2,1132.4 1265.8,1120.0 1266.3,1108.6 1266.9,1108.3 1267.4,1106.1 1268.0,1105.4 1268.5,1111.4 1269.1,1115.0 1269.6,1122.0 1270.2,1125.0 1270.7,1125.5 1271.3,1126.5 1271.8,1130.5 1272.4,1135.2 1272.9,1143.8 1273.5,1140.0 1274.0,1136.7 1274.6,1135.0 1275.1,1137.5 1275.7,1136.5 1276.2,1132.7 1276.8,1127.4 1277.3,1126.6 1277.9,1122.6 1278.4,1119.1 1279.0,1112.1 1279.5,1108.7 1280.1,1108.8 1280.6,1102.1 1281.2,1100.6 1281.7,1103.2 1282.3,1101.6 1282.8,1097.2 1283.4,1093.5 1283.9,1092.5 1284.5,1093.0 1285.0,1086.8 1285.6,1083.0 1286.1,1078.5 1286.7,1071.7 1287.2,1069.8 1287.8,1075.2 1288.3,1082.6 1288.9,1077.3 1289.4,1066.6 1290.0,1055.6 1290.5,1057.8 1291.1,1059.6 1291.6,1045.7 1292.2,1032.9 1292.7,1027.9 1293.3,1034.5 1293.8,1036.5 1294.4,1033.8 1294.9,1031.2 1295.5,1027.0 1296.0,1024.9 1296.6,1023.3 1297.1,1023.8 1297.7,1024.1 1298.2,1037.2 1298.8,1049.9 1299.3,1051.4 1299.9,1046.6 1300.4,1043.9 1301.0,1043.1 1301.5,1042.6 1302.1,1049.4 1302.6,1050.7 1303.2,1061.3 1303.7,1072.4 1304.3,1078.7 1304.8,1080.9 1305.4,1083.6 1305.9,1093.0 1306.5,1100.6 1307.0,1106.9 1307.6,1108.4 1308.1,1111.0 1308.7,1118.1 1309.2,1123.2 1309.8,1121.3 1310.3,1122.1 1310.9,1121.3 1311.4,1123.0 1312.0,1123.9 1312.5,1128.3 1313.1,1130.2 1313.6,1130.4 1314.2,1129.3 1314.7,1125.4 1315.3,1122.9 1315.8,1117.7 1316.4,1114.6 1316.9,1110.8 1317.5,1111.1 1318.0,1110.7 1318.6,1108.3 1319.1,1102.0 1319.7,1092.5 1320.2,1090.8 1320.8,1090.6 1321.3,1091.4 1321.9,1093.0 1322.4,1100.0 1323.0,1087.5 1323.5,1073.9 1324.1,1082.1 1324.6,1090.1 1325.2,1097.1 1325.7,1099.1 1326.3,1102.9 1326.8,1110.2 1327.4,1117.8 1327.9,1117.6 1328.5,1111.0 1329.0,1113.4 1329.6,1120.5 1330.1,1126.9 1330.7,1141.3 1331.2,1158.1 1331.8,1156.0 1332.3,1141.7 1332.9,1136.1 1333.4,1142.8 1334.0,1144.3 1334.5,1144.0 1335.1,1142.9 1335.6,1140.4 1336.2,1136.0 1336.7,1131.4 1337.3,1124.1 1337.8,1117.8 1338.4,1122.0 1338.9,1129.2 1339.5,1125.9 1340.0,1111.9 1340.6,1098.5 1341.1,1097.6 1341.7,1098.0 1342.2,1101.3 1342.8,1100.8 1343.3,1098.3 1343.9,1096.4 1344.4,1092.4 1345.0,1094.7 1345.5,1099.8 1346.1,1096.0 1346.6,1086.8 1347.2,1082.7 1347.7,1088.3 1348.3,1096.5 1348.8,1087.8 1349.4,1079.5 1349.9,1076.5 1350.5,1082.5 1351.0,1085.9 1351.6,1078.5 1352.1,1072.2 1352.7,1066.2 1353.2,1062.2 1353.8,1061.2 1354.3,1058.4 1354.9,1055.8 1355.4,1059.3 1356.0,1063.4 1356.5,1059.7 1357.1,1048.2 1357.6,1045.4 1358.2,1044.3 1358.7,1047.6 1359.3,1039.8 1359.8,1037.3 1360.4,1029.9 1360.9,1023.2 1361.5,1022.3 1362.0,1030.0 1362.6,1040.0 1363.1,1039.5 1363.7,1036.7 1364.2,1032.0 1364.8,1023.6 1365.3,1016.2 1365.9,1021.5 1366.4,1026.1 1367.0,1025.5 1367.5,1018.5 1368.1,1014.2 1368.6,1003.6 1369.2,996.3 1369.7,996.4 1370.3,1000.2 1370.8,1003.4 1371.4,1009.4 1371.9,1013.7 1372.5,1012.6 1373.0,1012.2 1373.6,1008.4 1374.1,1001.6 1374.7,1006.6 1375.2,1014.3 1375.8,1018.8 1376.3,1004.8 1376.9,994.9 1377.4,988.3 1378.0,977.6 1378.5,974.8 1379.1,969.8 1379.6,971.9 1380.2,981.8 1380.7,995.4 1381.3,990.0 1381.8,979.9 1382.4,974.4 1382.9,976.9 1383.5,974.8 1384.0,973.3 1384.6,972.0 1385.1,969.5 1385.7,968.7 1386.2,974.6 1386.8,983.9 1387.3,990.4 1387.9,998.9 1388.4,1009.4 1389.0,1016.8 1389.5,1022.0 1390.1,1029.3 1390.6,1035.4 1391.2,1040.3 1391.7,1046.4 1392.3,1049.4 1392.8,1047.7 1393.4,1040.6 1393.9,1038.8 1394.5,1038.9 1395.0,1036.4 1395.6,1042.4 1396.1,1045.5 1396.7,1046.4 1397.2,1039.8 1397.8,1035.4 1398.3,1047.3 1398.9,1063.1 1399.4,1064.4 1400.0,1062.8 1400.5,1065.0 1401.1,1071.0 1401.6,1075.1 1402.2,1076.0 1402.7,1073.0 1403.3,1080.0 1403.8,1084.1 1404.4,1096.9 1404.9,1100.5 1405.5,1110.5 1406.0,1111.3 1406.6,1114.2 1407.1,1117.3 1407.7,1122.6 1408.2,1129.5 1408.8,1128.4 1409.3,1125.6 1409.9,1123.9 1410.4,1117.1 1411.0,1111.8 1411.5,1102.8 1412.1,1097.0 1412.6,1099.5 1413.2,1100.1 1413.7,1100.3 1414.3,1099.5 1414.8,1096.9 1415.4,1085.2 1415.9,1072.4 1416.5,1067.7 1417.0,1062.3 1417.6,1059.2 1418.1,1057.2 1418.7,1054.3 1419.2,1062.3 1419.8,1070.0 1420.3,1062.0 1420.9,1056.8 1421.4,1053.2 1422.0,1050.2 1422.5,1049.2 1423.1,1047.8 1423.6,1043.2 1424.2,1041.6 1424.7,1038.6 1425.3,1043.4 1425.8,1053.5 1426.4,1062.0 1426.9,1055.2 1427.5,1046.9 1428.0,1049.7 1428.6,1051.0 1429.1,1049.0 1429.7,1042.4 1430.2,1031.9 1430.8,1051.4 1431.3,1071.1 1431.9,1076.1 1432.4,1068.9 1433.0,1065.2 1433.5,1059.4 1434.1,1058.1 1434.6,1059.0 1435.2,1056.2 1435.7,1053.3 1436.3,1053.6 1436.8,1053.1 1437.4,1048.9 1437.9,1045.2 1438.5,1051.0 1439.0,1062.2 1439.6,1064.9 1440.1,1058.3 1440.7,1053.8 1441.2,1059.8 1441.8,1066.3 1442.3,1068.4 1442.9,1069.6 1443.4,1069.9 1444.0,1077.8 1444.5,1084.7 1445.1,1078.1 1445.6,1071.7 1446.2,1068.2 1446.7,1070.6 1447.3,1072.4 1447.8,1071.7 1448.4,1074.0 1448.9,1069.4 1449.5,1064.4 1450.0,1062.1 1450.6,1063.8 1451.1,1067.1 1451.7,1067.1 1452.2,1068.3 1452.8,1071.6 1453.3,1076.1 1453.9,1075.4 1454.4,1074.9 1455.0,1072.4 1455.5,1067.2 1456.1,1064.0 1456.6,1064.1 1457.2,1070.8 1457.7,1072.4 1458.3,1065.8 1458.8,1056.9 1459.4,1052.5 1459.9,1049.2 1460.5,1053.7 1461.0,1067.8 1461.6,1074.1 1462.1,1066.8 1462.7,1061.3 1463.2,1059.4 1463.8,1055.7 1464.3,1051.5 1464.9,1048.6 1465.4,1046.7 1466.0,1049.8 1466.5,1052.2 1467.1,1061.5 1467.6,1068.5 1468.2,1071.9 1468.7,1062.1 1469.3,1056.1 1469.8,1067.7 1470.4,1076.7 1470.9,1071.2 1471.5,1061.4 1472.0,1057.3 1472.6,1062.0 1473.1,1066.7 1473.7,1062.5 1474.2,1055.7 1474.8,1053.3 1475.3,1051.0 1475.9,1047.9 1476.4,1051.9 1477.0,1053.8 1477.5,1054.0 1478.1,1054.2 1478.6,1054.6 1479.2,1053.6 1479.7,1048.6 1480.3,1049.8 1480.8,1052.4 1481.4,1060.3 1481.9,1068.7 1482.5,1075.6 1483.0,1077.2 1483.6,1083.3 1484.1,1079.6 1484.7,1076.3 1485.2,1077.8 1485.8,1078.2 1486.3,1076.5 1486.9,1074.7 1487.4,1075.2 1488.0,1091.9 1488.5,1105.6 1489.1,1116.6 1489.6,1121.8 1490.2,1127.0 1490.7,1124.0 1491.3,1121.8 1491.8,1132.3 1492.4,1146.0 1492.9,1152.1 1493.5,1157.0 1494.0,1162.0 1494.6,1164.9 1495.1,1163.8 1495.7,1176.2 1496.2,1192.1 1496.8,1202.1 1497.3,1203.3 1497.9,1205.8 1498.4,1204.1 1499.0,1195.7 1499.5,1193.0 1500.1,1192.7 1500.6,1188.8 1501.2,1174.1 1501.7,1161.9 1502.3,1160.3 1502.8,1157.5 1503.4,1159.0 1503.9,1157.2 1504.5,1152.3 1505.0,1142.5 1505.6,1130.1 1506.1,1128.7 1506.7,1129.2 1507.2,1126.2 1507.8,1120.2 1508.3,1114.4 1508.9,1121.7 1509.4,1127.4 1510.0,1130.1 1510.5,1130.1 1511.1,1126.8 1511.6,1114.6 1512.2,1106.0 1512.7,1107.2 1513.3,1107.5 1513.8,1104.0 1514.4,1098.1 1514.9,1096.2 1515.5,1096.2 1516.0,1097.6 1516.6,1081.1 1517.1,1067.2" fill="none" stroke="#4a4a4a" stroke-width="4.6" stroke-linejoin="miter" stroke-miterlimit="3"/>
<polygon points="1087.0,875.3 1087.9,883.6 1088.8,902.1 1089.7,904.1 1090.6,894.9 1091.5,923.5 1092.4,932.9 1093.3,907.2 1094.2,879.8 1095.1,844.9 1096.0,886.6 1096.9,911.4 1097.8,913.8 1098.7,878.5 1099.6,902.3 1100.5,889.5 1101.4,885.3 1102.3,903.4 1103.2,908.3 1104.1,901.0 1105.0,923.5 1105.9,942.4 1106.8,919.5 1107.7,917.1 1108.6,901.2 1109.5,925.5 1110.4,901.5 1111.3,886.7 1112.2,913.0 1113.1,905.1 1114.0,900.7 1114.9,904.7 1115.8,906.2 1116.7,896.6 1117.6,908.8 1118.5,875.8 1119.4,874.6 1120.3,879.4 1121.2,852.1 1122.1,873.8 1123.0,843.1 1123.9,820.4 1124.8,868.4 1125.7,845.4 1126.6,861.2 1127.5,841.9 1128.4,867.3 1129.3,846.8 1130.2,888.2 1131.1,882.0 1132.0,873.3 1132.9,847.7 1133.8,855.0 1134.7,891.0 1135.6,894.8 1136.5,878.6 1137.4,853.3 1138.3,843.6 1139.2,849.3 1140.1,865.7 1141.0,834.5 1141.9,874.7 1142.8,849.0 1143.7,798.6 1144.6,870.4 1145.5,844.5 1146.4,823.9 1147.3,842.2 1148.2,795.3 1149.1,830.9 1150.0,805.3 1150.9,792.8 1151.8,844.0 1152.7,797.8 1153.6,774.8 1154.5,843.4 1155.4,825.1 1156.3,854.8 1157.2,845.1 1158.1,881.1 1159.0,858.8 1159.9,826.9 1160.8,879.5 1161.7,873.8 1162.6,887.2 1163.5,882.8 1164.4,874.8 1165.3,851.6 1166.2,858.2 1167.1,844.6 1168.0,853.9 1168.9,851.8 1169.8,864.4 1170.7,817.0 1171.6,829.2 1172.5,865.1 1173.4,853.0 1174.3,855.7 1175.2,857.7 1176.1,870.4 1177.0,849.5 1177.9,854.6 1178.8,830.7 1179.7,830.4 1180.6,819.8 1181.5,814.5 1182.4,812.3 1183.3,805.9 1184.2,786.8 1185.1,809.3 1186.0,801.6 1186.9,782.1 1187.8,795.8 1188.7,806.2 1189.6,781.0 1190.5,826.5 1191.4,821.5 1192.3,795.9 1193.2,836.8 1194.1,796.5 1195.0,827.0 1195.9,803.2 1196.8,819.3 1197.7,842.5 1198.6,810.6 1199.5,850.6 1200.4,819.2 1201.3,822.1 1202.2,869.5 1203.1,873.4 1204.0,817.5 1204.9,892.7 1205.8,882.7 1206.7,891.8 1207.6,903.6 1208.5,899.0 1209.4,905.8 1210.3,919.8 1211.2,928.3 1212.1,928.3 1213.0,892.9 1213.9,904.5 1214.8,866.3 1215.7,922.4 1216.6,891.0 1217.5,869.1 1218.4,941.6 1219.3,928.0 1220.2,920.3 1221.1,939.5 1222.0,921.0 1222.9,955.3 1223.8,913.9 1224.7,946.4 1225.6,904.6 1226.5,963.5 1227.4,969.1 1228.3,968.5 1229.2,980.0 1230.1,986.7 1231.0,969.2 1231.9,998.8 1232.8,986.2 1233.7,984.0 1234.6,957.9 1235.5,911.1 1236.4,898.1 1237.3,879.2 1238.2,892.1 1239.1,912.3 1240.0,920.7 1240.9,935.3 1241.8,923.8 1242.7,935.4 1243.6,901.0 1244.5,960.5 1245.4,958.4 1246.3,933.2 1247.2,893.8 1248.1,955.5 1249.0,944.6 1249.9,948.9 1250.8,947.2 1251.7,970.9 1252.6,962.7 1253.5,992.0 1254.4,962.6 1255.3,996.7 1256.2,955.1 1257.1,998.6 1258.0,996.5 1258.9,976.6 1259.8,951.8 1260.7,1027.3 1261.6,1020.2 1262.5,1039.9 1263.4,1033.6 1264.3,1008.3 1265.2,1053.1 1266.1,1030.5 1267.0,1019.1 1267.9,1067.4 1268.8,988.4 1269.7,1049.3 1270.6,1078.7 1271.5,1087.0 1272.4,1090.4 1273.3,1105.4 1274.2,1094.2 1275.1,1100.0 1276.0,1103.4 1276.9,1086.8 1277.8,1088.7 1278.7,1074.8 1279.6,1107.0 1280.5,1077.7 1281.4,1093.7 1282.3,1088.0 1283.2,1063.4 1284.1,1078.4 1285.0,1048.6 1285.9,1054.2 1286.8,1024.8 1287.7,1060.9 1288.6,1029.3 1289.5,1054.2 1290.4,1029.4 1291.3,1050.8 1292.2,980.7 1293.1,1024.0 1294.0,991.2 1294.9,1002.4 1295.8,973.5 1296.7,1009.2 1297.6,987.2 1298.5,981.8 1299.4,1011.7 1300.3,985.6 1301.2,993.3 1302.1,1015.1 1303.0,1040.4 1303.9,1048.5 1304.8,1046.6 1305.7,1003.5 1306.6,1050.2 1307.5,1007.6 1308.4,1033.7 1309.3,1039.6 1310.2,1044.6 1311.1,1049.7 1312.0,998.6 1312.9,1009.1 1313.8,1047.7 1314.7,1033.5 1315.6,1030.9 1316.5,1016.6 1317.4,980.9 1318.3,1018.4 1319.2,1013.6 1320.1,1025.2 1321.0,1034.7 1321.9,1008.0 1322.8,1011.2 1323.7,1013.9 1324.6,1040.5 1325.5,1054.4 1326.4,1028.9 1327.3,1043.5 1328.2,1068.5 1329.1,1077.8 1330.0,1056.9 1330.9,1059.7 1331.8,1061.3 1332.7,1056.8 1333.6,1034.7 1334.5,1038.1 1335.4,1049.2 1336.3,1007.5 1337.2,1029.7 1338.1,1039.9 1339.0,970.1 1339.9,1019.4 1340.8,1025.0 1341.7,1014.6 1342.6,1041.4 1343.5,1040.7 1344.4,1039.1 1345.3,997.6 1346.2,1006.9 1347.1,1035.6 1348.0,1016.3 1348.9,1029.0 1349.8,1013.6 1350.7,1038.4 1351.6,1039.9 1352.5,1000.7 1353.4,1041.7 1354.3,989.9 1355.2,1030.5 1356.1,1064.5 1357.0,1040.6 1357.9,1055.2 1358.8,1053.9 1359.7,986.3 1360.6,1028.0 1361.5,1006.6 1362.4,1018.1 1363.3,971.8 1364.2,993.6 1365.1,1022.7 1366.0,946.8 1366.9,1019.4 1367.8,1022.0 1368.7,1023.6 1369.6,989.0 1370.5,955.5 1371.4,1012.9 1372.3,1000.8 1373.2,949.3 1374.1,1017.5 1375.0,1023.5 1375.9,1038.0 1376.8,1001.9 1377.7,1022.1 1378.6,1031.4 1379.5,1041.7 1380.4,1038.3 1381.3,1011.8 1382.2,1026.6 1383.1,1030.2 1384.0,1039.1 1384.9,1039.0 1385.8,1035.3 1386.7,1035.3 1387.6,1055.5 1388.5,1059.9 1389.4,1036.7 1390.3,1081.4 1391.2,1041.5 1392.1,1076.5 1393.0,1075.1 1393.9,1059.5 1394.8,1033.6 1395.7,1073.5 1396.6,1033.7 1397.5,1038.7 1398.4,1039.3 1399.3,1006.2 1400.2,976.0 1401.1,1009.7 1402.0,1020.9 1402.9,976.5 1403.8,1015.4 1404.7,1000.6 1405.6,1021.5 1406.5,981.0 1407.4,1032.7 1408.3,1044.2 1409.2,1033.3 1410.1,975.5 1411.0,966.4 1411.9,1007.8 1412.8,993.6 1413.7,966.0 1414.6,966.0 1415.5,950.6 1416.4,972.0 1417.3,978.0 1418.2,968.6 1419.1,1000.4 1420.0,984.9 1420.9,1012.5 1421.8,1029.2 1422.7,992.6 1423.6,1034.5 1424.5,1039.9 1425.4,1018.9 1426.3,1045.5 1427.2,1043.7 1428.1,1022.1 1429.0,1048.6 1429.9,1065.7 1430.8,1082.9 1431.7,1050.8 1432.6,1028.2 1433.5,1056.6 1434.4,1007.6 1435.3,1034.5 1436.2,986.4 1437.1,1045.8 1438.0,988.9 1438.9,1016.8 1439.8,1016.0 1440.7,1043.8 1441.6,1029.5 1442.5,1010.7 1443.4,1004.8 1444.3,1052.0 1445.2,1017.7 1446.1,1014.8 1447.0,1016.7 1447.9,1059.9 1448.8,1038.9 1449.7,1042.2 1450.6,1052.3 1451.5,1017.4 1452.4,1049.1 1453.3,1045.6 1454.2,1008.6 1455.1,1002.3 1456.0,1010.6 1456.9,1031.5 1457.8,971.0 1458.7,992.7 1459.6,981.2 1460.5,1008.3 1461.4,999.3 1462.3,984.9 1463.2,999.4 1464.1,995.2 1465.0,972.1 1465.9,994.9 1466.8,974.2 1467.7,950.2 1468.6,988.5 1469.5,933.0 1470.4,960.4 1471.3,994.2 1472.2,1005.9 1473.1,981.1 1474.0,986.9 1474.9,1015.7 1475.8,1017.5 1476.7,999.4 1477.6,987.9 1478.5,1014.5 1479.4,1032.9 1480.3,1011.6 1481.2,1021.6 1482.1,1052.8 1483.0,1051.8 1483.9,1025.2 1484.8,1035.1 1485.7,1066.5 1486.6,1023.7 1487.5,1070.2 1488.4,1035.0 1489.3,1029.7 1490.2,1072.7 1491.1,1054.3 1492.0,1066.4 1492.9,1043.7 1493.8,1064.9 1494.7,1057.8 1495.6,1080.4 1496.5,1063.7 1497.4,1080.9 1498.3,1065.9 1499.2,1067.4 1500.1,1058.9 1501.0,1057.5 1501.9,1051.1 1502.8,1043.5 1503.7,1010.9 1504.6,1020.2 1505.5,990.2 1506.4,1009.8 1507.3,995.0 1508.2,980.2 1509.1,943.4 1510.0,975.1 1510.9,956.5 1511.8,972.4 1512.7,944.4 1513.6,942.2 1514.5,936.7 1515.4,1006.5 1516.3,944.0 1516.3,1112.5 1515.4,1048.8 1514.5,1050.4 1513.6,1073.8 1512.7,1009.9 1511.8,998.8 1510.9,1048.9 1510.0,1022.7 1509.1,1019.3 1508.2,1027.2 1507.3,1049.4 1506.4,1058.0 1505.5,1089.3 1504.6,1058.3 1503.7,1139.4 1502.8,1077.2 1501.9,1134.9 1501.0,1119.0 1500.1,1101.2 1499.2,1160.6 1498.3,1228.1 1497.4,1154.2 1496.5,1146.9 1495.6,1153.3 1494.7,1146.5 1493.8,1127.9 1492.9,1111.9 1492.0,1153.9 1491.1,1114.1 1490.2,1118.6 1489.3,1111.6 1488.4,1130.6 1487.5,1114.8 1486.6,1102.3 1485.7,1101.5 1484.8,1122.2 1483.9,1125.6 1483.0,1106.1 1482.1,1137.1 1481.2,1138.6 1480.3,1073.3 1479.4,1103.6 1478.5,1085.8 1477.6,1062.2 1476.7,1092.8 1475.8,1073.5 1474.9,1052.1 1474.0,1081.4 1473.1,1048.6 1472.2,1036.6 1471.3,1030.3 1470.4,1065.7 1469.5,1042.6 1468.6,1058.3 1467.7,1043.1 1466.8,1063.9 1465.9,1046.6 1465.0,1030.3 1464.1,1046.3 1463.2,1034.5 1462.3,1037.8 1461.4,1050.5 1460.5,1078.8 1459.6,1113.2 1458.7,1089.0 1457.8,1068.5 1456.9,1068.5 1456.0,1092.0 1455.1,1115.4 1454.2,1072.4 1453.3,1131.3 1452.4,1082.0 1451.5,1119.3 1450.6,1091.8 1449.7,1143.3 1448.8,1094.0 1447.9,1119.9 1447.0,1118.2 1446.1,1084.8 1445.2,1083.9 1444.3,1120.9 1443.4,1091.7 1442.5,1120.0 1441.6,1108.3 1440.7,1092.5 1439.8,1075.7 1438.9,1134.3 1438.0,1101.2 1437.1,1092.5 1436.2,1111.7 1435.3,1097.1 1434.4,1088.5 1433.5,1096.3 1432.6,1108.1 1431.7,1120.4 1430.8,1139.3 1429.9,1140.9 1429.0,1112.7 1428.1,1141.8 1427.2,1105.3 1426.3,1133.8 1425.4,1107.7 1424.5,1109.1 1423.6,1113.7 1422.7,1085.7 1421.8,1095.0 1420.9,1100.5 1420.0,1082.3 1419.1,1084.0 1418.2,1061.3 1417.3,1033.7 1416.4,1023.7 1415.5,1095.7 1414.6,1051.3 1413.7,1045.0 1412.8,1042.4 1411.9,1061.7 1411.0,1083.6 1410.1,1103.4 1409.2,1113.6 1408.3,1075.5 1407.4,1073.1 1406.5,1104.2 1405.6,1127.1 1404.7,1085.0 1403.8,1092.0 1402.9,1066.6 1402.0,1070.0 1401.1,1059.9 1400.2,1085.4 1399.3,1134.1 1398.4,1079.3 1397.5,1108.8 1396.6,1096.4 1395.7,1137.5 1394.8,1140.0 1393.9,1128.4 1393.0,1163.7 1392.1,1132.7 1391.2,1119.1 1390.3,1130.4 1389.4,1123.2 1388.5,1160.1 1387.6,1105.8 1386.7,1120.3 1385.8,1098.7 1384.9,1102.2 1384.0,1075.3 1383.1,1096.7 1382.2,1086.4 1381.3,1116.7 1380.4,1083.0 1379.5,1087.3 1378.6,1077.8 1377.7,1087.7 1376.8,1089.8 1375.9,1069.0 1375.0,1068.2 1374.1,1122.0 1373.2,1085.8 1372.3,1069.0 1371.4,1063.1 1370.5,1123.2 1369.6,1053.1 1368.7,1060.6 1367.8,1061.1 1366.9,1055.4 1366.0,1087.6 1365.1,1060.5 1364.2,1063.4 1363.3,1083.2 1362.4,1068.9 1361.5,1101.0 1360.6,1080.4 1359.7,1092.9 1358.8,1098.1 1357.9,1092.5 1357.0,1127.9 1356.1,1102.5 1355.2,1093.2 1354.3,1152.5 1353.4,1108.4 1352.5,1133.5 1351.6,1116.0 1350.7,1111.0 1349.8,1100.6 1348.9,1121.8 1348.0,1099.9 1347.1,1093.6 1346.2,1103.0 1345.3,1083.9 1344.4,1075.8 1343.5,1092.1 1342.6,1085.9 1341.7,1108.8 1340.8,1113.3 1339.9,1082.8 1339.0,1123.6 1338.1,1080.2 1337.2,1140.2 1336.3,1095.4 1335.4,1138.3 1334.5,1145.8 1333.6,1122.1 1332.7,1119.8 1331.8,1120.9 1330.9,1179.2 1330.0,1113.2 1329.1,1163.2 1328.2,1166.4 1327.3,1122.2 1326.4,1109.7 1325.5,1114.5 1324.6,1121.3 1323.7,1117.0 1322.8,1127.5 1321.9,1115.0 1321.0,1084.3 1320.1,1098.4 1319.2,1075.2 1318.3,1081.0 1317.4,1118.3 1316.5,1092.9 1315.6,1075.4 1314.7,1082.3 1313.8,1111.9 1312.9,1086.3 1312.0,1117.2 1311.1,1096.4 1310.2,1144.2 1309.3,1108.9 1308.4,1132.5 1307.5,1111.4 1306.6,1139.3 1305.7,1140.5 1304.8,1098.0 1303.9,1094.8 1303.0,1091.0 1302.1,1083.5 1301.2,1121.3 1300.3,1101.6 1299.4,1085.5 1298.5,1078.2 1297.6,1070.4 1296.7,1047.5 1295.8,1074.5 1294.9,1085.2 1294.0,1092.6 1293.1,1069.7 1292.2,1080.9 1291.3,1124.4 1290.4,1120.5 1289.5,1107.6 1288.6,1177.9 1287.7,1130.0 1286.8,1131.8 1285.9,1117.6 1285.0,1169.7 1284.1,1134.6 1283.2,1136.8 1282.3,1150.6 1281.4,1154.9 1280.5,1160.5 1279.6,1145.5 1278.7,1181.7 1277.8,1152.9 1276.9,1163.3 1276.0,1153.8 1275.1,1173.7 1274.2,1194.3 1273.3,1156.1 1272.4,1189.8 1271.5,1132.4 1270.6,1159.4 1269.7,1144.1 1268.8,1130.8 1267.9,1110.3 1267.0,1113.9 1266.1,1154.7 1265.2,1106.5 1264.3,1103.9 1263.4,1070.8 1262.5,1069.4 1261.6,1074.3 1260.7,1103.5 1259.8,1068.7 1258.9,1053.7 1258.0,1096.6 1257.1,1088.9 1256.2,1057.7 1255.3,1051.3 1254.4,1033.1 1253.5,1039.7 1252.6,1063.0 1251.7,1032.0 1250.8,1019.9 1249.9,1048.0 1249.0,1010.3 1248.1,1020.6 1247.2,1005.6 1246.3,1003.8 1245.4,995.5 1244.5,1006.2 1243.6,1013.6 1242.7,1001.9 1241.8,973.3 1240.9,976.9 1240.0,991.5 1239.1,950.1 1238.2,967.9 1237.3,947.5 1236.4,960.6 1235.5,990.1 1234.6,1006.6 1233.7,1060.2 1232.8,1035.9 1231.9,1027.4 1231.0,1039.7 1230.1,1020.4 1229.2,1006.8 1228.3,1047.6 1227.4,1056.2 1226.5,1061.9 1225.6,1002.2 1224.7,1039.5 1223.8,993.6 1222.9,982.0 1222.0,977.2 1221.1,1008.4 1220.2,1011.8 1219.3,978.7 1218.4,1012.2 1217.5,1002.7 1216.6,989.6 1215.7,1014.4 1214.8,970.0 1213.9,964.2 1213.0,967.2 1212.1,960.2 1211.2,969.9 1210.3,979.9 1209.4,999.9 1208.5,945.4 1207.6,992.5 1206.7,969.1 1205.8,972.1 1204.9,929.2 1204.0,928.7 1203.1,970.9 1202.2,925.2 1201.3,911.3 1200.4,900.5 1199.5,943.5 1198.6,917.8 1197.7,886.2 1196.8,904.2 1195.9,878.4 1195.0,912.0 1194.1,909.3 1193.2,914.0 1192.3,876.0 1191.4,915.4 1190.5,864.0 1189.6,876.9 1188.7,931.6 1187.8,881.2 1186.9,840.1 1186.0,835.7 1185.1,893.8 1184.2,905.2 1183.3,882.4 1182.4,889.3 1181.5,891.0 1180.6,874.6 1179.7,942.3 1178.8,907.8 1177.9,909.9 1177.0,902.8 1176.1,911.8 1175.2,941.2 1174.3,947.0 1173.4,920.9 1172.5,982.4 1171.6,929.0 1170.7,943.3 1169.8,908.7 1168.9,920.9 1168.0,917.5 1167.1,905.2 1166.2,910.1 1165.3,938.1 1164.4,912.0 1163.5,948.4 1162.6,967.2 1161.7,952.8 1160.8,984.4 1159.9,939.3 1159.0,939.4 1158.1,934.1 1157.2,979.6 1156.3,904.5 1155.4,975.3 1154.5,894.2 1153.6,895.9 1152.7,898.6 1151.8,904.5 1150.9,894.5 1150.0,891.4 1149.1,928.5 1148.2,944.1 1147.3,890.8 1146.4,908.2 1145.5,920.1 1144.6,917.9 1143.7,916.2 1142.8,936.1 1141.9,932.7 1141.0,946.5 1140.1,912.5 1139.2,917.6 1138.3,917.2 1137.4,956.9 1136.5,965.1 1135.6,962.7 1134.7,940.0 1133.8,932.3 1132.9,951.7 1132.0,957.6 1131.1,935.8 1130.2,918.8 1129.3,936.2 1128.4,976.4 1127.5,933.0 1126.6,926.5 1125.7,936.4 1124.8,918.9 1123.9,900.9 1123.0,964.9 1122.1,924.7 1121.2,939.6 1120.3,951.6 1119.4,950.9 1118.5,943.5 1117.6,939.4 1116.7,1024.1 1115.8,979.5 1114.9,961.6 1114.0,966.2 1113.1,987.0 1112.2,1004.1 1111.3,997.7 1110.4,1011.9 1109.5,1042.5 1108.6,1016.8 1107.7,1015.6 1106.8,981.3 1105.9,980.8 1105.0,992.5 1104.1,986.6 1103.2,974.3 1102.3,978.1 1101.4,990.5 1100.5,993.2 1099.6,954.3 1098.7,950.9 1097.8,980.1 1096.9,979.8 1096.0,1012.6 1095.1,964.6 1094.2,993.8 1093.3,1011.2 1092.4,999.5 1091.5,969.2 1090.6,995.1 1089.7,959.7 1088.8,941.6 1087.9,949.1 1087.0,943.0" fill="#f7b8b8" fill-opacity="0.55"/>
<polyline points="1087.0,908.0 1087.6,909.3 1088.1,906.6 1088.7,911.2 1089.2,915.1 1089.8,924.2 1090.3,937.5 1090.9,954.1 1091.4,953.6 1092.0,956.8 1092.5,956.0 1093.1,953.0 1093.6,951.1 1094.2,949.2 1094.7,947.9 1095.3,940.7 1095.8,929.0 1096.4,926.3 1096.9,933.8 1097.5,941.8 1098.0,933.8 1098.6,927.5 1099.1,924.3 1099.7,923.1 1100.2,923.1 1100.8,931.5 1101.3,940.7 1101.9,941.0 1102.4,944.0 1103.0,941.2 1103.5,936.1 1104.1,933.3 1104.6,948.6 1105.2,960.7 1105.7,962.3 1106.3,961.6 1106.8,966.7 1107.4,975.1 1107.9,980.0 1108.5,975.2 1109.0,967.7 1109.6,966.6 1110.1,967.7 1110.7,963.9 1111.2,953.7 1111.8,943.8 1112.3,944.5 1112.9,943.5 1113.4,939.8 1114.0,936.0 1114.5,934.5 1115.1,939.7 1115.6,944.6 1116.2,933.2 1116.7,922.9 1117.3,918.0 1117.8,917.8 1118.4,916.6 1118.9,923.8 1119.5,930.4 1120.0,922.6 1120.6,914.1 1121.1,910.8 1121.7,912.0 1122.2,909.9 1122.8,895.6 1123.3,881.2 1123.9,880.9 1124.4,885.0 1125.0,884.1 1125.5,889.4 1126.1,890.8 1126.6,897.6 1127.2,903.8 1127.7,902.3 1128.3,896.0 1128.8,896.9 1129.4,911.2 1129.9,922.9 1130.5,912.1 1131.0,903.7 1131.6,904.8 1132.1,917.6 1132.7,923.0 1133.2,912.3 1133.8,903.9 1134.3,903.6 1134.9,904.4 1135.4,905.4 1136.0,910.5 1136.5,911.9 1137.1,910.3 1137.6,906.3 1138.2,905.3 1138.7,902.4 1139.3,900.8 1139.8,898.7 1140.4,894.7 1140.9,900.2 1141.5,900.5 1142.0,896.0 1142.6,892.1 1143.1,892.1 1143.7,902.7 1144.2,910.8 1144.8,905.5 1145.3,900.6 1145.9,893.2 1146.4,889.6 1147.0,886.2 1147.5,875.7 1148.1,869.2 1148.6,878.8 1149.2,892.5 1149.7,893.3 1150.3,880.9 1150.8,867.3 1151.4,860.2 1151.9,852.6 1152.5,849.5 1153.0,849.2 1153.6,849.4 1154.1,847.9 1154.7,848.4 1155.2,860.2 1155.8,870.0 1156.3,876.7 1156.9,874.9 1157.4,874.2 1158.0,883.6 1158.5,888.1 1159.1,906.2 1159.6,922.2 1160.2,925.5 1160.7,917.9 1161.3,908.6 1161.8,903.3 1162.4,896.4 1162.9,904.6 1163.5,910.9 1164.0,908.6 1164.6,894.9 1165.1,885.4 1165.7,891.7 1166.2,902.8 1166.8,892.0 1167.3,878.5 1167.9,871.3 1168.4,876.0 1169.0,880.8 1169.5,875.8 1170.1,876.5 1170.6,874.7 1171.2,875.7 1171.7,879.1 1172.3,883.8 1172.8,887.6 1173.4,894.5 1173.9,902.0 1174.5,900.4 1175.0,895.2 1175.6,889.7 1176.1,881.6 1176.7,875.3 1177.2,866.7 1177.8,858.8 1178.3,861.0 1178.9,872.6 1179.4,877.1 1180.0,863.9 1180.5,851.9 1181.1,847.9 1181.6,840.9 1182.2,840.6 1182.7,844.7 1183.3,847.0 1183.8,842.0 1184.4,840.0 1184.9,834.8 1185.5,833.6 1186.0,827.7 1186.6,817.8 1187.1,818.6 1187.7,814.4 1188.2,812.4 1188.8,818.9 1189.3,835.3 1189.9,843.7 1190.4,842.1 1191.0,844.5 1191.5,845.9 1192.1,849.3 1192.6,846.4 1193.2,847.9 1193.7,847.4 1194.3,857.1 1194.8,865.4 1195.4,868.0 1195.9,866.2 1196.5,869.6 1197.0,871.9 1197.6,878.1 1198.1,883.8 1198.7,890.6 1199.2,890.1 1199.8,886.1 1200.3,883.1 1200.9,885.8 1201.4,885.9 1202.0,890.4 1202.5,893.8 1203.1,893.8 1203.6,892.2 1204.2,892.6 1204.7,902.7 1205.3,910.4 1205.8,918.5 1206.4,927.2 1206.9,932.4 1207.5,936.5 1208.0,936.1 1208.6,935.4 1209.1,930.9 1209.7,929.6 1210.2,926.7 1210.8,931.2 1211.3,939.1 1211.9,945.8 1212.4,944.0 1213.0,942.2 1213.5,945.4 1214.1,948.5 1214.6,950.0 1215.2,957.9 1215.7,963.4 1216.3,958.8 1216.8,951.2 1217.4,955.5 1217.9,960.0 1218.5,964.9 1219.0,964.6 1219.6,960.8 1220.1,963.5 1220.7,967.2 1221.2,967.1 1221.8,961.0 1222.3,958.0 1222.9,965.2 1223.4,968.3 1224.0,972.2 1224.5,975.5 1225.1,977.6 1225.6,978.6 1226.2,977.9 1226.7,980.4 1227.3,982.8 1227.8,984.7 1228.4,987.6 1228.9,991.9 1229.5,1004.4 1230.0,1018.5 1230.6,1004.1 1231.1,991.6 1231.7,995.1 1232.2,1012.0 1232.8,1023.9 1233.3,1026.0 1233.9,1012.6 1234.4,993.6 1235.0,971.9 1235.5,955.3 1236.1,941.8 1236.6,927.1 1237.2,904.2 1237.7,904.5 1238.3,917.1 1238.8,930.0 1239.4,941.7 1239.9,947.8 1240.5,953.8 1241.0,956.1 1241.6,962.7 1242.1,969.0 1242.7,981.5 1243.2,983.2 1243.8,970.7 1244.3,958.1 1244.9,962.6 1245.4,965.1 1246.0,969.3 1246.5,975.3 1247.1,978.3 1247.6,985.9 1248.2,991.7 1248.7,992.7 1249.3,995.5 1249.8,992.3 1250.4,988.9 1250.9,986.2 1251.5,989.8 1252.0,999.8 1252.6,1005.8 1253.1,1011.5 1253.7,1014.0 1254.2,1005.0 1254.8,1001.5 1255.3,1011.6 1255.9,1022.9 1256.4,1028.6 1257.0,1035.2 1257.5,1037.5 1258.1,1039.9 1258.6,1044.5 1259.2,1045.5 1259.7,1050.9 1260.3,1047.4 1260.8,1044.8 1261.4,1042.1 1261.9,1036.0 1262.5,1033.5 1263.0,1036.9 1263.6,1042.9 1264.1,1048.1 1264.7,1052.8 1265.2,1057.8 1265.8,1065.2 1266.3,1068.5 1266.9,1074.4 1267.4,1083.6 1268.0,1087.0 1268.5,1085.3 1269.1,1085.5 1269.6,1094.3 1270.2,1101.5 1270.7,1112.1 1271.3,1123.8 1271.8,1128.8 1272.4,1124.6 1272.9,1117.2 1273.5,1125.1 1274.0,1131.4 1274.6,1135.7 1275.1,1136.0 1275.7,1138.6 1276.2,1139.5 1276.8,1141.9 1277.3,1145.7 1277.9,1148.2 1278.4,1145.7 1279.0,1140.1 1279.5,1133.4 1280.1,1124.5 1280.6,1114.5 1281.2,1118.0 1281.7,1122.5 1282.3,1121.2 1282.8,1112.2 1283.4,1106.2 1283.9,1108.3 1284.5,1110.9 1285.0,1109.6 1285.6,1103.6 1286.1,1095.0 1286.7,1097.6 1287.2,1093.5 1287.8,1095.5 1288.3,1096.7 1288.9,1089.9 1289.4,1081.3 1290.0,1073.4 1290.5,1073.8 1291.1,1070.4 1291.6,1065.1 1292.2,1061.5 1292.7,1056.0 1293.3,1054.1 1293.8,1050.6 1294.4,1040.1 1294.9,1029.0 1295.5,1023.2 1296.0,1021.0 1296.6,1022.5 1297.1,1021.8 1297.7,1018.0 1298.2,1034.7 1298.8,1042.9 1299.3,1049.5 1299.9,1052.4 1300.4,1051.8 1301.0,1047.1 1301.5,1043.0 1302.1,1040.5 1302.6,1038.6 1303.2,1046.5 1303.7,1059.2 1304.3,1068.3 1304.8,1067.6 1305.4,1066.8 1305.9,1072.6 1306.5,1076.2 1307.0,1076.3 1307.6,1074.6 1308.1,1070.5 1308.7,1076.3 1309.2,1079.4 1309.8,1075.5 1310.3,1072.1 1310.9,1069.8 1311.4,1064.3 1312.0,1062.4 1312.5,1064.8 1313.1,1070.2 1313.6,1063.6 1314.2,1056.1 1314.7,1046.8 1315.3,1053.1 1315.8,1056.3 1316.4,1056.6 1316.9,1055.6 1317.5,1054.2 1318.0,1050.7 1318.6,1052.3 1319.1,1058.4 1319.7,1060.0 1320.2,1063.2 1320.8,1060.5 1321.3,1059.1 1321.9,1057.2 1322.4,1057.8 1323.0,1074.3 1323.5,1091.4 1324.1,1088.2 1324.6,1083.6 1325.2,1080.4 1325.7,1081.3 1326.3,1081.5 1326.8,1079.9 1327.4,1077.8 1327.9,1082.0 1328.5,1089.3 1329.0,1097.2 1329.6,1094.6 1330.1,1091.2 1330.7,1083.6 1331.2,1075.6 1331.8,1077.3 1332.3,1085.7 1332.9,1091.4 1333.4,1087.2 1334.0,1084.2 1334.5,1071.4 1335.1,1057.3 1335.6,1053.1 1336.2,1061.7 1336.7,1067.1 1337.3,1059.7 1337.8,1053.4 1338.4,1056.6 1338.9,1060.7 1339.5,1063.4 1340.0,1063.6 1340.6,1063.1 1341.1,1064.8 1341.7,1065.6 1342.2,1064.2 1342.8,1060.0 1343.3,1059.4 1343.9,1064.2 1344.4,1070.4 1345.0,1060.5 1345.5,1051.0 1346.1,1047.3 1346.6,1046.9 1347.2,1046.2 1347.7,1047.8 1348.3,1045.7 1348.8,1049.1 1349.4,1049.7 1349.9,1058.6 1350.5,1072.6 1351.0,1081.2 1351.6,1075.1 1352.1,1068.0 1352.7,1072.6 1353.2,1081.8 1353.8,1082.4 1354.3,1080.7 1354.9,1077.9 1355.4,1080.3 1356.0,1076.9 1356.5,1078.6 1357.1,1080.1 1357.6,1077.9 1358.2,1070.1 1358.7,1061.7 1359.3,1063.1 1359.8,1068.6 1360.4,1069.3 1360.9,1070.3 1361.5,1068.9 1362.0,1060.1 1362.6,1053.2 1363.1,1051.3 1363.7,1050.2 1364.2,1043.4 1364.8,1042.8 1365.3,1037.7 1365.9,1038.6 1366.4,1042.5 1367.0,1041.7 1367.5,1046.7 1368.1,1046.3 1368.6,1047.8 1369.2,1049.0 1369.7,1043.4 1370.3,1039.4 1370.8,1040.5 1371.4,1043.0 1371.9,1042.8 1372.5,1042.1 1373.0,1038.5 1373.6,1044.6 1374.1,1052.2 1374.7,1055.1 1375.2,1054.6 1375.8,1059.3 1376.3,1055.6 1376.9,1055.0 1377.4,1055.8 1378.0,1056.5 1378.5,1057.9 1379.1,1059.4 1379.6,1062.4 1380.2,1061.8 1380.7,1060.9 1381.3,1060.4 1381.8,1063.5 1382.4,1060.3 1382.9,1056.0 1383.5,1052.0 1384.0,1051.6 1384.6,1049.7 1385.1,1053.1 1385.7,1053.9 1386.2,1058.8 1386.8,1062.9 1387.3,1066.6 1387.9,1074.6 1388.4,1083.0 1389.0,1093.9 1389.5,1107.1 1390.1,1113.3 1390.6,1108.6 1391.2,1108.4 1391.7,1104.1 1392.3,1099.9 1392.8,1102.9 1393.4,1106.2 1393.9,1102.3 1394.5,1097.7 1395.0,1089.8 1395.6,1090.9 1396.1,1089.1 1396.7,1086.4 1397.2,1080.2 1397.8,1071.4 1398.3,1073.7 1398.9,1072.0 1399.4,1066.7 1400.0,1049.9 1400.5,1039.6 1401.1,1041.1 1401.6,1038.8 1402.2,1047.4 1402.7,1054.2 1403.3,1049.9 1403.8,1044.7 1404.4,1039.6 1404.9,1047.9 1405.5,1050.5 1406.0,1059.8 1406.6,1064.2 1407.1,1066.8 1407.7,1066.9 1408.2,1062.5 1408.8,1059.1 1409.3,1056.8 1409.9,1046.5 1410.4,1038.6 1411.0,1030.3 1411.5,1022.7 1412.1,1014.9 1412.6,1015.4 1413.2,1017.9 1413.7,1019.6 1414.3,1019.0 1414.8,1018.0 1415.4,1007.7 1415.9,1000.3 1416.5,1004.0 1417.0,1004.7 1417.6,1008.1 1418.1,1009.7 1418.7,1018.7 1419.2,1036.5 1419.8,1055.6 1420.3,1048.7 1420.9,1036.8 1421.4,1040.1 1422.0,1047.2 1422.5,1055.0 1423.1,1057.5 1423.6,1061.0 1424.2,1066.4 1424.7,1075.8 1425.3,1078.1 1425.8,1070.2 1426.4,1063.4 1426.9,1067.3 1427.5,1071.6 1428.0,1076.9 1428.6,1087.4 1429.1,1090.5 1429.7,1085.4 1430.2,1080.8 1430.8,1090.6 1431.3,1093.8 1431.9,1098.8 1432.4,1098.4 1433.0,1095.8 1433.5,1086.7 1434.1,1081.3 1434.6,1065.6 1435.2,1050.5 1435.7,1049.3 1436.3,1049.4 1436.8,1056.1 1437.4,1054.3 1437.9,1051.8 1438.5,1055.6 1439.0,1065.7 1439.6,1070.5 1440.1,1072.8 1440.7,1072.9 1441.2,1071.7 1441.8,1070.7 1442.3,1067.0 1442.9,1066.8 1443.4,1064.8 1444.0,1064.2 1444.5,1061.9 1445.1,1064.8 1445.6,1067.0 1446.2,1067.1 1446.7,1064.7 1447.3,1065.8 1447.8,1068.7 1448.4,1067.6 1448.9,1069.0 1449.5,1068.6 1450.0,1067.6 1450.6,1068.6 1451.1,1070.3 1451.7,1073.8 1452.2,1076.4 1452.8,1067.3 1453.3,1053.7 1453.9,1050.5 1454.4,1062.8 1455.0,1071.9 1455.5,1064.5 1456.1,1055.9 1456.6,1054.9 1457.2,1052.5 1457.7,1051.8 1458.3,1044.0 1458.8,1038.9 1459.4,1035.4 1459.9,1031.8 1460.5,1034.9 1461.0,1036.9 1461.6,1037.7 1462.1,1028.4 1462.7,1021.8 1463.2,1014.7 1463.8,1010.4 1464.3,1009.1 1464.9,1012.4 1465.4,1011.3 1466.0,1006.8 1466.5,1004.1 1467.1,1007.8 1467.6,1012.1 1468.2,1010.7 1468.7,1009.6 1469.3,1007.5 1469.8,1011.4 1470.4,1017.4 1470.9,1019.2 1471.5,1018.8 1472.0,1022.4 1472.6,1024.8 1473.1,1028.7 1473.7,1035.0 1474.2,1044.6 1474.8,1045.7 1475.3,1045.1 1475.9,1047.2 1476.4,1054.8 1477.0,1060.4 1477.5,1052.6 1478.1,1039.9 1478.6,1041.6 1479.2,1052.7 1479.7,1063.4 1480.3,1067.2 1480.8,1069.7 1481.4,1068.8 1481.9,1068.1 1482.5,1067.2 1483.0,1059.0 1483.6,1056.8 1484.1,1067.1 1484.7,1075.2 1485.2,1079.7 1485.8,1080.4 1486.3,1086.5 1486.9,1094.1 1487.4,1099.5 1488.0,1100.8 1488.5,1099.7 1489.1,1100.8 1489.6,1100.3 1490.2,1099.5 1490.7,1099.1 1491.3,1095.2 1491.8,1096.0 1492.4,1097.7 1492.9,1098.5 1493.5,1097.6 1494.0,1096.3 1494.6,1103.4 1495.1,1106.9 1495.7,1102.2 1496.2,1100.0 1496.8,1098.6 1497.3,1101.7 1497.9,1106.8 1498.4,1106.2 1499.0,1102.8 1499.5,1094.7 1500.1,1087.6 1500.6,1077.9 1501.2,1075.4 1501.7,1072.6 1502.3,1063.2 1502.8,1053.9 1503.4,1045.7 1503.9,1041.7 1504.5,1035.4 1505.0,1032.2 1505.6,1028.9 1506.1,1024.6 1506.7,1019.1 1507.2,1010.2 1507.8,1003.4 1508.3,998.1 1508.9,1000.8 1509.4,999.3 1510.0,1001.3 1510.5,1000.4 1511.1,996.2 1511.6,995.0 1512.2,1000.7 1512.7,1010.6 1513.3,1019.6 1513.8,1021.8 1514.4,1022.7 1514.9,1027.9 1515.5,1046.4 1516.0,1063.3 1516.6,1057.8 1517.1,1055.9" fill="none" stroke="#ee3a3e" stroke-width="4.8" stroke-linejoin="miter" stroke-miterlimit="3"/>
<line x1="1089.9" y1="926.6" x2="1521" y2="926.6" stroke="#000" stroke-width="3.5" stroke-dasharray="23.8 13.6"/>
<rect x="1226" y="796.4" width="267.5" height="11.3" fill="#0a7cf0"/>
<polyline points="1056.4,972.2 1056.4,1018.8 1139.8,1018.8" fill="none" stroke="#000" stroke-width="6.6"/>
<text x="1071.2" y="1046.9" font-size="24" text-anchor="start" font-weight="normal" fill="#000" textLength="41.5" lengthAdjust="spacingAndGlyphs" >30s</text>
<text x="1039.7" y="1001.3" font-size="25.3" text-anchor="middle" transform="rotate(-90 1039.7 1001.3)" textLength="226.5" lengthAdjust="spacingAndGlyphs">0.5% dF/F (z-score)</text>
<rect x="815.9" y="801.2" width="122.8" height="394.5" fill="#c6ddf7"/>
<line x1="695.5" y1="798.4" x2="695.5" y2="1198.4" stroke="#000" stroke-width="2.9"/>
<line x1="694.1" y1="1197" x2="938.6" y2="1197" stroke="#000" stroke-width="2.9"/>
<line x1="688.0" y1="799.8" x2="695.5" y2="799.8" stroke="#000" stroke-width="2.9"/>
<text x="682.5" y="807.0" font-size="26.5" text-anchor="end" font-weight="normal" fill="#000" >50</text>
<line x1="688.0" y1="879.5" x2="695.5" y2="879.5" stroke="#000" stroke-width="2.9"/>
<text x="682.5" y="886.7" font-size="26.5" text-anchor="end" font-weight="normal" fill="#000" >0</text>
<line x1="688.0" y1="959.2" x2="695.5" y2="959.2" stroke="#000" stroke-width="2.9"/>
<text x="682.5" y="966.4" font-size="26.5" text-anchor="end" font-weight="normal" fill="#000" >-50</text>
<line x1="688.0" y1="1038.9" x2="695.5" y2="1038.9" stroke="#000" stroke-width="2.9"/>
<text x="682.5" y="1046.1" font-size="26.5" text-anchor="end" font-weight="normal" fill="#000" >-100</text>
<line x1="688.0" y1="1118.6" x2="695.5" y2="1118.6" stroke="#000" stroke-width="2.9"/>
<text x="682.5" y="1125.8" font-size="26.5" text-anchor="end" font-weight="normal" fill="#000" >-150</text>
<line x1="688.0" y1="1198.3" x2="695.5" y2="1198.3" stroke="#000" stroke-width="2.9"/>
<text x="682.5" y="1205.5" font-size="26.5" text-anchor="end" font-weight="normal" fill="#000" >-200</text>
<line x1="691.5" y1="839.65" x2="695.5" y2="839.65" stroke="#000" stroke-width="2.2"/>
<line x1="691.5" y1="919.35" x2="695.5" y2="919.35" stroke="#000" stroke-width="2.2"/>
<line x1="691.5" y1="999.05" x2="695.5" y2="999.05" stroke="#000" stroke-width="2.2"/>
<line x1="691.5" y1="1078.75" x2="695.5" y2="1078.75" stroke="#000" stroke-width="2.2"/>
<line x1="691.5" y1="1158.45" x2="695.5" y2="1158.45" stroke="#000" stroke-width="2.2"/>
<line x1="725" y1="1197" x2="725" y2="1204.5" stroke="#000" stroke-width="2.9"/>
<line x1="785.9" y1="1197" x2="785.9" y2="1204.5" stroke="#000" stroke-width="2.9"/>
<line x1="846.6" y1="1197" x2="846.6" y2="1204.5" stroke="#000" stroke-width="2.9"/>
<line x1="907.1" y1="1197" x2="907.1" y2="1204.5" stroke="#000" stroke-width="2.9"/>
<line x1="699.8" y1="879.5" x2="750.8" y2="879.5" stroke="#858585" stroke-width="3"/>
<rect x="720.2" y="874.4" width="10.4" height="9.8" fill="#858585"/>
<line x1="822.2" y1="879.5" x2="871.8" y2="879.5" stroke="#858585" stroke-width="3"/>
<rect x="841.8" y="874.4" width="10.4" height="9.8" fill="#858585"/>
<line x1="786.2" y1="893.4" x2="786.2" y2="898.8" stroke="#000" stroke-width="2.8"/>
<line x1="774.6" y1="893.4" x2="797.8000000000001" y2="893.4" stroke="#000" stroke-width="2.8"/>
<g stroke="#000" stroke-width="2.4"><line x1="782.0" y1="889.1999999999999" x2="790.4000000000001" y2="897.6"/><line x1="782.0" y1="897.6" x2="790.4000000000001" y2="889.1999999999999"/><line x1="786.2" y1="888.6999999999999" x2="786.2" y2="898.1"/></g>
<line x1="786.2" y1="1022.7" x2="786.2" y2="1045.1" stroke="#000" stroke-width="2.8"/>
<line x1="774.6" y1="1045.1" x2="797.8000000000001" y2="1045.1" stroke="#000" stroke-width="2.8"/>
<g stroke="#000" stroke-width="2.4"><line x1="782.0" y1="1040.8999999999999" x2="790.4000000000001" y2="1049.3"/><line x1="782.0" y1="1049.3" x2="790.4000000000001" y2="1040.8999999999999"/><line x1="786.2" y1="1040.3999999999999" x2="786.2" y2="1049.8"/></g>
<rect x="761.8" y="898.8" width="49.200000000000045" height="123.90000000000009" fill="none" stroke="#000" stroke-width="2.8"/>
<line x1="761.8" y1="956.2" x2="811" y2="956.2" stroke="#000" stroke-width="2.8"/>
<rect x="782.70" y="958.90" width="6.80" height="6.80" fill="none" stroke="#000" stroke-width="2.2"/>
<line x1="907.3" y1="902.5" x2="907.3" y2="909.6" stroke="#e0101a" stroke-width="2.8"/>
<line x1="895.3" y1="902.5" x2="919.3" y2="902.5" stroke="#e0101a" stroke-width="2.8"/>
<g stroke="#e0101a" stroke-width="2.4"><line x1="903.0999999999999" y1="898.3" x2="911.5" y2="906.7"/><line x1="903.0999999999999" y1="906.7" x2="911.5" y2="898.3"/><line x1="907.3" y1="897.8" x2="907.3" y2="907.2"/></g>
<line x1="907.3" y1="1090.7" x2="907.3" y2="1123.8" stroke="#e0101a" stroke-width="2.8"/>
<line x1="895.3" y1="1123.8" x2="919.3" y2="1123.8" stroke="#e0101a" stroke-width="2.8"/>
<g stroke="#e0101a" stroke-width="2.4"><line x1="903.0999999999999" y1="1119.6" x2="911.5" y2="1128.0"/><line x1="903.0999999999999" y1="1128.0" x2="911.5" y2="1119.6"/><line x1="907.3" y1="1119.1" x2="907.3" y2="1128.5"/></g>
<rect x="882.9" y="909.6" width="48.89999999999998" height="181.10000000000002" fill="none" stroke="#e0101a" stroke-width="2.8"/>
<line x1="882.9" y1="963.7" x2="931.8" y2="963.7" stroke="#e0101a" stroke-width="2.8"/>
<rect x="904.10" y="983.60" width="6.80" height="6.80" fill="none" stroke="#e0101a" stroke-width="2.2"/>
<polyline points="725.3,846.9 725.3,810.3 788,810.3 788,866.2" fill="none" stroke="#000" stroke-width="2.9" stroke-linejoin="miter"/>
<polyline points="843.9,841 843.9,805.5 906.7,805.5 906.7,860.9" fill="none" stroke="#000" stroke-width="2.9" stroke-linejoin="miter"/>
<text x="717.7" y="797.8" font-size="22.5" text-anchor="start" font-weight="normal" fill="#000" textLength="82" lengthAdjust="spacingAndGlyphs" >p = 0.07</text>
<text x="860" y="809.3" font-size="42" text-anchor="start" font-weight="normal" fill="#000" >**</text>
<text x="617" y="999" font-size="50" text-anchor="middle" transform="rotate(-90 617 999)" textLength="95.4" lengthAdjust="spacingAndGlyphs">AUC</text>
<text x="750.0" y="1234" font-size="30.6" text-anchor="end" transform="rotate(-45 750.0 1234)">Off_Before</text>
<text x="810.9" y="1234" font-size="30.6" text-anchor="end" transform="rotate(-45 810.9 1234)">Off_After</text>
<text x="871.6" y="1234" font-size="30.6" text-anchor="end" transform="rotate(-45 871.6 1234)">On_Before</text>
<text x="932.1" y="1234" font-size="30.6" text-anchor="end" transform="rotate(-45 932.1 1234)">On_After</text>
<rect x="1790.9" y="800.6" width="123.1" height="393.5" fill="#c6ddf7"/>
<line x1="1669.8" y1="795.6" x2="1669.8" y2="1197.1000000000001" stroke="#000" stroke-width="2.9"/>
<line x1="1668.3999999999999" y1="1195.7" x2="1910" y2="1195.7" stroke="#000" stroke-width="2.9"/>
<line x1="1662.3" y1="797.15" x2="1669.8" y2="797.15" stroke="#000" stroke-width="2.9"/>
<text x="1657.8" y="804.3" font-size="26.5" text-anchor="end" font-weight="normal" fill="#000" >100</text>
<line x1="1662.3" y1="877.0" x2="1669.8" y2="877.0" stroke="#000" stroke-width="2.9"/>
<text x="1657.8" y="884.2" font-size="26.5" text-anchor="end" font-weight="normal" fill="#000" >0</text>
<line x1="1662.3" y1="956.85" x2="1669.8" y2="956.85" stroke="#000" stroke-width="2.9"/>
<text x="1657.8" y="964.0" font-size="26.5" text-anchor="end" font-weight="normal" fill="#000" >-100</text>
<line x1="1662.3" y1="1036.7" x2="1669.8" y2="1036.7" stroke="#000" stroke-width="2.9"/>
<text x="1657.8" y="1043.9" font-size="26.5" text-anchor="end" font-weight="normal" fill="#000" >-200</text>
<line x1="1662.3" y1="1116.55" x2="1669.8" y2="1116.55" stroke="#000" stroke-width="2.9"/>
<text x="1657.8" y="1123.7" font-size="26.5" text-anchor="end" font-weight="normal" fill="#000" >-300</text>
<line x1="1662.3" y1="1196.4" x2="1669.8" y2="1196.4" stroke="#000" stroke-width="2.9"/>
<text x="1657.8" y="1203.6" font-size="26.5" text-anchor="end" font-weight="normal" fill="#000" >-400</text>
<line x1="1665.8" y1="837.075" x2="1669.8" y2="837.075" stroke="#000" stroke-width="2.2"/>
<line x1="1665.8" y1="916.925" x2="1669.8" y2="916.925" stroke="#000" stroke-width="2.2"/>
<line x1="1665.8" y1="996.775" x2="1669.8" y2="996.775" stroke="#000" stroke-width="2.2"/>
<line x1="1665.8" y1="1076.625" x2="1669.8" y2="1076.625" stroke="#000" stroke-width="2.2"/>
<line x1="1665.8" y1="1156.475" x2="1669.8" y2="1156.475" stroke="#000" stroke-width="2.2"/>
<line x1="1700.1" y1="1195.7" x2="1700.1" y2="1203.2" stroke="#000" stroke-width="2.9"/>
<line x1="1760.9" y1="1195.7" x2="1760.9" y2="1203.2" stroke="#000" stroke-width="2.9"/>
<line x1="1821.5" y1="1195.7" x2="1821.5" y2="1203.2" stroke="#000" stroke-width="2.9"/>
<line x1="1881.7" y1="1195.7" x2="1881.7" y2="1203.2" stroke="#000" stroke-width="2.9"/>
<line x1="1675.4" y1="871.1" x2="1726.1" y2="871.1" stroke="#858585" stroke-width="5.8"/>
<rect x="1697.2" y="875.2" width="7.2" height="6.2" fill="#fff" stroke="#858585" stroke-width="2"/>
<g stroke="#858585" stroke-width="2.6"><line x1="1697.2" y1="851.6" x2="1704.3999999999999" y2="858.8000000000001"/><line x1="1697.2" y1="858.8000000000001" x2="1704.3999999999999" y2="851.6"/></g>
<g stroke="#858585" stroke-width="2.6"><line x1="1697.2" y1="914.6999999999999" x2="1704.3999999999999" y2="921.9"/><line x1="1697.2" y1="921.9" x2="1704.3999999999999" y2="914.6999999999999"/></g>
<g stroke="#000" stroke-width="2.8"><line x1="1757.7" y1="873.6999999999999" x2="1764.8999999999999" y2="880.9"/><line x1="1757.7" y1="880.9" x2="1764.8999999999999" y2="873.6999999999999"/></g>
<line x1="1761.1" y1="1068" x2="1761.1" y2="1083.8" stroke="#000" stroke-width="2.8"/>
<line x1="1749.3" y1="1083.8" x2="1772.8999999999999" y2="1083.8" stroke="#000" stroke-width="2.8"/>
<g stroke="#000" stroke-width="2.4"><line x1="1756.8999999999999" y1="1079.6" x2="1765.3" y2="1088.0"/><line x1="1756.8999999999999" y1="1088.0" x2="1765.3" y2="1079.6"/><line x1="1761.1" y1="1079.1" x2="1761.1" y2="1088.5"/></g>
<rect x="1736.4" y="1035" width="49.399999999999864" height="33" fill="none" stroke="#000" stroke-width="2.8"/>
<line x1="1736.4" y1="1058" x2="1785.8" y2="1058" stroke="#000" stroke-width="2.8"/>
<rect x="1757.50" y="1020.40" width="6.80" height="6.80" fill="none" stroke="#000" stroke-width="2.2"/>
<line x1="1821.8" y1="830.9" x2="1821.8" y2="840.9" stroke="#858585" stroke-width="2.4"/>
<line x1="1809.8" y1="830.9" x2="1833.8" y2="830.9" stroke="#858585" stroke-width="2.4"/>
<g stroke="#858585" stroke-width="2.4"><line x1="1817.6" y1="826.6999999999999" x2="1826.0" y2="835.1"/><line x1="1817.6" y1="835.1" x2="1826.0" y2="826.6999999999999"/><line x1="1821.8" y1="826.1999999999999" x2="1821.8" y2="835.6"/></g>
<line x1="1821.8" y1="884.5" x2="1821.8" y2="905.3" stroke="#858585" stroke-width="2.4"/>
<line x1="1809.8" y1="905.3" x2="1833.8" y2="905.3" stroke="#858585" stroke-width="2.4"/>
<g stroke="#858585" stroke-width="2.4"><line x1="1817.6" y1="901.0999999999999" x2="1826.0" y2="909.5"/><line x1="1817.6" y1="909.5" x2="1826.0" y2="901.0999999999999"/><line x1="1821.8" y1="900.5999999999999" x2="1821.8" y2="910.0"/></g>
<rect x="1797" y="840.9" width="49.5" height="43.60000000000002" fill="none" stroke="#858585" stroke-width="2.4"/>
<line x1="1797" y1="861.1" x2="1846.5" y2="861.1" stroke="#858585" stroke-width="2.4"/>
<rect x="1818.40" y="861.20" width="6.80" height="6.80" fill="none" stroke="#858585" stroke-width="2.2"/>
<line x1="1882.4" y1="911.4" x2="1882.4" y2="912.4" stroke="#e0101a" stroke-width="2.8"/>
<line x1="1870.8000000000002" y1="911.4" x2="1894.0" y2="911.4" stroke="#e0101a" stroke-width="2.8"/>
<g stroke="#e0101a" stroke-width="2.4"><line x1="1878.2" y1="907.1999999999999" x2="1886.6000000000001" y2="915.6"/><line x1="1878.2" y1="915.6" x2="1886.6000000000001" y2="907.1999999999999"/><line x1="1882.4" y1="906.6999999999999" x2="1882.4" y2="916.1"/></g>
<line x1="1882.4" y1="1058.4" x2="1882.4" y2="1138.3" stroke="#e0101a" stroke-width="2.8"/>
<line x1="1870.8000000000002" y1="1138.3" x2="1894.0" y2="1138.3" stroke="#e0101a" stroke-width="2.8"/>
<g stroke="#e0101a" stroke-width="2.4"><line x1="1878.2" y1="1134.1" x2="1886.6000000000001" y2="1142.5"/><line x1="1878.2" y1="1142.5" x2="1886.6000000000001" y2="1134.1"/><line x1="1882.4" y1="1133.6" x2="1882.4" y2="1143.0"/></g>
<rect x="1857.5" y="912.4" width="49.799999999999955" height="146.0000000000001" fill="none" stroke="#e0101a" stroke-width="2.8"/>
<line x1="1857.5" y1="958.6" x2="1907.3" y2="958.6" stroke="#e0101a" stroke-width="2.8"/>
<rect x="1879.60" y="992.10" width="6.80" height="6.80" fill="none" stroke="#e0101a" stroke-width="2.2"/>
<polyline points="1699.1,833.7 1699.1,797.6 1761.3,797.6 1761.3,853.3" fill="none" stroke="#000" stroke-width="2.6" stroke-linejoin="miter"/>
<polyline points="1821.8,823.3 1821.8,793.2 1882,793.2 1882,902" fill="none" stroke="#000" stroke-width="2.6" stroke-linejoin="miter"/>
<text x="1723.6" y="808.8" font-size="40" text-anchor="start" font-weight="normal" fill="#000" >*</text>
<text x="1846.9" y="801.2" font-size="40" text-anchor="start" font-weight="normal" fill="#000" >*</text>
<text x="1590.6" y="996.7" font-size="49.5" text-anchor="middle" transform="rotate(-90 1590.6 996.7)" textLength="96" lengthAdjust="spacingAndGlyphs">AUC</text>
<text x="1725.1" y="1231" font-size="30.6" text-anchor="end" transform="rotate(-45 1725.1 1231)">Off_Before</text>
<text x="1785.9" y="1231" font-size="30.6" text-anchor="end" transform="rotate(-45 1785.9 1231)">Off_After</text>
<text x="1846.5" y="1231" font-size="30.6" text-anchor="end" transform="rotate(-45 1846.5 1231)">On_Before</text>
<text x="1906.7" y="1231" font-size="30.6" text-anchor="end" transform="rotate(-45 1906.7 1231)">On_After</text>
</svg></body></html>
